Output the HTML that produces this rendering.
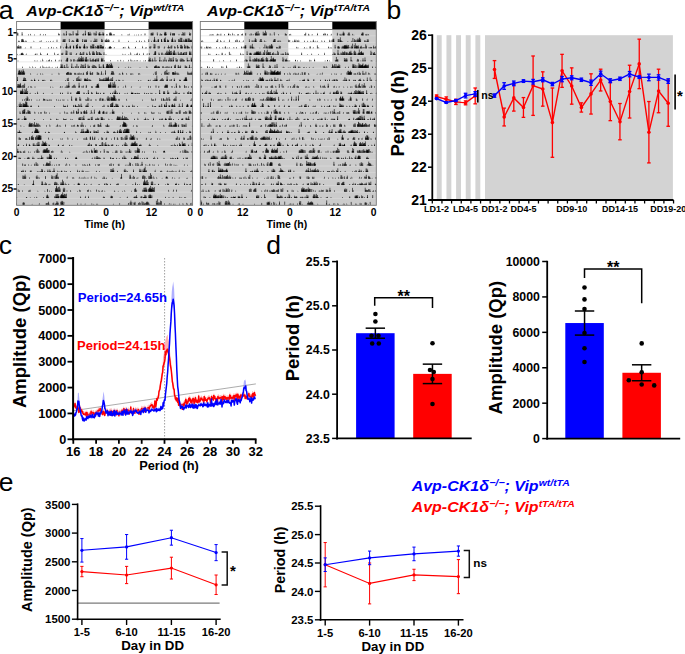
<!DOCTYPE html>
<html><head><meta charset="utf-8"><style>
html,body{margin:0;padding:0;background:#fff;}
svg{display:block;font-family:"Liberation Sans", sans-serif;}
use{fill:#000;stroke:none;}
use.n{fill:none;stroke:#000;stroke-width:0.6;}
</style></head><body>
<svg width="685" height="654" viewBox="0 0 685 654">
<defs><filter id="bl" x="-5%" y="-5%" width="110%" height="110%"><feGaussianBlur stdDeviation="0.3"/></filter><path id="wt1" d="M72.3 0L72.8 -1.2L73.3 0ZM47.9 0L48.4 -0.8L48.9 0ZM65.8 0L66.3 -1.3L66.8 0ZM28.5 0L29.0 -1.6L29.5 0ZM26.2 0L26.7 -1.3L27.2 0ZM11.3 0L11.8 -1.2L12.3 0ZM17.4 0L17.9 -1.1L18.4 0ZM65.5 0L66.0 -1.1L66.5 0ZM42.2 0L42.7 -1.8L43.2 0ZM84.1 0L84.6 -1.5L85.1 0ZM47.1 0L47.6 -1.1L48.1 0ZM13.6 0L14.1 -1.8L14.6 0ZM44.9 0L45.4 -0.9L45.9 0ZM54.4 0L54.9 -1.6L55.4 0ZM71.2 0L71.7 -1.1L72.2 -0.3L72.8 -0.8L73.2 -0.3L73.2 0ZM78.2 0L78.5 -1.0L79.1 -0.4L79.1 0ZM81.9 0L82.4 -1.1L83.2 -0.5L83.2 0ZM55.9 0L56.5 -1.2L56.9 -0.3L56.9 0ZM82.7 0L83.2 -1.6L84.0 -0.6L84.0 0ZM82.1 0L82.6 -0.7L83.0 -0.0L83.5 -0.4L83.8 -0.1L83.8 0ZM74.0 0L74.3 -0.7L74.9 -0.0L74.9 0ZM71.3 0L71.9 -1.5L72.5 -0.5L72.5 0ZM79.1 0L79.6 -1.2L80.2 -0.2L80.2 0ZM46.7 0L47.3 -0.8L47.7 -0.2L47.7 0ZM72.6 0L73.4 -1.2L73.9 -0.3L73.9 0ZM59.8 0L60.1 -0.6L60.6 -0.2L60.6 0ZM85.8 0L86.4 -1.5L86.8 -0.5L87.2 -0.7L87.7 -0.1L87.7 0ZM49.1 0L49.8 -1.6L50.5 -0.1L50.5 0ZM85.8 0L86.6 -0.7L87.1 -0.1L87.1 0ZM60.8 0L61.2 -2.0L61.8 -0.7L61.8 0ZM66.4 0L67.1 -0.9L67.5 -0.4L67.5 0ZM59.0 0L59.4 -0.5L59.8 -0.1L60.4 -0.7L60.6 -0.2L60.6 0ZM52.2 0L52.6 -0.6L53.2 -0.3L53.8 -0.7L54.2 -0.1L54.2 0ZM77.2 0L77.4 -0.8L77.8 -0.1L77.8 0ZM68.1 0L68.8 -2.0L69.3 -0.6L69.3 0ZM0.0 0L0.6 -1.1L0.9 -0.0L1.3 -0.9L1.9 -0.1L1.9 0ZM4.9 0L5.5 -1.0L6.3 -0.1L6.3 0ZM23.1 0L23.6 -1.9L24.1 0ZM41.6 0L42.1 -2.9L42.6 0Z"/>
<path id="wtn1" d="M71.7 0V-3.0M72.8 0V-1.7M78.5 0V-2.2M82.4 0V-2.5M56.5 0V-4.1M83.2 0V-3.3M82.6 0V-1.5M83.5 0V-1.3M74.3 0V-1.9M71.9 0V-3.2M79.6 0V-4.0M47.3 0V-2.4M73.4 0V-3.5M60.1 0V-1.8M86.4 0V-3.2M87.2 0V-1.9M49.8 0V-4.2M86.6 0V-1.6M61.2 0V-5.0M67.1 0V-1.9M59.4 0V-2.1M60.4 0V-1.6M52.6 0V-2.0M53.8 0V-1.8M77.4 0V-2.7M68.8 0V-4.6M0.6 0V-2.9M1.3 0V-2.4M5.5 0V-3.1"/>
<path id="wt2" d="M73.9 0L74.4 -1.7L74.9 0ZM1.5 0L2.0 -0.9L2.5 0ZM31.2 0L31.7 -0.9L32.2 0ZM52.3 0L52.8 -1.1L53.3 0ZM22.8 0L23.3 -1.1L23.8 0ZM8.1 0L8.6 -1.5L9.1 0ZM56.8 0L57.3 -1.4L57.8 0ZM2.5 0L3.0 -1.2L3.5 0ZM59.8 0L60.3 -1.0L60.8 0ZM33.4 0L33.9 -0.8L34.4 0ZM6.7 0L7.2 -1.0L7.7 0ZM36.0 0L36.5 -1.3L37.0 0ZM77.3 0L77.8 -1.1L78.3 0ZM1.4 0L1.9 -1.6L2.4 0ZM4.9 0L5.4 -0.9L5.9 0ZM84.3 0L84.8 -1.6L85.3 0ZM29.2 0L29.7 -0.9L30.2 0ZM33.5 0L34.0 -1.1L34.5 0ZM76.5 0L77.0 -1.2L77.5 0ZM6.7 0L7.2 -1.7L7.7 0ZM54.3 0L54.8 -0.9L55.3 0ZM47.2 0L47.5 -1.3L48.1 -0.6L48.5 -0.8L48.9 -0.0L48.9 0ZM45.8 0L46.5 -1.1L46.9 -0.0L47.3 -0.9L48.0 -0.2L48.0 0ZM65.3 0L66.1 -1.3L66.6 -0.0L66.6 0ZM60.2 0L60.9 -1.4L61.7 -0.5L61.7 0ZM69.4 0L69.7 -0.6L70.1 -0.0L70.1 0ZM59.8 0L60.0 -0.5L60.4 -0.1L60.4 0ZM68.4 0L68.8 -1.0L69.4 -0.1L69.9 -0.7L70.3 -0.2L70.3 0ZM52.2 0L52.7 -1.1L53.1 -0.1L53.1 0ZM77.7 0L78.3 -1.0L78.8 -0.2L78.8 0ZM59.8 0L60.4 -0.9L61.4 -0.4L61.4 0ZM78.7 0L79.1 -0.8L79.8 -0.3L80.2 -0.9L80.8 -0.2L80.8 0ZM67.3 0L68.0 -1.0L68.5 -0.2L68.5 0ZM84.6 0L85.0 -1.0L85.6 -0.3L86.0 -0.8L86.5 -0.3L86.5 0ZM59.8 0L60.3 -1.0L60.9 -0.1L61.4 -1.5L62.0 -0.5L62.0 0ZM55.4 0L55.8 -0.6L56.3 -0.1L56.8 -0.5L57.1 -0.0L57.1 0ZM4.6 0L4.9 -0.9L5.4 -0.2L5.9 -1.1L6.2 -0.1L6.6 -0.7L7.0 -0.1L7.0 0ZM16.8 0L17.3 -1.3L17.8 0ZM24.0 0L24.5 -2.1L25.0 0ZM5.3 0L5.8 -2.4L6.3 0ZM24.0 0L24.5 -1.8L25.0 0ZM39.9 0L40.4 -2.7L40.9 0ZM9.2 0L9.7 -1.3L10.2 0ZM39.8 0L40.3 -1.3L40.8 0Z"/>
<path id="wtn2" d="M47.5 0V-2.8M48.5 0V-2.8M46.5 0V-2.4M47.3 0V-2.2M66.1 0V-2.8M60.9 0V-2.9M69.7 0V-1.3M60.0 0V-1.8M68.8 0V-2.3M69.9 0V-2.3M52.7 0V-2.9M78.3 0V-3.3M60.4 0V-3.5M79.1 0V-2.3M80.2 0V-3.0M68.0 0V-2.2M85.0 0V-2.9M86.0 0V-2.2M60.3 0V-2.6M61.4 0V-3.0M55.8 0V-1.8M56.8 0V-1.2M4.9 0V-2.6M5.9 0V-2.9M6.6 0V-2.6"/>
<path id="wt3" d="M31.3 0L31.8 -1.4L32.3 0ZM81.0 0L81.5 -0.8L82.0 0ZM13.8 0L14.3 -1.5L14.8 0ZM34.2 0L34.7 -1.1L35.2 0ZM84.2 0L84.7 -1.1L85.2 0ZM62.3 0L62.8 -1.8L63.3 0ZM66.6 0L67.1 -1.5L67.6 0ZM63.1 0L63.6 -1.6L64.1 0ZM23.4 0L23.9 -1.4L24.4 0ZM70.2 0L70.7 -1.7L71.2 0ZM79.2 0L79.7 -1.7L80.2 0ZM8.1 0L8.6 -1.2L9.1 0ZM39.7 0L40.2 -1.7L40.7 0ZM36.4 0L36.9 -1.1L37.4 0ZM1.2 0L1.7 -1.1L2.2 0ZM68.2 0L68.7 -0.8L69.2 0ZM14.0 0L14.5 -1.1L15.0 0ZM46.3 0L46.8 -1.2L47.3 0ZM77.2 0L77.7 -1.0L78.2 0ZM48.9 0L49.4 -1.6L49.9 0ZM49.0 0L49.5 -0.5L50.0 -0.2L50.3 -0.8L50.9 -0.3L50.9 0ZM59.4 0L59.7 -1.0L60.2 -0.3L60.2 0ZM66.7 0L67.2 -1.0L67.7 -0.4L68.1 -1.0L68.7 -0.2L68.7 0ZM69.6 0L70.4 -0.9L71.0 -0.3L71.0 0ZM49.2 0L49.9 -1.3L50.3 -0.5L50.3 0ZM84.1 0L84.7 -1.3L85.2 -0.5L85.7 -0.6L86.2 -0.3L86.2 0ZM76.8 0L77.2 -1.3L77.7 -0.1L77.7 0ZM51.4 0L51.6 -0.5L52.1 -0.1L52.1 0ZM48.9 0L49.7 -0.8L50.4 -0.4L50.4 0ZM60.2 0L60.8 -1.6L61.6 -0.6L61.6 0ZM59.1 0L59.9 -1.4L60.6 -0.7L60.6 0ZM75.2 0L75.7 -1.4L76.2 -0.3L76.6 -1.3L77.2 -0.5L77.2 0ZM53.0 0L53.5 -0.7L54.2 -0.3L54.2 0ZM53.5 0L53.8 -0.9L54.4 -0.2L54.4 0ZM82.9 0L83.5 -1.3L83.9 -0.0L84.2 -1.5L84.8 -0.3L84.8 0ZM43.7 0L44.1 -0.8L44.6 -0.2L44.6 0ZM80.3 0L80.8 -1.2L81.3 -0.5L81.3 0ZM52.9 0L53.6 -1.3L54.3 -0.3L54.3 0ZM56.3 0L56.9 -1.2L57.8 -0.5L57.8 0ZM86.4 0L86.9 -1.0L87.6 -0.1L87.6 0ZM80.5 0L81.0 -1.1L81.4 -0.1L81.9 -0.6L82.2 -0.1L82.2 0ZM85.5 0L86.2 -0.6L86.7 -0.1L86.7 0ZM67.2 0L67.9 -2.0L68.7 -0.9L68.7 0ZM62.7 0L63.1 -1.2L63.6 -0.5L64.0 -0.8L64.5 -0.3L64.5 0ZM81.6 0L82.0 -1.0L82.4 -0.5L82.4 0ZM85.7 0L86.1 -0.4L86.4 -0.0L86.4 0ZM81.6 0L82.3 -0.9L82.8 -0.2L82.8 0ZM56.5 0L57.0 -1.2L57.7 -0.3L57.7 0ZM73.3 0L73.9 -0.7L74.3 -0.0L74.9 -0.7L75.3 -0.3L75.3 0ZM78.7 0L79.1 -0.6L79.8 -0.2L79.8 0ZM2.4 0L2.8 -0.6L3.2 -0.3L3.8 -1.1L4.1 -0.2L4.5 -0.5L4.9 -0.2L4.9 0ZM0.1 0L0.6 -0.8L1.0 -0.3L1.3 -1.1L1.8 -0.5L2.1 -1.0L2.7 -0.4L2.7 0ZM13.9 0L14.4 -2.9L14.9 0ZM34.3 0L34.8 -1.8L35.3 0Z"/>
<path id="wtn3" d="M49.5 0V-1.6M50.3 0V-2.4M59.7 0V-3.0M67.2 0V-2.7M68.1 0V-2.7M70.4 0V-2.3M49.9 0V-4.9M84.7 0V-3.3M85.7 0V-2.1M77.2 0V-3.9M51.6 0V-1.1M49.7 0V-2.4M60.8 0V-4.4M59.9 0V-3.4M75.7 0V-4.0M76.6 0V-4.0M53.5 0V-1.6M53.8 0V-2.6M83.5 0V-3.5M84.2 0V-3.3M44.1 0V-2.5M80.8 0V-3.1M53.6 0V-2.6M56.9 0V-2.6M86.9 0V-2.1M81.0 0V-2.3M81.9 0V-2.1M86.2 0V-1.7M67.9 0V-4.3M63.1 0V-2.4M64.0 0V-1.8M82.0 0V-3.1M86.1 0V-1.5M82.3 0V-2.1M57.0 0V-2.6M73.9 0V-2.7M74.9 0V-2.4M79.1 0V-2.3M2.8 0V-1.9M3.8 0V-2.4M4.5 0V-2.0M0.6 0V-2.1M1.3 0V-2.1M2.1 0V-3.1"/>
<path id="wt4" d="M30.1 0L30.6 -1.0L31.1 0ZM83.9 0L84.4 -1.6L84.9 0ZM40.2 0L40.7 -1.1L41.2 0ZM84.5 0L85.0 -1.2L85.5 0ZM18.0 0L18.5 -1.2L19.0 0ZM62.8 0L63.3 -1.6L63.8 0ZM9.1 0L9.6 -1.7L10.1 0ZM58.9 0L59.4 -0.9L59.9 0ZM73.2 0L73.7 -1.8L74.2 0ZM73.2 0L73.7 -0.8L74.2 0ZM41.1 0L41.6 -1.4L42.1 0ZM77.6 0L78.1 -1.3L78.6 0ZM6.3 0L6.8 -1.7L7.3 0ZM83.3 0L83.8 -1.3L84.3 0ZM4.2 0L4.7 -1.6L5.2 0ZM64.8 0L65.3 -1.8L65.8 0ZM0.1 0L0.6 -1.2L1.1 0ZM24.5 0L25.0 -0.9L25.5 0ZM64.2 0L64.7 -1.1L65.2 0ZM2.9 0L3.4 -0.9L3.9 0ZM70.4 0L70.9 -1.4L71.4 0ZM18.4 0L18.9 -1.5L19.4 0ZM72.5 0L72.9 -1.4L73.1 -0.6L73.1 0ZM76.2 0L76.6 -0.5L77.3 -0.0L77.7 -0.7L78.3 -0.1L78.3 0ZM75.6 0L76.1 -1.6L76.6 -0.1L77.0 -1.1L77.6 -0.1L77.6 0ZM59.9 0L60.0 -0.6L60.5 -0.1L60.5 0ZM48.8 0L49.5 -2.1L50.2 -0.3L50.2 0ZM44.8 0L45.2 -1.0L45.7 -0.1L46.2 -0.9L46.6 -0.1L46.6 0ZM69.5 0L70.1 -1.1L70.9 -0.4L70.9 0ZM79.4 0L79.9 -1.5L80.4 -0.4L81.0 -1.2L81.5 -0.2L81.5 0ZM50.2 0L50.4 -1.2L50.8 -0.2L50.8 0ZM86.6 0L87.4 -0.8L88.0 -0.2L88.0 0ZM82.2 0L82.8 -1.1L83.3 -0.0L83.3 0ZM53.0 0L53.5 -0.6L53.9 -0.1L54.6 -1.0L54.9 -0.5L54.9 0ZM81.9 0L82.5 -1.1L83.0 -0.2L83.6 -0.8L84.1 -0.3L84.1 0ZM63.2 0L63.9 -1.1L64.8 -0.2L64.8 0ZM65.8 0L66.4 -0.8L66.7 -0.2L67.2 -0.9L67.7 -0.1L67.7 0ZM4.8 0L5.7 -0.6L6.3 -0.3L6.3 0ZM4.3 0L4.8 -0.4L5.3 -0.2L5.9 -0.4L6.3 -0.1L6.3 0ZM4.2 0L4.7 -0.6L5.1 -0.2L5.4 -0.8L5.9 -0.1L5.9 0ZM37.6 0L38.1 -2.9L38.6 0ZM23.4 0L23.9 -2.9L24.4 0ZM30.5 0L31.0 -2.1L31.5 0ZM19.9 0L20.4 -1.9L20.9 0Z"/>
<path id="wtn4" d="M72.9 0V-3.3M76.6 0V-1.5M77.7 0V-2.4M76.1 0V-3.4M77.0 0V-3.5M60.0 0V-1.8M49.5 0V-4.4M45.2 0V-1.9M46.2 0V-2.1M70.1 0V-2.2M79.9 0V-3.7M81.0 0V-2.6M50.4 0V-4.0M87.4 0V-2.6M82.8 0V-2.5M53.5 0V-2.3M54.6 0V-2.5M82.5 0V-2.7M83.6 0V-2.1M63.9 0V-2.8M66.4 0V-2.5M67.2 0V-3.0M5.7 0V-2.1M4.8 0V-1.3M5.9 0V-1.4M4.7 0V-1.6M5.4 0V-2.0"/>
<path id="wt5" d="M62.5 0L63.0 -1.3L63.5 0ZM58.9 0L59.4 -1.7L59.9 0ZM20.0 0L20.5 -1.2L21.0 0ZM23.7 0L24.2 -0.9L24.7 0ZM54.2 0L54.7 -1.4L55.2 0ZM87.4 0L87.9 -1.4L88.4 0ZM34.4 0L34.9 -1.7L35.4 0ZM0.9 0L1.4 -1.1L1.9 0ZM65.7 0L66.2 -1.0L66.7 0ZM31.3 0L31.8 -1.6L32.3 0ZM29.8 0L30.3 -1.0L30.8 0ZM77.9 0L78.4 -0.9L78.9 0ZM74.9 0L75.4 -1.1L75.9 0ZM17.8 0L18.3 -1.3L18.8 0ZM42.0 0L42.5 -1.8L43.0 0ZM65.7 0L66.2 -1.3L66.7 0ZM48.7 0L49.2 -1.1L49.7 0ZM86.0 0L86.5 -1.2L87.0 0ZM77.4 0L77.9 -1.5L78.4 0ZM61.7 0L62.5 -1.5L62.9 -0.6L62.9 0ZM75.4 0L76.0 -0.8L76.8 -0.2L76.8 0ZM78.6 0L78.9 -0.4L79.4 -0.0L79.7 -1.0L80.2 -0.1L80.2 0ZM56.7 0L57.4 -0.8L58.0 -0.1L58.0 0ZM80.6 0L81.2 -1.3L81.6 -0.2L82.0 -1.5L82.6 -0.2L82.6 0ZM68.2 0L69.1 -0.6L69.7 -0.1L69.7 0ZM85.1 0L85.7 -0.9L85.9 -0.1L86.3 -1.5L86.8 -0.5L86.8 0ZM68.6 0L69.2 -1.5L69.5 -0.6L69.9 -1.4L70.4 -0.7L70.4 0ZM56.8 0L57.3 -0.6L57.8 -0.3L57.8 0ZM84.6 0L85.0 -1.5L85.4 -0.3L85.4 0ZM77.9 0L78.8 -1.0L79.5 -0.3L79.5 0ZM49.7 0L50.2 -1.0L50.7 -0.0L51.1 -1.0L51.6 -0.1L51.6 0ZM61.4 0L62.1 -1.4L62.8 -0.0L62.8 0ZM60.0 0L60.9 -0.7L61.6 -0.2L61.6 0ZM50.1 0L50.6 -0.9L50.8 -0.0L50.8 0ZM65.8 0L66.7 -2.0L67.3 -0.3L67.3 0ZM63.5 0L63.9 -1.3L64.6 -0.1L65.1 -1.2L65.7 -0.2L65.7 0ZM76.0 0L76.9 -0.8L77.5 -0.3L77.5 0ZM69.7 0L70.1 -0.6L70.7 -0.0L71.3 -1.0L71.8 -0.5L71.8 0ZM53.7 0L54.3 -0.6L55.1 -0.3L55.1 0ZM78.3 0L78.8 -0.5L79.2 -0.0L79.2 0ZM64.2 0L64.8 -2.5L65.3 -1.1L65.3 0ZM65.2 0L65.8 -1.1L66.7 -0.3L66.7 0ZM73.1 0L73.6 -1.3L74.0 -0.4L74.6 -0.6L75.0 -0.0L75.0 0ZM50.3 0L50.6 -1.6L51.0 -0.6L51.0 0ZM84.1 0L84.9 -0.8L85.4 -0.0L85.4 0ZM68.0 0L68.5 -1.3L69.1 -0.3L69.1 0ZM44.4 0L44.7 -0.6L45.4 -0.1L45.4 0ZM62.7 0L63.2 -1.0L63.8 -0.4L63.8 0ZM32.5 0L33.0 -2.5L33.5 0ZM38.3 0L38.8 -2.4L39.3 0ZM25.7 0L26.2 -3.0L26.7 0Z"/>
<path id="wtn5" d="M62.5 0V-4.2M76.0 0V-2.5M78.9 0V-1.7M79.7 0V-2.8M57.4 0V-2.3M81.2 0V-2.9M82.0 0V-3.0M69.1 0V-1.8M85.7 0V-2.3M86.3 0V-3.3M69.2 0V-4.2M69.9 0V-4.3M57.3 0V-2.0M85.0 0V-3.5M78.8 0V-2.2M50.2 0V-2.3M51.1 0V-3.3M62.1 0V-3.1M60.9 0V-2.0M50.6 0V-3.5M66.7 0V-4.0M63.9 0V-3.3M65.1 0V-2.9M76.9 0V-2.7M70.1 0V-1.3M71.3 0V-2.3M54.3 0V-2.3M78.8 0V-1.6M64.8 0V-5.2M65.8 0V-3.8M73.6 0V-3.1M74.6 0V-1.5M50.6 0V-3.6M84.9 0V-2.2M68.5 0V-2.7M44.7 0V-1.7M63.2 0V-2.3"/>
<path id="wt6" d="M26.3 0L26.8 -0.8L27.3 0ZM82.6 0L83.1 -1.6L83.6 0ZM32.7 0L33.2 -1.7L33.7 0ZM66.6 0L67.1 -1.3L67.6 0ZM83.6 0L84.1 -1.7L84.6 0ZM38.8 0L39.3 -1.2L39.8 0ZM12.8 0L13.3 -0.9L13.8 0ZM30.9 0L31.4 -1.0L31.9 0ZM5.5 0L6.0 -1.5L6.5 0ZM84.1 0L84.6 -1.5L85.1 0ZM79.4 0L79.9 -1.7L80.4 0ZM56.4 0L56.9 -1.3L57.4 0ZM31.0 0L31.5 -1.3L32.0 0ZM27.8 0L28.3 -1.0L28.8 0ZM43.1 0L43.6 -1.5L44.1 0ZM51.0 0L51.5 -1.5L52.0 0ZM29.1 0L29.6 -0.8L30.1 0ZM18.2 0L18.7 -1.1L19.2 0ZM48.2 0L48.7 -1.2L49.2 0ZM64.3 0L64.7 -1.7L64.9 -0.2L64.9 0ZM86.4 0L87.1 -0.6L87.9 -0.2L87.9 0ZM77.8 0L78.1 -0.7L78.6 -0.2L78.9 -0.9L79.4 -0.4L79.4 0ZM75.2 0L75.6 -0.6L76.2 -0.0L76.2 0ZM86.3 0L86.7 -1.1L87.3 -0.4L87.3 0ZM44.0 0L44.5 -1.1L45.0 -0.2L45.0 0ZM61.1 0L61.8 -0.5L62.5 -0.1L62.5 0ZM47.3 0L47.8 -1.1L48.5 -0.3L48.5 0ZM44.4 0L44.8 -1.1L45.3 -0.5L45.7 -1.2L46.2 -0.6L46.2 0ZM82.1 0L82.6 -1.0L83.2 -0.3L83.2 0ZM71.6 0L72.1 -0.5L72.5 -0.2L72.8 -0.6L73.4 -0.3L73.4 0ZM65.4 0L66.0 -0.8L66.7 -0.3L66.7 0ZM50.0 0L50.3 -1.0L50.9 -0.3L50.9 0ZM71.0 0L71.4 -1.0L71.8 -0.4L71.8 0ZM54.5 0L55.2 -0.4L55.6 -0.1L55.6 0ZM57.8 0L58.7 -0.5L59.4 -0.0L59.4 0ZM66.3 0L67.2 -1.4L67.8 -0.3L67.8 0ZM59.9 0L60.3 -1.5L60.7 -0.8L60.7 0ZM54.5 0L55.2 -1.7L56.0 -0.1L56.0 0ZM86.0 0L86.7 -1.2L87.2 -0.1L87.2 0ZM75.9 0L76.4 -1.4L76.8 -0.4L77.3 -1.2L77.6 -0.1L77.6 0ZM67.9 0L68.7 -1.8L69.5 -0.1L69.5 0ZM46.2 0L46.4 -0.5L46.8 -0.1L46.8 0ZM63.7 0L63.9 -0.7L64.3 -0.3L64.3 0ZM40.5 0L41.0 -1.6L41.5 0ZM23.2 0L23.7 -1.9L24.2 0ZM35.0 0L35.5 -1.2L36.0 0ZM15.7 0L16.2 -1.9L16.7 0ZM25.8 0L26.3 -2.8L26.8 0ZM12.8 0L13.3 -1.7L13.8 0ZM29.1 0L29.6 -1.4L30.1 0Z"/>
<path id="wtn6" d="M64.7 0V-3.7M87.1 0V-1.4M78.1 0V-2.6M78.9 0V-1.8M75.6 0V-1.9M86.7 0V-2.9M44.5 0V-4.0M61.8 0V-1.7M47.8 0V-2.8M44.8 0V-2.5M45.7 0V-3.5M82.6 0V-3.7M72.1 0V-1.5M72.8 0V-2.0M66.0 0V-3.1M50.3 0V-4.0M71.4 0V-3.3M55.2 0V-1.1M58.7 0V-1.8M67.2 0V-3.2M60.3 0V-4.0M55.2 0V-4.3M86.7 0V-3.8M76.4 0V-3.1M77.3 0V-2.7M68.7 0V-4.2M46.4 0V-1.2M63.9 0V-1.5"/>
<path id="wt7" d="M54.4 0L54.9 -1.4L55.4 0ZM59.9 0L60.4 -1.2L60.9 0ZM20.1 0L20.6 -0.8L21.1 0ZM52.4 0L52.9 -1.0L53.4 0ZM-0.1 0L0.4 -1.2L0.9 0ZM23.6 0L24.1 -1.5L24.6 0ZM25.7 0L26.2 -1.2L26.7 0ZM63.2 0L63.7 -1.5L64.2 0ZM13.6 0L14.1 -1.4L14.6 0ZM81.6 0L82.1 -1.7L82.6 0ZM74.2 0L74.7 -1.1L75.2 0ZM83.9 0L84.4 -1.0L84.9 0ZM34.9 0L35.4 -0.9L35.9 0ZM49.3 0L49.8 -1.5L50.3 0ZM60.0 0L60.5 -0.8L61.0 0ZM86.0 0L86.5 -1.1L87.0 0ZM64.7 0L65.2 -1.7L65.7 0ZM5.1 0L5.8 -0.7L6.1 -0.2L6.5 -2.0L7.1 -0.1L7.5 -0.8L8.1 -0.0L8.1 0ZM2.8 0L3.1 -1.3L3.6 -0.6L3.9 -1.0L4.5 -0.1L4.9 -1.8L5.3 -0.1L5.3 0ZM1.4 0L1.9 -0.5L2.4 -0.0L3.0 -1.1L3.5 -0.5L3.5 0ZM1.5 0L2.0 -1.5L2.5 -0.7L3.1 -1.3L3.6 -0.1L4.1 -0.8L4.6 -0.3L4.6 0ZM5.7 0L6.1 -1.2L6.5 -0.4L6.9 -1.4L7.4 -0.2L8.0 -0.9L8.3 -0.4L8.3 0ZM80.0 0L80.6 -1.2L81.3 -0.0L81.3 0ZM50.6 0L51.0 -1.0L51.5 -0.3L52.0 -1.2L52.4 -0.1L52.4 0ZM73.3 0L73.7 -1.1L74.2 -0.2L74.2 0ZM69.3 0L69.9 -0.9L70.7 -0.0L70.7 0ZM49.0 0L49.9 -0.4L50.6 -0.1L50.6 0ZM53.7 0L54.3 -0.9L55.0 -0.1L55.0 0ZM52.8 0L53.4 -0.8L53.8 -0.3L54.2 -0.4L54.9 -0.1L54.9 0ZM57.5 0L57.9 -0.4L58.4 -0.2L58.9 -0.4L59.4 -0.1L59.4 0ZM66.0 0L66.8 -0.8L67.6 -0.2L67.6 0ZM75.2 0L76.0 -1.2L76.5 -0.4L76.5 0ZM84.0 0L84.9 -1.0L85.5 -0.5L85.5 0ZM61.1 0L61.5 -0.5L62.0 -0.1L62.6 -0.6L62.9 -0.2L62.9 0ZM81.2 0L81.5 -0.7L82.0 -0.2L82.3 -0.3L82.9 -0.1L82.9 0ZM70.3 0L70.9 -1.6L71.5 -0.0L71.5 0ZM73.0 0L73.6 -0.5L73.9 -0.1L74.4 -0.6L74.8 -0.2L74.8 0ZM49.9 0L50.5 -0.6L50.8 -0.3L51.3 -0.8L51.8 -0.4L51.8 0ZM41.8 0L42.3 -2.0L42.8 0ZM42.0 0L42.5 -1.2L43.0 0Z"/>
<path id="wtn7" d="M5.8 0V-2.5M6.5 0V-5.1M7.5 0V-3.1M3.1 0V-3.8M3.9 0V-2.7M4.9 0V-3.9M1.9 0V-1.8M3.0 0V-3.8M2.0 0V-3.7M3.1 0V-4.1M4.1 0V-2.4M6.1 0V-2.9M6.9 0V-3.7M8.0 0V-1.9M80.6 0V-2.5M51.0 0V-2.3M52.0 0V-2.5M73.7 0V-2.9M69.9 0V-2.5M49.9 0V-1.3M54.3 0V-1.8M53.4 0V-1.8M54.2 0V-1.0M57.9 0V-1.5M58.9 0V-1.5M66.8 0V-1.7M76.0 0V-2.3M84.9 0V-3.0M61.5 0V-1.4M62.6 0V-1.7M81.5 0V-1.9M82.3 0V-1.1M70.9 0V-3.2M73.6 0V-1.2M74.4 0V-1.5M50.5 0V-1.8M51.3 0V-2.2"/>
<path id="wt8" d="M87.2 0L87.7 -1.3L88.2 0ZM6.0 0L6.5 -1.5L7.0 0ZM56.5 0L57.0 -0.9L57.5 0ZM17.9 0L18.4 -1.3L18.9 0ZM14.1 0L14.6 -1.7L15.1 0ZM86.7 0L87.2 -1.6L87.7 0ZM73.8 0L74.3 -1.1L74.8 0ZM8.9 0L9.4 -1.5L9.9 0ZM69.4 0L69.9 -1.5L70.4 0ZM15.1 0L15.6 -0.8L16.1 0ZM48.3 0L48.8 -0.9L49.3 0ZM25.4 0L25.9 -1.3L26.4 0ZM21.6 0L22.1 -1.7L22.6 0ZM27.8 0L28.3 -1.4L28.8 0ZM85.1 0L85.6 -1.5L86.1 0ZM33.4 0L33.9 -1.6L34.4 0ZM6.5 0L7.1 -1.6L7.5 -0.4L7.9 -1.2L8.5 -0.4L8.9 -0.9L9.5 -0.3L9.5 0ZM0.4 0L0.9 -1.6L1.5 -0.1L1.5 0ZM67.6 0L68.2 -0.9L69.0 -0.1L69.0 0ZM70.3 0L70.7 -1.3L71.3 -0.6L71.3 0ZM61.6 0L62.2 -2.0L63.0 -1.0L63.0 0ZM67.8 0L68.4 -0.7L69.1 -0.1L69.1 0ZM68.2 0L68.5 -1.1L69.1 -0.1L69.5 -0.7L69.9 -0.0L69.9 0ZM83.9 0L84.5 -0.4L84.9 -0.2L85.5 -0.6L85.9 -0.3L85.9 0ZM62.1 0L62.8 -0.5L63.5 -0.2L63.5 0ZM59.5 0L60.0 -0.9L60.3 -0.0L60.8 -1.1L61.1 -0.4L61.1 0ZM71.9 0L72.2 -0.6L72.8 -0.1L73.3 -0.7L73.8 -0.3L73.8 0ZM50.3 0L50.7 -0.7L51.3 -0.2L51.7 -0.8L52.3 -0.0L52.3 0ZM85.9 0L86.5 -0.6L86.9 -0.1L87.4 -1.2L87.8 -0.3L87.8 0ZM68.3 0L68.7 -1.0L69.2 -0.5L69.5 -0.5L70.1 -0.1L70.1 0ZM83.4 0L84.2 -0.7L84.8 -0.3L84.8 0ZM82.7 0L83.1 -1.2L83.5 -0.3L83.5 0ZM63.6 0L64.3 -0.8L64.7 -0.0L64.7 0ZM26.4 0L26.9 -1.3L27.4 0ZM17.3 0L17.8 -2.9L18.3 0ZM34.7 0L35.2 -1.6L35.7 0Z"/>
<path id="wtn8" d="M7.1 0V-3.2M7.9 0V-3.3M8.9 0V-2.9M0.9 0V-4.0M68.2 0V-2.3M70.7 0V-3.0M62.2 0V-4.6M68.4 0V-1.8M68.5 0V-2.3M69.5 0V-1.8M84.5 0V-1.4M85.5 0V-1.6M62.8 0V-1.6M60.0 0V-2.7M60.8 0V-3.5M72.2 0V-1.7M73.3 0V-1.7M50.7 0V-2.6M51.7 0V-3.1M86.5 0V-2.0M87.4 0V-2.9M68.7 0V-2.2M69.5 0V-1.8M84.2 0V-1.8M83.1 0V-2.8M64.3 0V-2.4"/>
<path id="wt9" d="M33.5 0L34.0 -1.2L34.5 0ZM75.5 0L76.0 -1.5L76.5 0ZM79.7 0L80.2 -0.8L80.7 0ZM11.1 0L11.6 -1.3L12.1 0ZM51.2 0L51.7 -1.2L52.2 0ZM45.0 0L45.5 -1.7L46.0 0ZM49.0 0L49.5 -1.1L50.0 0ZM43.5 0L44.0 -1.1L44.5 0ZM55.0 0L55.5 -1.4L56.0 0ZM61.8 0L62.3 -1.8L62.8 0ZM43.4 0L43.9 -0.8L44.4 0ZM43.1 0L43.6 -1.3L44.1 0ZM69.1 0L69.6 -1.7L70.1 0ZM13.7 0L14.2 -1.7L14.7 0ZM14.7 0L15.2 -1.4L15.7 0ZM-0.1 0L0.4 -1.6L0.9 0ZM35.8 0L36.3 -1.0L36.8 0ZM1.8 0L2.2 -0.8L2.6 -0.1L3.0 -1.0L3.5 -0.4L3.8 -1.8L4.3 -0.1L4.7 -0.5L5.1 -0.1L5.1 0ZM5.6 0L6.0 -1.0L6.6 -0.2L7.0 -0.7L7.5 -0.3L8.0 -1.2L8.5 -0.3L8.5 0ZM0.7 0L1.1 -1.4L1.6 -0.4L1.9 -0.8L2.4 -0.1L2.8 -0.7L3.3 -0.1L3.8 -0.8L4.1 -0.2L4.1 0ZM56.0 0L56.2 -0.5L56.5 -0.2L56.5 0ZM58.2 0L58.6 -0.6L59.1 -0.3L59.1 0ZM80.4 0L80.9 -1.4L81.3 -0.3L81.7 -1.5L82.2 -0.3L82.2 0ZM74.4 0L75.1 -0.6L75.8 -0.2L75.8 0ZM66.5 0L66.8 -0.5L67.2 -0.1L67.2 0ZM56.7 0L57.0 -0.6L57.4 -0.0L57.4 0ZM80.5 0L80.9 -0.5L81.6 -0.0L82.1 -0.8L82.7 -0.2L82.7 0ZM57.2 0L57.7 -0.9L58.0 -0.4L58.0 0ZM68.9 0L69.7 -1.1L70.4 -0.2L70.4 0ZM79.3 0L80.0 -0.8L80.8 -0.0L80.8 0ZM51.5 0L52.2 -2.3L52.9 -0.9L52.9 0ZM80.1 0L80.6 -1.3L81.2 -0.6L81.7 -0.7L82.2 -0.3L82.2 0ZM49.9 0L50.4 -0.9L50.7 -0.2L51.1 -0.6L51.5 -0.2L51.5 0ZM78.9 0L79.3 -0.4L79.8 -0.0L79.8 0ZM64.8 0L65.4 -0.5L66.0 -0.2L66.0 0ZM61.7 0L62.5 -2.1L63.2 -0.6L63.2 0ZM48.0 0L48.5 -1.1L49.0 0ZM17.9 0L18.4 -1.4L18.9 0Z"/>
<path id="wtn9" d="M2.2 0V-1.9M3.0 0V-3.2M3.8 0V-4.2M4.7 0V-1.6M6.0 0V-2.3M7.0 0V-2.6M8.0 0V-3.8M1.1 0V-3.3M1.9 0V-3.3M2.8 0V-2.1M3.8 0V-3.1M56.2 0V-1.5M58.6 0V-1.7M80.9 0V-3.4M81.7 0V-3.9M75.1 0V-1.3M66.8 0V-1.8M57.0 0V-2.1M80.9 0V-1.7M82.1 0V-1.7M57.7 0V-2.8M69.7 0V-2.5M80.0 0V-1.7M52.2 0V-5.3M80.6 0V-3.4M81.7 0V-2.7M50.4 0V-2.5M51.1 0V-1.3M79.3 0V-1.2M65.4 0V-1.5M62.5 0V-4.7"/>
<path id="wt10" d="M8.4 0L8.9 -1.1L9.4 0ZM75.1 0L75.6 -1.5L76.1 0ZM81.6 0L82.1 -1.6L82.6 0ZM18.1 0L18.6 -1.2L19.1 0ZM86.5 0L87.0 -1.5L87.5 0ZM69.4 0L69.9 -0.9L70.4 0ZM83.4 0L83.9 -1.4L84.4 0ZM13.0 0L13.5 -1.4L14.0 0ZM80.1 0L80.6 -1.3L81.1 0ZM86.9 0L87.4 -1.7L87.9 0ZM43.3 0L43.8 -1.8L44.3 0ZM67.0 0L67.5 -1.1L68.0 0ZM8.2 0L8.7 -0.8L9.2 0ZM45.4 0L45.9 -1.6L46.4 0ZM3.5 0L4.0 -1.4L4.5 -0.4L5.1 -0.9L5.6 -0.0L5.6 0ZM7.4 0L8.3 -2.1L8.9 -1.0L8.9 0ZM3.7 0L4.0 -0.9L4.5 -0.2L4.8 -0.8L5.3 -0.2L5.7 -0.8L6.2 -0.0L6.2 0ZM8.6 0L9.1 -1.2L9.5 -0.5L10.0 -2.1L10.5 -0.8L11.0 -0.8L11.4 -0.1L11.4 0ZM4.3 0L4.6 -0.8L5.1 -0.0L5.5 -1.9L5.9 -0.5L6.5 -1.3L6.8 -0.1L6.8 0ZM5.4 0L6.1 -1.5L7.0 -0.1L7.0 0ZM67.1 0L67.3 -0.7L67.7 -0.2L67.7 0ZM79.3 0L79.9 -0.8L80.5 -0.0L80.5 0ZM71.1 0L71.7 -1.4L72.5 -0.3L72.5 0ZM61.1 0L61.6 -0.8L62.1 -0.0L62.5 -0.7L63.1 -0.1L63.1 0ZM61.3 0L61.9 -1.3L62.3 -0.5L62.8 -1.0L63.4 -0.1L63.4 0ZM60.1 0L60.9 -1.1L61.5 -0.0L61.5 0ZM53.5 0L54.2 -0.7L54.6 -0.2L54.6 0ZM59.4 0L60.1 -0.7L60.5 -0.3L61.1 -0.5L61.5 -0.2L61.5 0ZM74.6 0L75.0 -0.8L75.2 -0.4L75.2 0ZM20.6 0L21.1 -2.8L21.6 0ZM35.0 0L35.5 -1.2L36.0 0ZM26.2 0L26.7 -1.5L27.2 0ZM50.9 0L51.4 -2.8L51.9 0Z"/>
<path id="wtn10" d="M4.0 0V-3.4M5.1 0V-2.9M8.3 0V-5.1M4.0 0V-2.3M4.8 0V-2.6M5.7 0V-2.4M9.1 0V-3.6M10.0 0V-5.7M11.0 0V-2.9M4.6 0V-2.1M5.5 0V-4.1M6.5 0V-2.8M6.1 0V-5.3M67.3 0V-1.4M79.9 0V-2.3M71.7 0V-3.9M61.6 0V-2.2M62.5 0V-2.3M61.9 0V-2.8M62.8 0V-2.8M60.9 0V-2.8M54.2 0V-1.5M60.1 0V-1.7M61.1 0V-1.6M75.0 0V-2.0"/>
<path id="wt11" d="M33.1 0L33.6 -1.2L34.1 0ZM27.9 0L28.4 -1.7L28.9 0ZM39.6 0L40.1 -1.6L40.6 0ZM50.8 0L51.3 -1.2L51.8 0ZM7.3 0L7.8 -1.7L8.3 0ZM41.8 0L42.3 -0.9L42.8 0ZM41.5 0L42.0 -0.8L42.5 0ZM27.5 0L28.0 -1.7L28.5 0ZM29.8 0L30.3 -1.1L30.8 0ZM26.2 0L26.7 -1.4L27.2 0ZM43.4 0L43.9 -1.2L44.4 0ZM74.5 0L75.0 -1.3L75.5 0ZM73.2 0L73.7 -1.2L74.2 0ZM30.4 0L30.9 -1.0L31.4 0ZM5.4 0L5.9 -1.4L6.4 0ZM30.9 0L31.4 -0.9L31.9 0ZM45.8 0L46.3 -1.5L46.8 0ZM54.9 0L55.4 -0.8L55.9 0ZM32.1 0L32.6 -1.5L33.1 0ZM34.3 0L34.8 -1.2L35.3 0ZM68.9 0L69.4 -1.0L69.9 0ZM14.5 0L15.0 -1.6L15.5 0ZM9.1 0L9.5 -0.7L10.1 -0.3L10.6 -2.1L11.0 -0.3L11.3 -0.9L11.9 -0.3L11.9 0ZM85.4 0L85.9 -0.5L86.2 -0.2L86.2 0ZM68.8 0L69.2 -0.4L69.8 -0.2L70.4 -0.3L70.7 -0.0L70.7 0ZM82.5 0L83.1 -0.7L83.6 -0.2L83.6 0ZM83.8 0L84.1 -1.0L84.7 -0.4L84.7 0ZM58.6 0L59.1 -0.5L59.6 -0.2L60.0 -1.2L60.6 -0.4L60.6 0ZM78.8 0L79.3 -0.4L79.9 -0.2L79.9 0ZM58.6 0L59.1 -0.8L59.3 -0.4L59.3 0ZM54.3 0L55.0 -1.5L55.5 -0.5L55.5 0ZM62.6 0L63.2 -1.5L63.6 -0.1L64.1 -0.8L64.6 -0.3L64.6 0ZM70.7 0L71.2 -0.9L71.7 -0.0L72.2 -0.7L72.6 -0.2L72.6 0ZM85.1 0L85.7 -0.5L86.1 -0.1L86.5 -1.0L87.0 -0.3L87.0 0ZM22.1 0L22.6 -1.4L23.1 0ZM26.8 0L27.3 -2.6L27.8 0ZM46.9 0L47.4 -1.5L47.9 0ZM19.9 0L20.4 -1.1L20.9 0ZM12.3 0L12.8 -1.7L13.3 0Z"/>
<path id="wtn11" d="M9.5 0V-2.5M10.6 0V-4.2M11.3 0V-3.0M85.9 0V-1.4M69.2 0V-1.2M70.4 0V-1.1M83.1 0V-1.9M84.1 0V-2.6M59.1 0V-1.4M60.0 0V-2.6M79.3 0V-1.3M59.1 0V-2.7M55.0 0V-4.0M63.2 0V-3.5M64.1 0V-1.8M71.2 0V-3.2M72.2 0V-2.1M85.7 0V-1.9M86.5 0V-1.9"/>
<path id="wt12" d="M11.1 0L11.6 -1.4L12.1 0ZM48.5 0L49.0 -1.7L49.5 0ZM70.8 0L71.3 -0.9L71.8 0ZM47.6 0L48.1 -1.2L48.6 0ZM3.1 0L3.6 -1.4L4.1 0ZM85.4 0L85.9 -0.9L86.4 0ZM-0.1 0L0.4 -1.0L0.9 0ZM37.3 0L37.8 -1.1L38.3 0ZM60.5 0L61.0 -1.1L61.5 0ZM75.4 0L75.9 -0.9L76.4 0ZM13.2 0L13.7 -1.8L14.2 0ZM5.9 0L6.4 -1.6L6.9 0ZM6.9 0L7.4 -1.0L7.9 0ZM8.1 0L8.6 -0.9L8.9 -0.1L9.4 -2.0L9.8 -0.5L10.2 -1.3L10.6 -0.5L11.1 -0.7L11.4 -0.2L11.4 0ZM7.9 0L8.2 -0.9L8.7 -0.3L9.2 -1.9L9.5 -0.0L10.0 -1.9L10.3 -0.6L10.3 0ZM6.0 0L6.5 -1.6L6.8 -0.6L7.1 -1.2L7.7 -0.3L7.7 0ZM6.4 0L6.7 -0.9L7.3 -0.2L7.8 -1.5L8.2 -0.6L8.6 -1.1L9.2 -0.0L9.2 0ZM2.3 0L2.6 -1.4L3.1 -0.4L3.5 -1.7L3.9 -0.7L4.2 -0.8L4.7 -0.2L5.1 -0.9L5.5 -0.2L5.5 0ZM70.5 0L71.4 -1.0L72.1 -0.3L72.1 0ZM64.1 0L64.5 -1.5L65.0 -0.1L65.0 0ZM58.4 0L59.0 -0.7L59.4 -0.0L60.0 -0.4L60.4 -0.1L60.4 0ZM64.8 0L65.2 -0.3L65.7 -0.1L65.7 0ZM86.5 0L87.4 -0.8L87.9 -0.2L87.9 0ZM61.8 0L62.1 -0.8L62.7 -0.0L63.2 -0.8L63.5 -0.0L63.5 0ZM56.4 0L57.0 -0.6L57.5 -0.3L57.5 0ZM58.0 0L58.8 -0.9L59.4 -0.2L59.4 0ZM68.6 0L69.2 -0.5L69.7 -0.2L70.3 -1.0L70.8 -0.1L70.8 0ZM70.0 0L70.4 -0.4L70.7 -0.1L70.7 0ZM14.5 0L15.0 -1.9L15.5 0ZM21.6 0L22.1 -1.9L22.6 0ZM50.2 0L50.7 -2.6L51.2 0ZM46.7 0L47.2 -2.9L47.7 0Z"/>
<path id="wtn12" d="M8.6 0V-2.4M9.4 0V-5.3M10.2 0V-4.9M11.1 0V-2.1M8.2 0V-2.6M9.2 0V-5.4M10.0 0V-3.8M6.5 0V-3.7M7.1 0V-3.4M6.7 0V-2.2M7.8 0V-3.2M8.6 0V-2.8M2.6 0V-2.9M3.5 0V-4.4M4.2 0V-3.0M5.1 0V-2.9M71.4 0V-4.0M64.5 0V-3.3M59.0 0V-1.7M60.0 0V-0.9M65.2 0V-1.1M87.4 0V-2.2M62.1 0V-2.9M63.2 0V-2.0M57.0 0V-2.0M58.8 0V-2.2M69.2 0V-1.4M70.3 0V-2.4M70.4 0V-1.3"/>
<path id="wt13" d="M6.0 0L6.5 -1.5L7.0 0ZM9.3 0L9.8 -1.1L10.3 0ZM24.2 0L24.7 -1.7L25.2 0ZM75.8 0L76.3 -1.1L76.8 0ZM32.5 0L33.0 -1.3L33.5 0ZM3.7 0L4.2 -0.8L4.7 0ZM49.6 0L50.1 -1.3L50.6 0ZM54.9 0L55.4 -1.7L55.9 0ZM11.7 0L12.2 -1.7L12.7 0ZM17.9 0L18.4 -1.7L18.9 0ZM13.5 0L14.0 -1.2L14.5 0ZM64.3 0L64.8 -1.0L65.3 0ZM9.8 0L10.3 -1.1L10.8 0ZM29.1 0L29.6 -1.7L30.1 0ZM21.6 0L22.1 -1.5L22.6 0ZM73.0 0L73.5 -0.8L74.0 0ZM23.6 0L24.1 -1.7L24.6 0ZM50.7 0L51.2 -1.0L51.7 0ZM42.9 0L43.4 -1.2L43.9 0ZM5.4 0L5.9 -0.9L6.3 -0.3L6.7 -1.6L7.2 -0.3L7.6 -1.6L8.1 -0.5L8.1 0ZM12.2 0L12.6 -1.1L13.0 -0.4L13.3 -0.7L13.9 -0.0L13.9 0ZM11.0 0L11.3 -1.4L11.8 -0.4L12.2 -1.4L12.6 -0.3L12.6 0ZM7.1 0L7.6 -1.7L7.9 -0.7L8.2 -1.1L8.8 -0.3L8.8 0ZM2.8 0L3.4 -0.7L3.8 -0.3L3.8 0ZM68.9 0L69.4 -0.9L70.0 -0.1L70.4 -0.3L71.0 -0.0L71.0 0ZM59.5 0L59.9 -0.7L60.1 -0.0L60.1 0ZM69.6 0L70.0 -0.9L70.3 -0.4L70.3 0ZM82.4 0L82.9 -0.9L83.5 -0.4L83.5 0ZM86.6 0L87.2 -1.1L88.0 -0.4L88.0 0ZM56.9 0L57.1 -1.5L57.6 -0.7L57.6 0ZM82.4 0L82.8 -0.4L83.0 -0.0L83.0 0ZM59.4 0L60.0 -0.9L60.4 -0.4L61.0 -0.3L61.4 -0.2L61.4 0ZM82.0 0L82.6 -1.1L82.9 -0.4L83.4 -0.6L83.9 -0.3L83.9 0ZM81.5 0L82.0 -0.6L82.4 -0.0L82.8 -0.8L83.3 -0.4L83.3 0ZM85.8 0L86.2 -0.7L86.7 -0.0L87.1 -0.9L87.6 -0.4L87.6 0ZM61.1 0L61.7 -2.0L62.2 -0.7L62.2 0ZM63.8 0L64.4 -0.7L64.7 -0.0L65.0 -0.7L65.6 -0.1L65.6 0ZM74.1 0L74.7 -1.5L74.9 -0.7L74.9 0ZM77.5 0L77.8 -1.8L78.3 -0.2L78.3 0ZM67.0 0L67.5 -0.8L67.9 -0.2L68.4 -0.9L68.7 -0.2L68.7 0ZM67.5 0L67.9 -0.8L68.5 -0.3L68.5 0ZM86.0 0L86.7 -0.6L87.5 -0.1L87.5 0ZM67.0 0L67.3 -1.0L67.7 -0.2L67.7 0ZM47.7 0L48.2 -2.7L48.7 0ZM27.8 0L28.3 -2.9L28.8 0ZM27.6 0L28.1 -2.3L28.6 0ZM54.0 0L54.5 -2.4L55.0 0ZM17.7 0L18.2 -2.2L18.7 0ZM50.5 0L51.0 -1.1L51.5 0Z"/>
<path id="wtn13" d="M5.9 0V-2.8M6.7 0V-3.6M7.6 0V-3.4M12.6 0V-2.3M13.3 0V-2.4M11.3 0V-3.2M12.2 0V-3.1M7.6 0V-4.0M8.2 0V-4.5M3.4 0V-2.0M69.4 0V-1.9M70.4 0V-1.1M59.9 0V-2.0M70.0 0V-3.3M82.9 0V-3.0M87.2 0V-2.5M57.1 0V-3.1M82.8 0V-1.6M60.0 0V-2.6M61.0 0V-1.2M82.6 0V-2.5M83.4 0V-2.1M82.0 0V-1.4M82.8 0V-1.9M86.2 0V-1.6M87.1 0V-1.9M61.7 0V-4.7M64.4 0V-2.0M65.0 0V-1.4M74.7 0V-3.2M77.8 0V-3.8M67.5 0V-1.8M68.4 0V-2.0M67.9 0V-3.0M86.7 0V-1.9M67.3 0V-2.4"/>
<path id="wt14" d="M33.8 0L34.3 -1.8L34.8 0ZM7.1 0L7.6 -1.0L8.1 0ZM55.2 0L55.7 -0.9L56.2 0ZM53.8 0L54.3 -1.4L54.8 0ZM48.1 0L48.6 -1.2L49.1 0ZM40.8 0L41.3 -1.2L41.8 0ZM33.6 0L34.1 -1.1L34.6 0ZM26.4 0L26.9 -1.0L27.4 0ZM49.0 0L49.5 -1.4L50.0 0ZM47.5 0L48.0 -1.3L48.5 0ZM70.9 0L71.4 -1.7L71.9 0ZM5.0 0L5.5 -1.2L6.0 0ZM40.9 0L41.4 -0.9L41.9 0ZM7.1 0L7.6 -0.7L8.3 -0.0L8.9 -0.8L9.5 -0.3L9.5 0ZM7.7 0L8.1 -1.6L8.8 -0.8L9.4 -0.7L10.0 -0.3L10.0 0ZM0.8 0L1.4 -0.5L1.8 -0.2L2.3 -0.5L2.8 -0.1L2.8 0ZM78.5 0L79.0 -0.6L79.3 -0.0L79.8 -0.4L80.1 -0.1L80.1 0ZM74.2 0L74.7 -1.1L75.1 -0.2L75.6 -0.9L76.0 -0.3L76.0 0ZM65.0 0L65.5 -1.0L66.1 -0.4L66.1 0ZM62.3 0L62.6 -0.9L62.9 -0.0L62.9 0ZM86.8 0L87.3 -0.4L88.0 -0.1L88.0 0ZM61.9 0L62.3 -0.5L62.7 -0.0L63.2 -0.7L63.6 -0.1L63.6 0ZM71.4 0L71.9 -0.3L72.4 -0.1L73.0 -0.5L73.5 -0.1L73.5 0ZM84.1 0L84.6 -1.4L85.2 -0.4L85.6 -1.1L86.3 -0.2L86.3 0ZM63.3 0L64.1 -0.9L64.8 -0.0L64.8 0ZM66.5 0L67.2 -2.1L68.0 -0.4L68.0 0ZM80.4 0L81.0 -0.6L81.5 -0.0L82.1 -0.9L82.6 -0.3L82.6 0ZM84.6 0L85.4 -1.0L86.1 -0.3L86.1 0ZM17.6 0L18.1 -1.1L18.6 0ZM39.5 0L40.0 -1.6L40.5 0ZM46.6 0L47.1 -2.1L47.6 0Z"/>
<path id="wtn14" d="M7.6 0V-1.7M8.9 0V-1.9M8.1 0V-3.9M9.4 0V-2.1M1.4 0V-1.2M2.3 0V-1.8M79.0 0V-1.3M79.8 0V-1.4M74.7 0V-2.9M75.6 0V-3.2M65.5 0V-3.1M62.6 0V-2.7M87.3 0V-1.4M62.3 0V-1.8M63.2 0V-2.4M71.9 0V-1.2M73.0 0V-1.3M84.6 0V-3.0M85.6 0V-2.6M64.1 0V-2.9M67.2 0V-4.3M81.0 0V-2.3M82.1 0V-1.8M85.4 0V-2.7"/>
<path id="wt15" d="M3.8 0L4.3 -1.7L4.8 0ZM6.9 0L7.4 -0.8L7.9 0ZM84.1 0L84.6 -1.0L85.1 0ZM40.2 0L40.7 -1.2L41.2 0ZM23.1 0L23.6 -1.3L24.1 0ZM77.1 0L77.6 -1.2L78.1 0ZM54.9 0L55.4 -1.8L55.9 0ZM39.1 0L39.6 -1.1L40.1 0ZM42.0 0L42.5 -1.6L43.0 0ZM60.1 0L60.6 -1.8L61.1 0ZM29.3 0L29.8 -1.7L30.3 0ZM33.0 0L33.5 -0.8L34.0 0ZM56.2 0L56.7 -1.7L57.2 0ZM20.5 0L21.0 -1.7L21.5 0ZM73.5 0L74.0 -1.1L74.5 0ZM68.5 0L69.0 -1.1L69.5 0ZM54.6 0L55.1 -1.3L55.6 0ZM12.5 0L12.9 -1.1L13.4 -0.5L13.8 -1.0L14.3 -0.2L14.9 -0.9L15.2 -0.0L15.7 -1.6L16.1 -0.1L16.1 0ZM11.9 0L12.4 -1.0L12.7 -0.4L13.3 -1.6L13.6 -0.2L14.1 -1.1L14.4 -0.4L14.8 -0.8L15.2 -0.3L15.2 0ZM18.7 0L19.1 -0.8L19.6 -0.2L20.0 -1.3L20.5 -0.5L20.8 -0.8L21.4 -0.2L21.8 -1.1L22.3 -0.2L22.3 0ZM16.7 0L17.1 -1.1L17.6 -0.2L17.9 -1.7L18.5 -0.5L19.0 -0.4L19.4 -0.2L19.4 0ZM63.8 0L64.3 -0.8L64.9 -0.4L65.4 -1.9L66.0 -0.2L66.0 0ZM66.3 0L66.7 -0.6L67.2 -0.2L67.2 0ZM76.4 0L77.1 -0.4L77.5 -0.2L78.1 -0.8L78.6 -0.3L78.6 0ZM81.0 0L81.6 -0.6L82.2 -0.2L82.2 0ZM81.1 0L81.6 -0.8L82.1 -0.3L82.7 -0.6L83.2 -0.3L83.2 0ZM83.4 0L84.1 -1.7L84.6 -0.1L84.6 0ZM60.7 0L61.2 -2.4L61.7 0ZM57.6 0L58.1 -2.3L58.6 0ZM48.4 0L48.9 -2.8L49.4 0ZM61.3 0L61.8 -1.7L62.3 0ZM32.8 0L33.3 -2.5L33.8 0ZM40.4 0L40.9 -3.0L41.4 0ZM43.6 0L44.1 -1.2L44.6 0ZM22.5 0L23.0 -2.5L23.5 0Z"/>
<path id="wtn15" d="M12.9 0V-3.2M13.8 0V-3.1M14.9 0V-3.3M15.7 0V-3.3M12.4 0V-2.2M13.3 0V-3.9M14.1 0V-2.4M14.8 0V-2.3M19.1 0V-1.8M20.0 0V-3.6M20.8 0V-2.8M21.8 0V-2.9M17.1 0V-2.6M17.9 0V-4.3M19.0 0V-1.5M64.3 0V-1.8M65.4 0V-4.0M66.7 0V-1.7M77.1 0V-1.3M78.1 0V-1.8M81.6 0V-2.2M81.6 0V-2.2M82.7 0V-1.6M84.1 0V-3.6"/>
<path id="wt16" d="M59.0 0L59.5 -1.0L60.0 0ZM32.4 0L32.9 -1.2L33.4 0ZM68.1 0L68.6 -1.5L69.1 0ZM80.5 0L81.0 -1.1L81.5 0ZM87.2 0L87.7 -1.3L88.2 0ZM31.4 0L31.9 -1.7L32.4 0ZM15.1 0L15.6 -1.8L16.1 0ZM1.4 0L1.9 -1.0L2.4 0ZM47.1 0L47.6 -1.1L48.1 0ZM63.7 0L64.2 -1.4L64.7 0ZM21.5 0L22.0 -1.3L22.5 0ZM0.8 0L1.3 -1.7L1.8 0ZM4.0 0L4.5 -1.1L5.0 0ZM79.3 0L79.8 -1.3L80.3 0ZM47.5 0L48.0 -1.4L48.5 0ZM17.6 0L18.0 -1.1L18.5 -0.1L18.9 -1.8L19.4 -0.6L20.0 -1.2L20.3 -0.3L20.8 -0.6L21.2 -0.2L21.2 0ZM18.9 0L19.2 -1.3L19.8 -0.1L20.3 -1.5L20.7 -0.6L21.2 -1.1L21.6 -0.1L22.2 -0.7L22.5 -0.2L22.5 0ZM18.7 0L19.2 -0.8L19.6 -0.0L20.1 -1.0L20.5 -0.4L21.0 -1.7L21.5 -0.0L21.5 0ZM2.3 0L2.8 -0.8L3.6 -0.3L3.6 0ZM2.1 0L2.6 -0.4L3.2 -0.1L3.8 -0.5L4.2 -0.2L4.2 0ZM1.9 0L2.7 -0.5L3.2 -0.2L3.2 0ZM68.2 0L68.8 -0.8L69.7 -0.3L69.7 0ZM64.6 0L65.2 -1.9L65.7 -0.3L65.7 0ZM65.7 0L66.5 -1.8L67.3 -0.1L67.3 0ZM79.4 0L79.7 -0.5L80.1 -0.1L80.1 0ZM71.6 0L72.2 -0.7L72.4 -0.1L72.4 0ZM70.0 0L70.6 -1.2L70.9 -0.0L71.4 -1.0L71.8 -0.3L71.8 0ZM79.0 0L79.6 -0.4L80.2 -0.1L80.2 0ZM69.5 0L70.0 -0.8L70.4 -0.1L70.9 -1.4L71.2 -0.5L71.2 0ZM77.0 0L77.4 -0.9L78.0 -0.4L78.4 -0.6L78.9 -0.1L78.9 0ZM80.8 0L81.4 -0.9L82.0 -0.1L82.0 0ZM68.9 0L69.7 -0.8L70.4 -0.4L70.4 0ZM71.1 0L71.5 -1.5L72.0 -0.7L72.0 0ZM73.1 0L74.0 -0.9L74.6 -0.1L74.6 0ZM66.0 0L66.6 -0.6L67.1 -0.2L67.5 -0.4L68.1 -0.1L68.1 0ZM58.7 0L59.2 -2.2L59.7 0ZM28.2 0L28.7 -1.5L29.2 0Z"/>
<path id="wtn16" d="M18.0 0V-2.3M18.9 0V-4.8M20.0 0V-4.5M20.8 0V-1.9M19.2 0V-3.0M20.3 0V-3.5M21.2 0V-3.1M22.2 0V-2.1M19.2 0V-2.9M20.1 0V-3.6M21.0 0V-3.7M2.8 0V-2.6M2.6 0V-1.1M3.8 0V-1.1M2.7 0V-1.2M68.8 0V-1.8M65.2 0V-3.8M66.5 0V-4.2M79.7 0V-1.8M72.2 0V-1.7M70.6 0V-4.3M71.4 0V-3.4M79.6 0V-1.6M70.0 0V-2.1M70.9 0V-3.1M77.4 0V-2.5M78.4 0V-2.1M81.4 0V-3.0M69.7 0V-1.7M71.5 0V-3.1M74.0 0V-1.9M66.6 0V-1.8M67.5 0V-1.6"/>
<path id="wt17" d="M10.8 0L11.3 -0.9L11.8 0ZM43.8 0L44.3 -1.6L44.8 0ZM45.2 0L45.7 -1.5L46.2 0ZM77.3 0L77.8 -1.6L78.3 0ZM8.3 0L8.8 -0.8L9.3 0ZM81.3 0L81.8 -1.1L82.3 0ZM75.5 0L76.0 -1.0L76.5 0ZM76.9 0L77.4 -1.2L77.9 0ZM2.0 0L2.5 -1.8L3.0 0ZM9.8 0L10.3 -0.8L10.8 0ZM70.0 0L70.5 -1.1L71.0 0ZM2.3 0L2.8 -0.8L3.3 0ZM35.3 0L35.8 -0.9L36.3 0ZM21.1 0L21.7 -0.8L22.1 -0.2L22.4 -1.0L23.0 -0.5L23.5 -1.1L24.0 -0.4L24.0 0ZM19.6 0L19.9 -1.3L20.5 -0.2L21.0 -1.2L21.4 -0.3L22.0 -0.6L22.3 -0.1L22.3 0ZM20.6 0L21.2 -1.0L21.7 -0.1L22.2 -1.5L22.7 -0.5L23.3 -1.3L23.8 -0.1L23.8 0ZM21.6 0L22.3 -1.8L22.8 -0.2L23.4 -1.4L24.0 -0.1L24.0 0ZM22.0 0L22.4 -0.9L22.9 -0.1L23.3 -1.5L23.8 -0.7L24.4 -1.5L24.8 -0.3L24.8 0ZM18.2 0L18.9 -1.2L19.7 -0.1L19.7 0ZM14.3 0L14.9 -0.9L15.4 -0.2L16.0 -1.3L16.4 -0.4L17.0 -1.1L17.4 -0.5L17.4 0ZM14.3 0L14.6 -1.0L15.2 -0.5L15.7 -1.0L16.0 -0.3L16.0 0ZM2.1 0L2.6 -0.8L3.3 -0.2L3.9 -0.4L4.5 -0.2L4.5 0ZM12.2 0L12.9 -1.0L13.7 -0.0L13.7 0ZM8.3 0L9.0 -0.3L9.3 -0.1L9.9 -0.6L10.4 -0.3L10.4 0ZM84.5 0L85.1 -0.8L85.3 -0.4L85.3 0ZM73.1 0L73.7 -1.2L74.4 -0.5L74.4 0ZM67.8 0L68.4 -0.7L69.3 -0.1L69.3 0ZM75.3 0L75.9 -1.3L76.5 -0.4L76.5 0ZM69.2 0L69.9 -1.1L70.7 -0.2L70.7 0ZM77.9 0L78.2 -0.9L78.7 -0.2L78.7 0ZM73.1 0L73.8 -1.2L74.5 -0.4L74.5 0ZM85.3 0L86.0 -0.7L86.6 -0.3L86.6 0ZM66.7 0L67.2 -1.5L67.7 0ZM31.6 0L32.1 -2.5L32.6 0ZM60.4 0L60.9 -1.1L61.4 0ZM50.8 0L51.3 -2.7L51.8 0ZM55.2 0L55.7 -1.3L56.2 0Z"/>
<path id="wtn17" d="M21.7 0V-2.5M22.4 0V-4.1M23.5 0V-3.7M19.9 0V-4.0M21.0 0V-4.1M22.0 0V-1.8M21.2 0V-2.2M22.2 0V-4.0M23.3 0V-3.2M22.3 0V-4.4M23.4 0V-3.7M22.4 0V-2.7M23.3 0V-4.4M24.4 0V-3.8M18.9 0V-2.6M14.9 0V-3.4M16.0 0V-4.0M17.0 0V-2.5M14.6 0V-2.1M15.7 0V-2.1M2.6 0V-2.3M3.9 0V-1.4M12.9 0V-2.6M9.0 0V-1.2M9.9 0V-1.5M85.1 0V-2.2M73.7 0V-2.4M68.4 0V-1.7M75.9 0V-2.9M69.9 0V-2.3M78.2 0V-2.8M73.8 0V-3.0M86.0 0V-1.6"/>
<path id="wt18" d="M32.4 0L32.9 -1.0L33.4 0ZM45.2 0L45.7 -1.0L46.2 0ZM6.3 0L6.8 -1.3L7.3 0ZM82.2 0L82.7 -1.0L83.2 0ZM17.0 0L17.5 -1.3L18.0 0ZM82.9 0L83.4 -1.3L83.9 0ZM18.1 0L18.6 -1.4L19.1 0ZM27.9 0L28.4 -0.9L28.9 0ZM54.8 0L55.3 -1.2L55.8 0ZM83.6 0L84.1 -1.2L84.6 0ZM12.9 0L13.4 -1.1L13.9 0ZM41.6 0L42.1 -1.1L42.6 0ZM19.8 0L20.4 -1.0L20.8 -0.2L21.4 -1.4L21.9 -0.4L22.4 -2.0L22.9 -0.8L22.9 0ZM27.8 0L28.3 -1.6L28.7 -0.5L29.0 -2.1L29.6 -0.5L30.1 -0.9L30.5 -0.4L30.5 0ZM24.8 0L25.3 -0.9L25.7 -0.2L26.2 -2.0L26.6 -0.0L27.0 -1.7L27.5 -0.5L27.9 -1.5L28.4 -0.4L28.4 0ZM26.3 0L26.9 -0.5L27.2 -0.2L27.7 -1.2L28.1 -0.4L28.4 -1.2L29.0 -0.3L29.0 0ZM26.9 0L27.4 -0.6L27.8 -0.2L28.4 -0.9L28.8 -0.5L28.8 0ZM12.1 0L12.8 -1.0L13.6 -0.5L13.6 0ZM16.1 0L16.6 -0.8L17.0 -0.2L17.4 -0.7L17.9 -0.2L17.9 0ZM0.8 0L1.4 -0.4L1.7 -0.0L2.0 -0.5L2.5 -0.2L2.5 0ZM9.5 0L9.9 -0.9L10.3 -0.2L10.3 0ZM73.8 0L74.6 -0.9L75.4 -0.4L75.4 0ZM71.0 0L71.4 -0.5L71.9 -0.2L72.1 -0.8L72.7 -0.4L72.7 0ZM78.8 0L79.1 -0.5L79.6 -0.2L79.9 -0.5L80.4 -0.0L80.4 0ZM84.9 0L85.3 -1.0L85.7 -0.0L86.0 -1.0L86.5 -0.1L86.5 0ZM72.3 0L72.7 -0.9L73.0 -0.0L73.0 0ZM87.0 0L87.5 -1.3L87.8 -0.2L87.8 0ZM41.1 0L41.6 -2.2L42.1 0ZM52.5 0L53.0 -1.5L53.5 0ZM46.1 0L46.6 -1.7L47.1 0ZM31.9 0L32.4 -2.3L32.9 0Z"/>
<path id="wtn18" d="M20.4 0V-2.8M21.4 0V-4.2M22.4 0V-4.1M28.3 0V-3.6M29.0 0V-4.4M30.1 0V-2.8M25.3 0V-2.3M26.2 0V-5.1M27.0 0V-3.9M27.9 0V-3.1M26.9 0V-1.6M27.7 0V-2.6M28.4 0V-2.4M27.4 0V-2.2M28.4 0V-2.9M12.8 0V-2.1M16.6 0V-2.5M17.4 0V-2.6M1.4 0V-1.2M2.0 0V-1.9M9.9 0V-2.3M74.6 0V-2.0M71.4 0V-1.2M72.1 0V-1.7M79.1 0V-2.0M79.9 0V-1.7M85.3 0V-3.5M86.0 0V-4.0M72.7 0V-3.1M87.5 0V-2.7"/>
<path id="wt19" d="M70.4 0L70.9 -1.2L71.4 0ZM67.0 0L67.5 -1.4L68.0 0ZM80.1 0L80.6 -1.0L81.1 0ZM26.0 0L26.5 -1.3L27.0 0ZM11.5 0L12.0 -1.4L12.5 0ZM34.2 0L34.7 -1.5L35.2 0ZM70.3 0L70.8 -0.9L71.3 0ZM87.1 0L87.6 -1.6L88.1 0ZM66.0 0L66.5 -1.0L67.0 0ZM22.0 0L22.5 -1.7L23.0 0ZM3.7 0L4.2 -0.9L4.7 0ZM52.7 0L53.2 -1.0L53.7 0ZM45.2 0L45.7 -1.3L46.2 0ZM34.8 0L35.3 -1.6L35.8 0ZM17.3 0L17.8 -1.6L18.3 0ZM36.0 0L36.5 -1.7L37.0 0ZM13.1 0L13.6 -1.0L14.1 0ZM26.6 0L27.3 -1.0L27.7 -0.2L28.2 -0.7L28.7 -0.1L28.7 0ZM26.3 0L26.6 -0.7L27.1 -0.3L27.5 -0.9L27.9 -0.2L28.2 -1.6L28.7 -0.2L29.0 -0.6L29.5 -0.2L29.5 0ZM27.9 0L28.2 -0.7L28.8 -0.0L29.3 -1.1L29.7 -0.2L30.1 -1.1L30.6 -0.5L30.9 -0.6L31.4 -0.2L31.4 0ZM31.2 0L31.7 -1.0L32.1 -0.2L32.5 -1.1L33.0 -0.0L33.0 0ZM28.8 0L29.0 -1.0L29.6 -0.0L29.9 -0.9L30.4 -0.4L30.8 -1.8L31.2 -0.3L31.6 -0.9L32.0 -0.1L32.0 0ZM0.3 0L1.1 -1.2L1.8 -0.5L1.8 0ZM5.9 0L6.8 -0.6L7.5 -0.2L7.5 0ZM3.2 0L3.7 -0.5L4.2 -0.2L4.7 -0.3L5.3 -0.1L5.3 0ZM0.6 0L1.2 -0.3L1.7 -0.0L1.7 0ZM0.8 0L1.4 -0.5L1.7 -0.2L2.3 -0.5L2.7 -0.1L2.7 0ZM19.4 0L19.7 -0.6L20.2 -0.1L20.7 -1.3L21.1 -0.2L21.5 -1.3L21.9 -0.4L21.9 0ZM7.4 0L8.1 -0.7L8.7 -0.3L8.7 0ZM78.4 0L78.8 -1.2L79.5 -0.5L79.5 0ZM77.1 0L77.7 -1.7L78.0 -0.1L78.5 -0.8L78.9 -0.0L78.9 0ZM83.5 0L84.0 -0.4L84.2 -0.1L84.2 0ZM77.9 0L78.4 -0.8L78.9 -0.4L79.2 -0.8L79.8 -0.3L79.8 0ZM87.2 0L87.6 -1.2L88.0 -0.4L88.0 0ZM79.2 0L79.7 -1.0L80.0 -0.2L80.5 -1.1L80.9 -0.0L80.9 0ZM74.6 0L74.9 -1.4L75.5 -0.7L75.9 -0.8L76.4 -0.2L76.4 0ZM69.1 0L69.6 -2.8L70.1 0ZM35.7 0L36.2 -2.4L36.7 0ZM44.1 0L44.6 -2.7L45.1 0ZM72.2 0L72.7 -1.9L73.2 0Z"/>
<path id="wtn19" d="M27.3 0V-3.3M28.2 0V-2.6M26.6 0V-2.2M27.5 0V-2.5M28.2 0V-3.5M29.0 0V-1.8M28.2 0V-1.8M29.3 0V-2.9M30.1 0V-4.4M30.9 0V-1.9M31.7 0V-2.4M32.5 0V-2.6M29.0 0V-2.9M29.9 0V-3.2M30.8 0V-4.5M31.6 0V-2.7M1.1 0V-3.8M6.8 0V-1.4M3.7 0V-1.6M4.7 0V-0.8M1.2 0V-1.2M1.4 0V-1.5M2.3 0V-1.2M19.7 0V-2.2M20.7 0V-3.8M21.5 0V-2.8M8.1 0V-1.9M78.8 0V-2.5M77.7 0V-4.4M78.5 0V-2.1M84.0 0V-1.4M78.4 0V-1.7M79.2 0V-2.1M87.6 0V-3.3M79.7 0V-2.8M80.5 0V-2.6M74.9 0V-2.9M75.9 0V-1.9"/>
<path id="wt20" d="M24.2 0L24.7 -1.7L25.2 0ZM83.6 0L84.1 -1.0L84.6 0ZM34.4 0L34.9 -1.6L35.4 0ZM20.9 0L21.4 -1.5L21.9 0ZM37.2 0L37.7 -1.8L38.2 0ZM75.1 0L75.6 -1.7L76.1 0ZM50.7 0L51.2 -1.6L51.7 0ZM22.0 0L22.5 -1.5L23.0 0ZM10.1 0L10.6 -1.1L11.1 0ZM58.8 0L59.3 -1.7L59.8 0ZM15.5 0L16.0 -1.1L16.5 0ZM7.8 0L8.3 -0.8L8.8 0ZM23.7 0L24.2 -1.3L24.7 0ZM3.5 0L4.0 -0.9L4.5 0ZM59.7 0L60.2 -1.7L60.7 0ZM32.9 0L33.4 -1.1L33.9 -0.3L34.2 -1.4L34.8 -0.2L34.8 0ZM32.2 0L33.0 -2.2L33.7 -1.0L33.7 0ZM33.1 0L33.6 -1.7L34.1 -0.3L34.7 -1.0L35.2 -0.4L35.2 0ZM30.3 0L30.6 -0.6L31.2 -0.3L31.7 -0.9L32.0 -0.1L32.0 0ZM24.4 0L25.0 -1.2L25.5 -0.5L26.2 -0.6L26.7 -0.2L26.7 0ZM10.9 0L11.4 -0.9L11.9 -0.1L12.3 -0.9L12.9 -0.4L12.9 0ZM2.0 0L2.4 -0.8L3.0 -0.1L3.4 -0.5L4.1 -0.2L4.1 0ZM15.8 0L16.3 -0.6L16.8 -0.3L17.4 -0.5L17.9 -0.1L17.9 0ZM77.9 0L78.3 -0.7L78.9 -0.3L78.9 0ZM81.5 0L82.1 -0.8L82.5 -0.2L83.1 -0.6L83.5 -0.3L83.5 0ZM87.1 0L87.4 -0.7L88.0 -0.2L88.0 0ZM79.6 0L80.1 -1.2L80.6 -0.4L81.0 -0.9L81.5 -0.3L81.5 0ZM59.3 0L59.8 -2.4L60.3 0ZM58.5 0L59.0 -1.9L59.5 0ZM48.4 0L48.9 -2.1L49.4 0ZM39.4 0L39.9 -1.5L40.4 0Z"/>
<path id="wtn20" d="M33.4 0V-2.4M34.2 0V-4.1M33.0 0V-5.0M33.6 0V-3.8M34.7 0V-3.4M30.6 0V-2.2M31.7 0V-2.2M25.0 0V-3.5M26.2 0V-2.0M11.4 0V-2.1M12.3 0V-2.0M2.4 0V-1.6M3.4 0V-1.5M16.3 0V-2.3M17.4 0V-1.2M78.3 0V-2.2M82.1 0V-1.9M83.1 0V-1.6M87.4 0V-1.5M80.1 0V-2.9M81.0 0V-2.7"/>
<path id="wt21" d="M42.3 0L42.8 -1.7L43.3 0ZM70.4 0L70.9 -1.1L71.4 0ZM37.4 0L37.9 -1.1L38.4 0ZM20.6 0L21.1 -1.1L21.6 0ZM78.3 0L78.8 -1.6L79.3 0ZM48.4 0L48.9 -1.4L49.4 0ZM39.6 0L40.1 -1.5L40.6 0ZM70.1 0L70.6 -1.2L71.1 0ZM67.6 0L68.1 -1.8L68.6 0ZM58.9 0L59.4 -1.6L59.9 0ZM7.3 0L7.8 -1.1L8.3 0ZM28.0 0L28.5 -1.2L29.0 0ZM66.1 0L66.6 -1.0L67.1 0ZM21.0 0L21.5 -1.3L22.0 0ZM72.8 0L73.3 -1.3L73.8 0ZM68.4 0L68.9 -1.1L69.4 0ZM35.0 0L35.5 -1.3L36.0 0ZM14.1 0L14.6 -1.1L15.1 0ZM29.0 0L29.5 -1.4L30.0 0ZM11.6 0L12.1 -1.6L12.6 0ZM65.7 0L66.2 -1.5L66.7 0ZM26.4 0L26.9 -1.7L27.4 0ZM29.5 0L30.0 -1.1L30.5 0ZM29.9 0L30.3 -0.5L30.7 -0.0L31.1 -1.0L31.6 -0.5L32.0 -1.1L32.4 -0.3L32.4 0ZM32.0 0L32.7 -0.8L33.0 -0.4L33.4 -1.9L34.1 -0.6L34.1 0ZM29.3 0L29.9 -1.1L30.3 -0.0L30.6 -0.8L31.3 -0.2L31.8 -0.7L32.2 -0.3L32.2 0ZM5.5 0L6.0 -0.9L6.3 -0.4L6.3 0ZM17.5 0L18.0 -0.7L18.7 -0.0L18.7 0ZM19.0 0L19.5 -1.5L20.0 -0.4L20.5 -0.6L20.9 -0.2L20.9 0ZM7.2 0L7.6 -0.3L8.3 -0.1L8.9 -0.5L9.4 -0.2L9.4 0ZM81.2 0L81.5 -0.7L82.2 -0.3L82.8 -0.4L83.2 -0.1L83.2 0ZM41.8 0L42.3 -1.8L42.8 0ZM72.2 0L72.7 -2.2L73.2 0ZM49.7 0L50.2 -2.8L50.7 0ZM52.6 0L53.1 -1.9L53.6 0Z"/>
<path id="wtn21" d="M30.3 0V-1.7M31.1 0V-2.7M32.0 0V-2.4M32.7 0V-2.5M33.4 0V-4.3M29.9 0V-2.8M30.6 0V-3.0M31.8 0V-1.7M6.0 0V-2.0M18.0 0V-1.8M19.5 0V-3.4M20.5 0V-2.3M7.6 0V-0.9M8.9 0V-1.1M81.5 0V-1.5M82.8 0V-1.5"/>
<path id="wt22" d="M21.9 0L22.4 -1.2L22.9 0ZM47.8 0L48.3 -1.7L48.8 0ZM66.1 0L66.6 -1.7L67.1 0ZM44.4 0L44.9 -1.3L45.4 0ZM35.4 0L35.9 -1.0L36.4 0ZM71.8 0L72.3 -0.9L72.8 0ZM25.0 0L25.5 -1.0L26.0 0ZM49.2 0L49.7 -1.4L50.2 0ZM23.2 0L23.7 -1.0L24.2 0ZM20.2 0L20.7 -1.1L21.2 0ZM33.7 0L34.2 -1.6L34.7 0ZM79.2 0L79.7 -1.5L80.2 0ZM4.4 0L4.9 -1.3L5.4 0ZM40.8 0L41.3 -1.7L41.8 0ZM27.7 0L28.2 -1.5L28.7 0ZM68.9 0L69.4 -1.3L69.9 0ZM42.8 0L43.3 -0.9L43.8 0ZM4.9 0L5.4 -1.8L5.9 0ZM49.1 0L49.6 -1.1L50.1 0ZM70.2 0L70.7 -0.9L71.2 0ZM82.5 0L83.0 -1.0L83.5 0ZM32.3 0L33.2 -0.7L33.9 -0.3L33.9 0ZM36.6 0L37.4 -1.8L38.1 -0.7L38.1 0ZM13.2 0L13.7 -0.6L14.1 -0.1L14.4 -0.8L15.0 -0.4L15.0 0ZM24.8 0L25.1 -1.4L25.6 -0.3L25.9 -0.9L26.5 -0.3L26.5 0ZM30.6 0L31.3 -1.1L31.9 -0.3L31.9 0ZM8.2 0L8.8 -0.6L9.1 -0.2L9.1 0ZM6.0 0L6.5 -1.0L7.2 -0.2L7.2 0ZM44.8 0L45.3 -2.0L45.8 0ZM53.3 0L53.8 -1.3L54.3 0ZM62.2 0L62.7 -1.7L63.2 0ZM65.0 0L65.5 -2.5L66.0 0ZM60.6 0L61.1 -2.7L61.6 0Z"/>
<path id="wtn22" d="M33.2 0V-2.6M37.4 0V-3.7M13.7 0V-1.3M14.4 0V-1.8M25.1 0V-3.1M25.9 0V-2.6M31.3 0V-2.5M8.8 0V-1.6M6.5 0V-2.2"/>
<path id="wt23" d="M55.6 0L56.1 -1.6L56.6 0ZM22.2 0L22.7 -1.3L23.2 0ZM67.0 0L67.5 -1.0L68.0 0ZM35.8 0L36.3 -1.4L36.8 0ZM68.8 0L69.3 -1.4L69.8 0ZM12.4 0L12.9 -1.6L13.4 0ZM70.9 0L71.4 -1.5L71.9 0ZM64.0 0L64.5 -1.3L65.0 0ZM56.7 0L57.2 -1.8L57.7 0ZM85.3 0L85.8 -1.0L86.3 0ZM34.6 0L35.2 -1.6L35.7 -0.4L36.3 -1.2L36.8 -0.4L36.8 0ZM39.1 0L39.8 -1.0L40.2 -0.2L40.6 -1.9L41.2 -0.2L41.8 -0.5L42.3 -0.2L42.3 0ZM38.0 0L38.4 -1.0L39.0 -0.5L39.6 -1.5L40.1 -0.3L40.1 0ZM5.7 0L6.3 -1.0L6.7 -0.4L7.4 -0.7L7.8 -0.2L7.8 0ZM7.2 0L7.5 -1.2L8.0 -0.3L8.5 -1.5L8.8 -0.3L9.1 -0.6L9.6 -0.3L9.6 0ZM19.2 0L19.7 -0.6L20.0 -0.1L20.4 -1.5L20.8 -0.1L21.4 -0.5L21.6 -0.2L21.6 0ZM28.3 0L28.9 -1.1L29.5 -0.4L29.5 0ZM86.5 0L87.4 -1.0L88.0 -0.5L88.0 0ZM74.1 0L74.6 -2.7L75.1 0ZM65.8 0L66.3 -1.2L66.8 0ZM79.6 0L80.1 -1.1L80.6 0ZM50.0 0L50.5 -2.9L51.0 0ZM67.0 0L67.5 -2.3L68.0 0ZM77.8 0L78.3 -2.3L78.8 0ZM62.1 0L62.6 -2.1L63.1 0Z"/>
<path id="wtn23" d="M35.2 0V-3.2M36.3 0V-2.6M39.8 0V-3.8M40.6 0V-5.4M41.8 0V-1.8M38.4 0V-2.6M39.6 0V-3.4M6.3 0V-3.1M7.4 0V-2.8M7.5 0V-2.4M8.5 0V-4.0M9.1 0V-2.2M19.7 0V-2.2M20.4 0V-3.2M21.4 0V-1.7M28.9 0V-2.5M87.4 0V-2.1"/>
<path id="wt24" d="M-0.3 0L0.2 -1.3L0.7 0ZM1.6 0L2.1 -0.9L2.6 0ZM74.0 0L74.5 -1.5L75.0 0ZM15.5 0L16.0 -1.5L16.5 0ZM41.4 0L41.9 -0.9L42.4 0ZM81.3 0L81.8 -0.9L82.3 0ZM1.2 0L1.7 -1.1L2.2 0ZM7.1 0L7.6 -0.8L8.1 0ZM57.0 0L57.5 -0.9L58.0 0ZM49.1 0L49.6 -1.0L50.1 0ZM82.3 0L82.8 -1.0L83.3 0ZM45.3 0L45.8 -1.5L46.3 0ZM26.9 0L27.4 -1.6L27.9 0ZM27.1 0L27.6 -1.2L28.1 0ZM37.4 0L37.9 -1.2L38.4 0ZM44.6 0L45.2 -0.8L45.5 -0.4L45.9 -1.6L46.5 -0.1L46.9 -1.7L47.4 -0.2L47.4 0ZM37.6 0L38.0 -1.2L38.4 -0.6L38.8 -0.9L39.2 -0.0L39.7 -0.9L40.0 -0.2L40.4 -1.2L40.8 -0.2L40.8 0ZM43.6 0L44.3 -1.0L45.1 -0.3L45.1 0ZM24.9 0L25.6 -1.5L26.0 -0.6L26.0 0ZM28.5 0L28.8 -0.7L29.3 -0.3L29.9 -0.8L30.1 -0.2L30.1 0ZM31.8 0L32.2 -0.3L32.7 -0.1L33.3 -0.4L33.7 -0.1L33.7 0ZM16.3 0L16.9 -1.8L17.6 -0.8L17.6 0ZM24.6 0L25.5 -1.4L26.2 -0.4L26.2 0ZM62.6 0L63.1 -2.2L63.6 0ZM87.3 0L87.8 -2.0L88.3 0ZM48.0 0L48.5 -2.9L49.0 0ZM69.7 0L70.2 -1.1L70.7 0ZM61.6 0L62.1 -2.9L62.6 0ZM61.0 0L61.5 -2.1L62.0 0ZM60.9 0L61.4 -2.2L61.9 0ZM67.2 0L67.7 -1.7L68.2 0ZM51.7 0L52.2 -1.6L52.7 0Z"/>
<path id="wtn24" d="M45.2 0V-2.6M45.9 0V-5.4M46.9 0V-3.7M38.0 0V-2.8M38.8 0V-3.2M39.7 0V-2.8M40.4 0V-2.4M44.3 0V-2.7M25.6 0V-3.1M28.8 0V-2.7M29.9 0V-1.7M32.2 0V-0.8M33.3 0V-1.2M16.9 0V-4.6M25.5 0V-3.9"/>
<path id="wt25" d="M38.6 0L39.1 -1.4L39.6 0ZM32.5 0L33.0 -1.3L33.5 0ZM49.9 0L50.4 -1.5L50.9 0ZM84.3 0L84.8 -1.0L85.3 0ZM85.4 0L85.9 -1.8L86.4 0ZM70.5 0L71.0 -1.5L71.5 0ZM5.5 0L6.0 -1.6L6.5 0ZM53.3 0L53.8 -1.0L54.3 0ZM20.8 0L21.3 -1.1L21.8 0ZM27.8 0L28.3 -1.2L28.8 0ZM46.2 0L46.7 -1.6L47.2 0ZM34.5 0L35.0 -0.8L35.5 0ZM60.3 0L60.8 -0.8L61.3 0ZM41.0 0L41.5 -1.5L42.0 0ZM53.6 0L54.1 -1.6L54.6 0ZM82.6 0L83.1 -1.1L83.6 0ZM63.3 0L63.8 -1.7L64.3 0ZM73.7 0L74.2 -1.6L74.7 0ZM46.2 0L46.7 -1.0L47.0 -0.3L47.4 -1.0L47.9 -0.0L48.1 -1.2L48.7 -0.2L48.7 0ZM40.7 0L41.0 -1.2L41.5 -0.2L42.0 -1.4L42.4 -0.5L42.7 -1.8L43.2 -0.9L43.5 -1.1L44.1 -0.2L44.1 0ZM39.0 0L39.3 -0.8L39.9 -0.1L40.2 -1.8L40.7 -0.1L40.7 0ZM38.5 0L39.0 -1.6L39.4 -0.1L39.9 -2.4L40.4 -0.9L40.7 -1.0L41.3 -0.4L41.3 0ZM11.5 0L12.0 -0.4L12.4 -0.2L12.7 -0.6L13.3 -0.0L13.6 -0.7L14.1 -0.2L14.1 0ZM1.1 0L1.6 -0.8L2.2 -0.3L2.2 0ZM2.4 0L2.9 -0.6L3.4 -0.0L3.4 0ZM30.6 0L30.9 -1.3L31.4 -0.4L31.4 0ZM81.7 0L82.2 -1.5L82.7 0ZM62.6 0L63.1 -2.3L63.6 0ZM71.5 0L72.0 -2.5L72.5 0ZM79.5 0L80.0 -2.9L80.5 0ZM70.3 0L70.8 -1.8L71.3 0Z"/>
<path id="wtn25" d="M46.7 0V-3.0M47.4 0V-3.9M48.1 0V-3.2M41.0 0V-2.4M42.0 0V-4.5M42.7 0V-5.0M43.5 0V-3.1M39.3 0V-2.0M40.2 0V-4.4M39.0 0V-3.5M39.9 0V-5.7M40.7 0V-3.5M12.0 0V-0.9M12.7 0V-1.4M13.6 0V-1.8M1.6 0V-2.1M2.9 0V-1.2M30.9 0V-2.6"/>
<path id="wt26" d="M17.5 0L18.0 -0.9L18.5 0ZM-0.3 0L0.2 -1.2L0.7 0ZM9.7 0L10.2 -1.1L10.7 0ZM26.5 0L27.0 -1.2L27.5 0ZM46.9 0L47.4 -1.1L47.9 0ZM19.7 0L20.2 -1.5L20.7 0ZM9.2 0L9.7 -1.1L10.2 0ZM13.1 0L13.6 -0.8L14.1 0ZM47.0 0L47.5 -2.1L47.8 -0.4L48.1 -1.8L48.6 -0.9L49.0 -1.8L49.5 -0.7L49.8 -1.1L50.3 -0.0L50.3 0ZM40.9 0L41.4 -1.4L41.8 -0.1L42.3 -1.0L42.8 -0.2L42.8 0ZM44.1 0L44.5 -1.4L44.9 -0.1L45.4 -0.9L45.8 -0.4L46.4 -0.9L46.7 -0.4L47.2 -0.7L47.5 -0.3L47.5 0ZM45.0 0L45.7 -0.9L46.1 -0.3L46.8 -0.8L47.3 -0.1L47.3 0ZM43.5 0L43.9 -0.7L44.4 -0.0L44.7 -0.9L45.2 -0.1L45.6 -0.8L46.1 -0.2L46.1 0ZM38.9 0L39.3 -1.8L39.8 -0.8L40.1 -1.9L40.6 -0.5L41.2 -1.9L41.5 -0.5L42.0 -0.8L42.3 -0.0L42.3 0ZM44.7 0L45.0 -1.9L45.6 -0.5L46.0 -2.2L46.6 -0.3L47.1 -0.8L47.5 -0.2L47.5 0ZM37.6 0L38.1 -0.6L38.6 -0.1L39.3 -0.4L39.7 -0.1L39.7 0ZM30.7 0L31.2 -1.1L31.5 -0.1L32.0 -0.6L32.4 -0.2L32.4 0ZM29.5 0L30.1 -1.2L30.4 -0.2L30.8 -1.5L31.4 -0.1L31.4 0ZM68.2 0L68.7 -2.6L69.2 0ZM86.2 0L86.7 -2.2L87.2 0ZM71.3 0L71.8 -2.6L72.3 0ZM63.6 0L64.1 -2.0L64.6 0Z"/>
<path id="wtn26" d="M47.5 0V-4.3M48.1 0V-4.1M49.0 0V-3.6M49.8 0V-4.4M41.4 0V-4.0M42.3 0V-2.1M44.5 0V-2.9M45.4 0V-3.1M46.4 0V-2.4M47.2 0V-2.4M45.7 0V-3.4M46.8 0V-2.7M43.9 0V-2.4M44.7 0V-3.4M45.6 0V-2.3M39.3 0V-3.8M40.1 0V-3.9M41.2 0V-4.0M42.0 0V-2.0M45.0 0V-4.1M46.0 0V-5.7M47.1 0V-3.1M38.1 0V-1.9M39.3 0V-1.3M31.2 0V-2.7M32.0 0V-1.4M30.1 0V-2.6M30.8 0V-3.5"/>
<path id="wt27" d="M80.6 0L81.1 -1.0L81.6 0ZM74.7 0L75.2 -1.1L75.7 0ZM38.0 0L38.5 -0.9L39.0 0ZM63.9 0L64.4 -1.4L64.9 0ZM30.8 0L31.3 -1.2L31.8 0ZM79.5 0L80.0 -1.0L80.5 0ZM39.1 0L39.6 -1.3L40.1 0ZM74.8 0L75.3 -1.7L75.8 0ZM22.3 0L22.8 -0.9L23.3 0ZM15.0 0L15.5 -0.9L16.0 0ZM32.0 0L32.5 -1.0L33.0 0ZM-0.5 0L0.0 -1.7L0.5 0ZM76.7 0L77.2 -0.9L77.7 0ZM22.1 0L22.6 -1.8L23.1 0ZM68.0 0L68.5 -1.3L69.0 0ZM28.9 0L29.4 -1.4L29.9 0ZM44.1 0L44.5 -1.0L45.0 -0.5L45.4 -1.1L45.8 -0.4L46.2 -1.2L46.7 -0.3L47.3 -0.7L47.6 -0.3L47.6 0ZM43.9 0L44.4 -1.0L45.1 -0.5L45.6 -1.6L46.2 -0.8L46.2 0ZM35.9 0L36.4 -0.8L36.9 -0.2L37.2 -0.5L37.8 -0.0L37.8 0ZM6.1 0L6.7 -0.9L7.0 -0.0L7.6 -0.6L8.0 -0.1L8.0 0ZM40.1 0L40.6 -0.4L41.1 -0.1L41.6 -0.7L42.2 -0.1L42.2 0ZM6.0 0L6.4 -0.8L7.0 -0.2L7.4 -1.0L7.9 -0.0L7.9 0ZM38.1 0L38.9 -0.4L39.6 -0.1L39.6 0ZM39.6 0L40.2 -1.6L40.6 -0.2L41.2 -1.4L41.6 -0.5L41.6 0ZM30.6 0L31.0 -0.5L31.4 -0.1L31.9 -1.3L32.3 -0.5L32.3 0ZM29.0 0L29.8 -0.8L30.4 -0.3L30.4 0ZM60.4 0L60.9 -1.7L61.4 0Z"/>
<path id="wtn27" d="M44.5 0V-2.8M45.4 0V-3.8M46.2 0V-3.0M47.3 0V-2.7M44.4 0V-2.9M45.6 0V-3.3M36.4 0V-1.7M37.2 0V-2.0M6.7 0V-2.4M7.6 0V-1.8M40.6 0V-1.3M41.6 0V-1.6M6.4 0V-1.7M7.4 0V-2.1M38.9 0V-1.1M40.2 0V-3.3M41.2 0V-2.9M31.0 0V-1.7M31.9 0V-2.9M29.8 0V-1.6"/>
<path id="wt28" d="M87.2 0L87.7 -0.8L88.2 0ZM37.6 0L38.1 -1.2L38.6 0ZM65.9 0L66.4 -1.3L66.9 0ZM8.2 0L8.7 -1.1L9.2 0ZM59.4 0L59.9 -1.7L60.4 0ZM78.1 0L78.6 -1.1L79.1 0ZM77.8 0L78.3 -1.7L78.8 0ZM40.0 0L40.5 -1.2L41.0 0ZM33.2 0L33.7 -1.5L34.2 0ZM85.7 0L86.2 -1.5L86.7 0ZM44.6 0L45.1 -1.1L45.6 0ZM82.3 0L82.8 -1.4L83.3 0ZM74.6 0L75.1 -1.4L75.6 0ZM23.2 0L23.7 -1.6L24.2 0ZM85.2 0L85.7 -1.2L86.2 0ZM68.4 0L68.9 -1.2L69.4 0ZM69.9 0L70.4 -1.0L70.9 0ZM54.6 0L54.9 -0.8L55.5 -0.2L55.9 -1.7L56.4 -0.4L56.9 -0.9L57.3 -0.1L57.3 0ZM51.3 0L51.8 -1.9L52.3 -0.1L53.0 -1.8L53.4 -0.6L53.9 -0.7L54.4 -0.1L54.4 0ZM39.4 0L39.8 -0.4L40.3 -0.1L40.8 -0.8L41.2 -0.3L41.2 0ZM41.8 0L42.1 -0.8L42.7 -0.1L43.1 -1.2L43.5 -0.6L44.0 -0.5L44.3 -0.2L44.3 0ZM25.2 0L25.6 -1.0L26.0 -0.3L26.3 -1.3L26.8 -0.1L27.2 -0.9L27.7 -0.0L27.7 0ZM29.0 0L29.4 -0.6L30.1 -0.1L30.5 -1.1L31.1 -0.1L31.1 0ZM36.9 0L37.4 -1.1L37.8 -0.0L37.8 0ZM37.9 0L38.5 -0.7L39.0 -0.3L39.5 -0.7L40.2 -0.3L40.2 0ZM41.2 0L41.8 -0.7L42.1 -0.3L42.4 -0.8L42.9 -0.3L43.3 -0.9L43.7 -0.2L43.7 0ZM14.4 0L15.0 -0.4L15.8 -0.1L15.8 0ZM33.8 0L34.2 -0.5L34.6 -0.1L35.1 -0.8L35.4 -0.2L35.8 -0.6L36.2 -0.1L36.2 0ZM29.0 0L29.7 -0.8L30.4 -0.2L30.4 0ZM23.6 0L24.1 -0.6L24.4 -0.2L24.4 0ZM81.6 0L82.1 -2.0L82.6 0ZM64.1 0L64.6 -1.8L65.1 0ZM86.8 0L87.3 -2.1L87.8 0Z"/>
<path id="wtn28" d="M54.9 0V-2.1M55.9 0V-3.9M56.9 0V-3.4M51.8 0V-3.9M53.0 0V-5.6M53.9 0V-2.2M39.8 0V-0.9M40.8 0V-1.6M42.1 0V-1.7M43.1 0V-2.9M44.0 0V-2.0M25.6 0V-2.5M26.3 0V-4.0M27.2 0V-2.5M29.4 0V-2.1M30.5 0V-2.8M37.4 0V-3.3M38.5 0V-2.7M39.5 0V-1.9M41.8 0V-2.7M42.4 0V-2.9M43.3 0V-2.2M15.0 0V-1.4M34.2 0V-1.7M35.1 0V-2.4M35.8 0V-1.4M29.7 0V-1.8M24.1 0V-1.5"/>
<path id="tta1" d="M71.2 0L71.7 -0.9L72.2 0ZM52.3 0L52.8 -1.5L53.3 0ZM16.0 0L16.5 -0.9L17.0 0ZM23.7 0L24.2 -1.5L24.7 0ZM49.0 0L49.5 -1.0L50.0 0ZM37.6 0L38.1 -1.5L38.6 0ZM36.7 0L37.2 -1.4L37.7 0ZM84.6 0L85.1 -1.5L85.6 0ZM34.0 0L34.5 -1.0L35.0 0ZM29.9 0L30.4 -1.3L30.9 0ZM77.9 0L78.4 -1.6L78.9 0ZM27.5 0L28.0 -1.7L28.5 0ZM40.9 0L41.4 -1.5L41.9 0ZM8.9 0L9.4 -0.9L9.9 0ZM63.9 0L64.3 -1.0L64.8 -0.4L65.2 -1.9L65.6 -0.8L66.1 -1.0L66.5 -0.3L66.5 0ZM50.2 0L50.8 -1.0L51.3 -0.4L51.3 0ZM54.6 0L55.1 -0.7L55.5 -0.1L55.9 -1.0L56.5 -0.0L57.1 -0.6L57.4 -0.1L57.4 0ZM62.4 0L62.9 -1.5L63.3 -0.4L63.9 -1.0L64.3 -0.3L64.3 0ZM44.6 0L45.4 -0.8L46.1 -0.0L46.1 0ZM69.2 0L69.9 -0.6L70.3 -0.0L70.3 0ZM55.3 0L55.6 -0.5L56.1 -0.1L56.5 -0.9L57.0 -0.4L57.0 0ZM73.5 0L74.0 -0.8L74.5 -0.1L74.5 0ZM57.1 0L57.8 -1.1L58.2 -0.5L58.8 -0.7L59.4 -0.2L59.4 0ZM84.4 0L85.0 -1.0L85.5 -0.3L86.2 -0.6L86.6 -0.2L86.6 0ZM12.5 0L12.9 -0.3L13.0 -0.0L13.0 0ZM20.0 0L20.6 -0.5L21.0 -0.2L21.0 0ZM10.1 0L10.6 -1.3L11.1 0ZM16.7 0L17.2 -2.1L17.7 0ZM41.8 0L42.3 -2.4L42.8 0ZM32.0 0L32.5 -2.9L33.0 0ZM11.3 0L11.8 -1.5L12.3 0ZM18.1 0L18.6 -1.6L19.1 0ZM28.1 0L28.6 -2.9L29.1 0Z"/>
<path id="ttan1" d="M64.3 0V-2.5M65.2 0V-4.6M66.1 0V-2.9M50.8 0V-2.0M55.1 0V-2.3M55.9 0V-3.6M57.1 0V-1.6M62.9 0V-3.6M63.9 0V-2.3M45.4 0V-2.4M69.9 0V-1.9M55.6 0V-1.6M56.5 0V-2.9M74.0 0V-3.1M57.8 0V-4.2M58.8 0V-2.1M85.0 0V-2.0M86.2 0V-1.2M12.9 0V-1.0M20.6 0V-1.6"/>
<path id="tta2" d="M59.1 0L59.6 -1.3L60.1 0ZM79.9 0L80.4 -1.5L80.9 0ZM77.1 0L77.6 -0.9L78.1 0ZM16.7 0L17.2 -0.9L17.7 0ZM72.5 0L73.0 -1.8L73.5 0ZM0.7 0L1.2 -1.6L1.7 0ZM63.5 0L64.0 -1.7L64.5 0ZM23.3 0L23.8 -1.5L24.3 0ZM20.4 0L20.9 -0.9L21.4 0ZM65.1 0L65.6 -0.8L66.1 0ZM61.1 0L61.6 -1.1L62.1 0ZM42.4 0L42.9 -1.7L43.4 0ZM54.4 0L55.0 -1.5L55.7 -0.2L55.7 0ZM73.5 0L74.4 -0.7L75.1 -0.3L75.1 0ZM73.2 0L73.8 -1.3L74.4 -0.6L74.4 0ZM74.1 0L74.8 -0.7L75.5 -0.1L75.5 0ZM54.6 0L55.0 -0.9L55.7 -0.1L55.7 0ZM59.5 0L60.1 -1.1L60.4 -0.1L61.0 -0.8L61.3 -0.1L61.3 0ZM48.3 0L49.1 -0.8L49.6 -0.2L49.6 0ZM51.1 0L51.7 -0.4L52.3 -0.2L52.8 -0.4L53.5 -0.2L53.5 0ZM54.2 0L54.6 -0.7L55.3 -0.3L55.9 -0.7L56.5 -0.2L56.5 0ZM76.8 0L77.6 -0.4L78.0 -0.1L78.7 -0.5L79.2 -0.0L79.2 0ZM20.1 0L20.2 -0.6L20.6 -0.1L20.6 0ZM16.8 0L17.4 -1.0L17.7 -0.3L17.7 0ZM35.3 0L35.8 -2.8L36.3 0ZM35.4 0L35.9 -1.7L36.4 0ZM15.7 0L16.2 -1.5L16.7 0ZM2.0 0L2.5 -1.9L3.0 0ZM36.9 0L37.4 -2.5L37.9 0ZM28.6 0L29.1 -2.7L29.6 0ZM28.5 0L29.0 -1.4L29.5 0ZM34.8 0L35.3 -1.7L35.8 0ZM38.7 0L39.2 -1.7L39.7 0Z"/>
<path id="ttan2" d="M55.0 0V-3.7M74.4 0V-2.8M73.8 0V-2.6M74.8 0V-2.7M55.0 0V-2.4M60.1 0V-2.7M61.0 0V-2.8M49.1 0V-2.5M51.7 0V-1.4M52.8 0V-1.5M54.6 0V-1.6M55.9 0V-2.6M77.6 0V-1.2M78.7 0V-1.4M20.2 0V-1.5M17.4 0V-2.6"/>
<path id="tta3" d="M9.0 0L9.5 -1.7L10.0 0ZM35.7 0L36.2 -1.6L36.7 0ZM4.1 0L4.6 -1.3L5.1 0ZM59.1 0L59.6 -0.9L60.1 0ZM53.0 0L53.5 -0.9L54.0 0ZM26.3 0L26.8 -1.2L27.3 0ZM54.0 0L54.5 -0.9L55.0 0ZM15.8 0L16.3 -1.6L16.8 0ZM62.5 0L63.0 -1.3L63.5 0ZM24.3 0L24.8 -1.5L25.3 0ZM70.6 0L71.3 -1.8L71.9 -0.7L71.9 0ZM70.1 0L70.4 -0.7L71.0 -0.1L71.5 -1.6L71.9 -0.4L72.3 -1.1L72.8 -0.4L72.8 0ZM43.7 0L44.5 -0.4L45.0 -0.1L45.0 0ZM49.3 0L49.9 -1.3L50.3 -0.3L50.8 -1.4L51.3 -0.2L51.3 0ZM65.9 0L66.3 -1.4L67.0 -0.4L67.4 -0.6L68.1 -0.2L68.1 0ZM44.3 0L44.9 -1.2L45.3 -0.2L45.3 0ZM51.6 0L52.0 -0.7L52.5 -0.2L52.8 -0.7L53.4 -0.1L53.4 0ZM51.6 0L52.1 -1.3L52.6 -0.5L52.6 0ZM68.5 0L68.9 -0.7L69.3 -0.0L69.7 -0.9L70.2 -0.2L70.7 -0.8L71.1 -0.4L71.1 0ZM44.3 0L44.8 -1.1L45.2 -0.2L45.5 -1.2L46.0 -0.5L46.0 0ZM64.2 0L64.6 -1.0L65.2 -0.3L65.2 0ZM68.2 0L68.8 -0.7L69.2 -0.3L69.2 0ZM78.3 0L79.0 -1.3L79.5 -0.3L80.0 -0.6L80.6 -0.2L80.6 0ZM75.7 0L76.2 -0.5L76.5 -0.0L77.1 -0.4L77.4 -0.1L77.9 -0.3L78.2 -0.1L78.2 0ZM6.6 0L6.9 -0.3L7.0 -0.0L7.0 0ZM24.9 0L25.1 -0.8L25.6 -0.3L25.6 0ZM1.0 0L1.4 -0.7L1.7 -0.1L1.7 0ZM10.1 0L10.6 -2.2L11.1 0ZM28.4 0L28.9 -1.4L29.4 0ZM40.7 0L41.2 -2.6L41.7 0ZM5.9 0L6.4 -1.4L6.9 0ZM-0.4 0L0.1 -2.9L0.6 0ZM7.2 0L7.7 -2.7L8.2 0ZM22.0 0L22.5 -1.1L23.0 0ZM8.8 0L9.3 -1.5L9.8 0ZM33.1 0L33.6 -1.7L34.1 0ZM5.7 0L6.2 -2.9L6.7 0ZM22.1 0L22.6 -1.1L23.1 0ZM42.3 0L42.8 -2.4L43.3 0ZM18.9 0L19.4 -1.3L19.9 0Z"/>
<path id="ttan3" d="M71.3 0V-4.3M70.4 0V-2.4M71.5 0V-3.6M72.3 0V-2.6M44.5 0V-1.5M49.9 0V-2.8M50.8 0V-2.8M66.3 0V-2.7M67.4 0V-1.9M44.9 0V-3.0M52.0 0V-1.4M52.8 0V-1.6M52.1 0V-4.5M68.9 0V-1.7M69.7 0V-3.4M70.7 0V-1.9M44.8 0V-2.5M45.5 0V-3.1M64.6 0V-3.8M68.8 0V-2.5M79.0 0V-2.6M80.0 0V-2.4M76.2 0V-1.4M77.1 0V-1.3M77.9 0V-0.7M6.9 0V-1.0M25.1 0V-2.1M1.4 0V-1.8"/>
<path id="tta4" d="M82.2 0L82.7 -1.6L83.2 0ZM62.3 0L62.8 -1.6L63.3 0ZM75.5 0L76.0 -1.3L76.5 0ZM70.9 0L71.4 -0.9L71.9 0ZM61.1 0L61.6 -1.6L62.1 0ZM18.1 0L18.6 -0.9L19.1 0ZM80.2 0L80.7 -1.7L81.2 0ZM9.2 0L9.7 -1.4L10.2 0ZM15.4 0L15.9 -1.0L16.4 0ZM81.3 0L81.8 -1.5L82.3 0ZM66.2 0L66.7 -1.1L67.2 0ZM67.8 0L68.3 -1.5L68.8 0ZM30.0 0L30.5 -1.3L31.0 0ZM21.4 0L21.9 -1.4L22.4 0ZM16.0 0L16.5 -1.2L17.0 0ZM74.8 0L75.3 -1.5L75.8 0ZM52.5 0L53.0 -0.9L53.5 0ZM71.8 0L72.3 -1.4L72.8 0ZM83.0 0L83.5 -1.7L84.0 0ZM67.4 0L68.1 -1.1L68.5 -0.2L68.5 0ZM58.2 0L58.7 -1.1L59.0 -0.5L59.5 -1.5L59.8 -0.2L60.3 -1.4L60.7 -0.4L60.7 0ZM54.3 0L54.8 -0.9L55.3 -0.1L55.9 -0.7L56.2 -0.1L56.2 0ZM63.6 0L64.3 -1.9L64.9 -0.2L64.9 0ZM71.7 0L72.2 -0.6L72.6 -0.1L73.0 -0.9L73.5 -0.0L73.8 -0.5L74.4 -0.1L74.4 0ZM55.2 0L55.6 -0.8L56.2 -0.1L56.7 -1.6L57.2 -0.1L57.2 0ZM55.2 0L55.6 -0.8L56.1 -0.0L56.5 -0.9L57.0 -0.3L57.6 -0.6L57.9 -0.1L57.9 0ZM55.9 0L56.5 -1.1L57.0 -0.1L57.0 0ZM62.5 0L63.1 -0.7L64.0 -0.2L64.0 0ZM55.8 0L56.1 -0.5L56.6 -0.1L57.0 -1.1L57.5 -0.3L57.7 -1.1L58.3 -0.5L58.3 0ZM53.4 0L53.9 -1.0L54.6 -0.4L54.6 0ZM57.1 0L57.7 -1.5L58.1 -0.4L58.5 -1.5L59.1 -0.1L59.1 0ZM49.0 0L49.6 -0.8L50.1 -0.3L50.5 -0.7L51.2 -0.1L51.2 0ZM46.2 0L46.8 -1.2L47.5 -0.3L47.5 0ZM49.2 0L49.8 -0.9L50.0 -0.2L50.4 -1.0L50.9 -0.3L51.3 -0.3L51.7 -0.1L51.7 0ZM56.8 0L57.2 -0.4L57.7 -0.1L58.2 -0.5L58.5 -0.2L58.9 -0.5L59.4 -0.2L59.4 0ZM65.5 0L66.0 -1.3L66.5 -0.1L67.0 -2.1L67.5 -0.4L68.0 -0.9L68.5 -0.2L68.5 0ZM68.6 0L69.0 -1.1L69.7 -0.2L69.7 0ZM68.4 0L68.9 -1.2L69.6 -0.4L70.1 -1.1L70.8 -0.3L70.8 0ZM86.2 0L86.5 -0.4L87.1 -0.1L87.5 -1.1L88.0 -0.2L88.0 0ZM76.9 0L77.4 -1.1L77.7 -0.4L78.1 -1.0L78.6 -0.2L78.6 0ZM84.7 0L85.3 -1.1L86.0 -0.0L86.0 0ZM21.3 0L21.8 -1.0L22.3 -0.4L22.3 0ZM28.9 0L29.1 -1.4L29.5 -0.4L29.5 0ZM21.3 0L21.8 -1.9L22.3 0ZM42.9 0L43.4 -1.2L43.9 0ZM24.4 0L24.9 -1.4L25.4 0ZM41.3 0L41.8 -1.3L42.3 0ZM39.8 0L40.3 -2.3L40.8 0ZM7.9 0L8.4 -1.8L8.9 0Z"/>
<path id="ttan4" d="M68.1 0V-2.3M58.7 0V-2.3M59.5 0V-3.0M60.3 0V-3.3M54.8 0V-2.6M55.9 0V-2.5M64.3 0V-4.7M72.2 0V-1.8M73.0 0V-2.6M73.8 0V-1.3M55.6 0V-1.7M56.7 0V-3.3M55.6 0V-1.7M56.5 0V-2.4M57.6 0V-2.1M56.5 0V-3.3M63.1 0V-2.6M56.1 0V-1.7M57.0 0V-2.7M57.7 0V-2.3M53.9 0V-2.0M57.7 0V-3.4M58.5 0V-3.5M49.6 0V-2.0M50.5 0V-2.0M46.8 0V-3.5M49.8 0V-1.8M50.4 0V-2.0M51.3 0V-1.2M57.2 0V-1.2M58.2 0V-1.6M58.9 0V-1.1M66.0 0V-3.2M67.0 0V-5.1M68.0 0V-2.9M69.0 0V-2.5M68.9 0V-2.5M70.1 0V-2.9M86.5 0V-1.3M87.5 0V-2.2M77.4 0V-4.0M78.1 0V-2.6M85.3 0V-2.7M21.8 0V-2.1M29.1 0V-3.0"/>
<path id="tta5" d="M72.1 0L72.6 -1.3L73.1 0ZM86.2 0L86.7 -1.7L87.2 0ZM18.5 0L19.0 -0.9L19.5 0ZM59.7 0L60.2 -1.2L60.7 0ZM22.9 0L23.4 -1.7L23.9 0ZM50.4 0L50.9 -1.1L51.4 0ZM49.1 0L49.6 -1.4L50.1 0ZM69.8 0L70.3 -1.2L70.8 0ZM43.9 0L44.4 -1.0L44.9 0ZM74.2 0L74.7 -1.7L75.2 0ZM-0.3 0L0.2 -1.6L0.7 0ZM85.1 0L85.6 -1.7L86.1 0ZM69.9 0L70.4 -1.0L70.9 0ZM86.7 0L87.2 -1.2L87.7 0ZM57.4 0L57.9 -0.6L58.3 -0.1L58.7 -0.9L59.2 -0.1L59.6 -0.6L60.1 -0.1L60.1 0ZM72.5 0L73.1 -0.9L73.4 -0.2L73.9 -0.9L74.2 -0.2L74.2 0ZM59.4 0L59.8 -0.5L60.5 -0.2L61.1 -1.1L61.6 -0.3L61.6 0ZM61.2 0L61.8 -1.0L62.4 -0.1L62.4 0ZM45.3 0L45.7 -1.2L46.4 -0.2L46.9 -0.8L47.5 -0.1L47.5 0ZM68.8 0L69.1 -0.3L69.6 -0.2L70.2 -0.7L70.4 -0.1L70.7 -0.5L71.2 -0.1L71.2 0ZM65.1 0L65.7 -1.2L66.0 -0.2L66.3 -1.6L66.9 -0.7L67.3 -1.4L67.8 -0.4L67.8 0ZM65.8 0L66.5 -0.5L67.0 -0.1L67.7 -0.5L68.2 -0.2L68.2 0ZM53.7 0L54.3 -1.2L54.7 -0.0L55.4 -0.7L55.8 -0.3L55.8 0ZM57.5 0L58.1 -0.7L58.7 -0.0L58.7 0ZM54.8 0L55.4 -1.1L56.0 -0.6L56.7 -1.1L57.2 -0.4L57.2 0ZM74.7 0L75.2 -0.6L75.6 -0.2L75.6 0ZM45.4 0L46.1 -0.6L46.6 -0.2L46.6 0ZM55.9 0L56.4 -1.4L57.1 -0.0L57.1 0ZM71.7 0L72.2 -1.3L72.7 -0.1L73.2 -1.7L73.7 -0.0L74.3 -0.8L74.6 -0.2L74.6 0ZM49.0 0L49.7 -2.4L50.5 -0.4L50.5 0ZM61.2 0L61.6 -1.2L62.2 -0.1L62.6 -1.7L63.2 -0.5L63.2 0ZM70.4 0L71.0 -2.3L71.8 -0.8L71.8 0ZM61.8 0L62.2 -0.6L62.6 -0.3L63.1 -1.0L63.4 -0.3L63.8 -0.7L64.2 -0.1L64.2 0ZM72.4 0L72.9 -1.0L73.2 -0.1L73.7 -0.7L74.1 -0.0L74.6 -0.3L74.9 -0.1L74.9 0ZM52.1 0L52.6 -0.9L53.1 -0.4L53.5 -0.6L54.1 -0.1L54.1 0ZM84.5 0L85.2 -1.0L85.6 -0.5L86.1 -1.2L86.6 -0.3L86.6 0ZM81.9 0L82.6 -1.4L83.0 -0.0L83.5 -0.7L84.1 -0.2L84.1 0ZM12.9 0L13.3 -1.1L13.9 -0.4L13.9 0ZM35.6 0L36.1 -2.6L36.6 0ZM29.6 0L30.1 -1.2L30.6 0Z"/>
<path id="ttan5" d="M57.9 0V-1.8M58.7 0V-2.9M59.6 0V-1.6M73.1 0V-2.8M73.9 0V-2.1M59.8 0V-1.8M61.1 0V-3.2M61.8 0V-3.1M45.7 0V-2.5M46.9 0V-1.5M69.1 0V-1.3M70.2 0V-2.2M70.7 0V-1.7M65.7 0V-3.3M66.3 0V-4.2M67.3 0V-3.2M66.5 0V-1.2M67.7 0V-1.3M54.3 0V-3.2M55.4 0V-2.3M58.1 0V-2.4M55.4 0V-2.7M56.7 0V-2.9M75.2 0V-2.3M46.1 0V-1.3M56.4 0V-3.6M72.2 0V-2.9M73.2 0V-3.7M74.3 0V-1.8M49.7 0V-5.0M61.6 0V-2.8M62.6 0V-4.1M71.0 0V-5.4M62.2 0V-1.4M63.1 0V-2.1M63.8 0V-1.8M72.9 0V-1.9M73.7 0V-2.4M74.6 0V-1.0M52.6 0V-2.2M53.5 0V-2.0M85.2 0V-2.0M86.1 0V-2.8M82.6 0V-4.1M83.5 0V-2.7M13.3 0V-2.2"/>
<path id="tta6" d="M68.1 0L68.6 -0.9L69.1 0ZM38.5 0L39.0 -1.5L39.5 0ZM72.1 0L72.6 -1.2L73.1 0ZM6.9 0L7.4 -1.7L7.9 0ZM25.6 0L26.1 -1.3L26.6 0ZM-0.3 0L0.2 -1.1L0.7 0ZM82.3 0L82.8 -1.5L83.3 0ZM62.6 0L63.1 -1.4L63.6 0ZM11.6 0L12.1 -1.0L12.6 0ZM83.3 0L83.8 -0.9L84.3 0ZM58.0 0L58.5 -1.2L59.0 0ZM63.9 0L64.4 -0.9L64.9 0ZM8.8 0L9.3 -1.3L9.8 0ZM22.2 0L22.7 -1.6L23.2 0ZM87.4 0L87.9 -0.9L88.4 0ZM55.5 0L56.1 -1.6L56.8 -0.7L56.8 0ZM48.8 0L49.5 -0.9L50.2 -0.4L50.2 0ZM56.9 0L57.4 -0.8L58.1 -0.2L58.1 0ZM74.0 0L74.7 -1.3L75.4 -0.0L75.4 0ZM46.6 0L47.1 -0.5L47.5 -0.0L48.1 -1.7L48.5 -0.7L48.9 -0.8L49.4 -0.3L49.4 0ZM62.3 0L62.7 -2.1L63.3 -0.1L63.3 0ZM57.2 0L57.8 -1.4L58.3 -0.4L58.7 -1.1L59.4 -0.4L59.4 0ZM57.0 0L57.7 -0.7L58.4 -0.3L58.4 0ZM68.6 0L69.2 -0.8L69.6 -0.3L70.2 -0.9L70.7 -0.1L70.7 0ZM76.1 0L76.7 -1.6L77.3 -0.7L77.3 0ZM21.2 0L21.4 -0.7L21.9 -0.1L21.9 0ZM1.0 0L1.4 -0.4L1.5 -0.2L1.5 0ZM40.9 0L41.4 -1.2L41.9 0ZM6.6 0L7.1 -2.2L7.6 0ZM38.9 0L39.4 -1.7L39.9 0ZM25.9 0L26.4 -3.0L26.9 0ZM36.3 0L36.8 -1.0L37.3 0Z"/>
<path id="ttan6" d="M56.1 0V-3.4M49.5 0V-2.1M57.4 0V-2.1M74.7 0V-3.1M47.1 0V-1.5M48.1 0V-4.4M48.9 0V-2.0M62.7 0V-4.5M57.8 0V-3.3M58.7 0V-2.8M57.7 0V-1.6M69.2 0V-2.5M70.2 0V-2.1M76.7 0V-3.9M21.4 0V-1.6M1.4 0V-1.0"/>
<path id="tta7" d="M83.6 0L84.1 -1.5L84.6 0ZM79.2 0L79.7 -1.3L80.2 0ZM4.7 0L5.2 -1.0L5.7 0ZM6.9 0L7.4 -1.6L7.9 0ZM76.7 0L77.2 -1.3L77.7 0ZM73.2 0L73.7 -1.0L74.2 0ZM38.0 0L38.5 -1.2L39.0 0ZM42.6 0L43.1 -0.8L43.6 0ZM14.5 0L15.0 -0.9L15.5 0ZM56.5 0L57.0 -1.3L57.5 0ZM87.0 0L87.5 -1.4L88.0 0ZM17.5 0L18.0 -0.9L18.5 0ZM59.7 0L60.2 -1.6L60.7 0ZM11.2 0L11.7 -1.3L12.2 0ZM83.8 0L84.3 -1.7L84.8 0ZM9.5 0L10.0 -1.3L10.5 0ZM76.3 0L76.8 -1.4L77.3 0ZM1.3 0L1.8 -1.1L2.3 0ZM24.3 0L24.8 -1.1L25.3 0ZM69.2 0L69.7 -0.9L70.1 -0.4L70.6 -1.6L71.0 -0.7L71.4 -1.6L71.8 -0.5L71.8 0ZM64.0 0L64.6 -1.7L65.0 -0.6L65.6 -1.2L66.0 -0.5L66.0 0ZM78.9 0L79.3 -1.2L79.7 -0.0L80.0 -1.0L80.6 -0.2L80.6 0ZM64.7 0L65.0 -1.1L65.6 -0.1L65.9 -0.8L66.5 -0.0L66.9 -0.8L67.4 -0.3L67.9 -0.8L68.3 -0.1L68.3 0ZM74.8 0L75.4 -0.8L75.7 -0.1L76.1 -0.9L76.6 -0.1L77.0 -1.0L77.5 -0.4L77.8 -0.5L78.4 -0.2L78.4 0ZM75.8 0L76.1 -0.7L76.6 -0.0L77.0 -1.4L77.5 -0.5L78.0 -1.2L78.4 -0.5L78.8 -0.8L79.2 -0.1L79.2 0ZM75.3 0L75.7 -0.7L76.2 -0.1L76.8 -0.7L77.2 -0.0L77.5 -0.9L78.1 -0.1L78.1 0ZM71.7 0L72.1 -0.5L72.6 -0.2L72.9 -0.8L73.4 -0.1L74.0 -0.8L74.3 -0.2L74.3 0ZM71.7 0L72.0 -0.8L72.6 -0.1L73.1 -0.8L73.5 -0.2L74.0 -1.2L74.4 -0.0L74.6 -0.8L75.2 -0.2L75.2 0ZM70.7 0L71.1 -0.8L71.7 -0.1L72.0 -1.6L72.7 -0.3L73.1 -0.6L73.7 -0.1L73.7 0ZM73.4 0L73.9 -1.0L74.4 -0.2L74.7 -1.5L75.3 -0.6L75.9 -0.9L76.3 -0.2L76.3 0ZM75.3 0L75.9 -0.4L76.2 -0.1L76.6 -0.6L77.1 -0.0L77.6 -0.7L78.0 -0.0L78.4 -0.7L78.9 -0.2L78.9 0ZM48.2 0L48.7 -0.6L49.1 -0.2L49.5 -0.7L50.0 -0.0L50.5 -0.7L51.0 -0.1L51.0 0ZM44.9 0L45.2 -0.6L45.8 -0.2L46.3 -1.8L46.7 -0.3L47.2 -0.5L47.6 -0.1L47.6 0ZM47.2 0L47.7 -1.4L48.2 -0.2L48.8 -0.6L49.2 -0.1L49.2 0ZM50.0 0L50.6 -1.1L51.0 -0.5L51.5 -1.3L52.1 -0.2L52.1 0ZM48.7 0L49.2 -0.3L49.6 -0.1L50.0 -0.8L50.6 -0.1L50.6 0ZM10.3 0L10.6 -0.7L11.2 -0.1L11.2 0ZM73.3 0L73.6 -1.1L73.9 -0.3L73.9 0ZM6.5 0L6.9 -1.2L7.2 -0.5L7.2 0ZM71.3 0L71.6 -0.4L72.1 -0.1L72.5 -0.5L72.9 -0.0L72.9 0ZM73.3 0L74.1 -1.1L74.9 -0.1L74.9 0ZM43.7 0L44.2 -1.5L45.0 -0.5L45.0 0ZM5.2 0L5.7 -1.8L6.2 0ZM38.0 0L38.5 -2.2L39.0 0ZM36.1 0L36.6 -1.8L37.1 0ZM5.2 0L5.7 -2.7L6.2 0ZM43.7 0L44.2 -2.9L44.7 0ZM79.3 0L79.8 -2.9L80.3 0ZM56.5 0L57.0 -1.1L57.5 0ZM35.1 0L35.6 -2.0L36.1 0ZM20.5 0L21.0 -1.1L21.5 0ZM64.2 0L64.7 -2.6L65.2 0ZM15.4 0L15.9 -1.0L16.4 0Z"/>
<path id="ttan7" d="M69.7 0V-2.4M70.6 0V-4.7M71.4 0V-3.5M64.6 0V-4.0M65.6 0V-3.8M79.3 0V-2.6M80.0 0V-3.3M65.0 0V-2.7M65.9 0V-1.8M66.9 0V-3.1M67.9 0V-2.4M75.4 0V-1.8M76.1 0V-1.9M77.0 0V-2.8M77.8 0V-1.6M76.1 0V-2.2M77.0 0V-3.4M78.0 0V-3.1M78.8 0V-2.4M75.7 0V-1.6M76.8 0V-2.4M77.5 0V-3.5M72.1 0V-1.8M72.9 0V-2.6M74.0 0V-1.9M72.0 0V-2.4M73.1 0V-2.3M74.0 0V-3.5M74.6 0V-1.6M71.1 0V-2.6M72.0 0V-3.5M73.1 0V-2.1M73.9 0V-2.6M74.7 0V-4.4M75.9 0V-2.2M75.9 0V-1.2M76.6 0V-2.0M77.6 0V-1.5M78.4 0V-2.1M48.7 0V-1.3M49.5 0V-2.0M50.5 0V-1.9M45.2 0V-2.2M46.3 0V-3.7M47.2 0V-1.4M47.7 0V-3.8M48.8 0V-2.3M50.6 0V-3.7M51.5 0V-2.7M49.2 0V-1.1M50.0 0V-2.1M10.6 0V-1.5M73.6 0V-2.8M6.9 0V-2.5M71.6 0V-1.4M72.5 0V-1.6M74.1 0V-3.0M44.2 0V-3.6"/>
<path id="tta8" d="M11.5 0L12.0 -1.0L12.5 0ZM19.7 0L20.2 -1.4L20.7 0ZM75.2 0L75.7 -1.6L76.2 0ZM15.4 0L15.9 -1.1L16.4 0ZM46.1 0L46.6 -1.4L47.1 0ZM20.1 0L20.6 -1.1L21.1 0ZM52.3 0L52.8 -1.4L53.3 0ZM65.2 0L65.7 -1.3L66.2 0ZM1.7 0L2.2 -1.0L2.7 0ZM47.7 0L48.2 -1.1L48.7 0ZM86.0 0L86.5 -1.1L87.0 0ZM75.7 0L76.2 -1.0L76.7 0ZM67.1 0L67.6 -1.5L68.1 0ZM87.0 0L87.5 -1.5L88.0 0ZM81.0 0L81.5 -1.7L82.0 0ZM31.3 0L31.8 -1.3L32.3 0ZM8.4 0L8.9 -1.0L9.4 0ZM77.1 0L77.6 -1.0L78.1 0ZM28.3 0L28.8 -1.0L29.3 0ZM71.1 0L71.6 -1.0L72.1 0ZM70.3 0L70.9 -0.8L71.4 -0.2L72.1 -0.5L72.6 -0.1L72.6 0ZM60.2 0L60.6 -1.4L61.0 -0.4L61.6 -0.6L61.9 -0.1L62.3 -1.7L62.7 -0.9L63.3 -0.8L63.6 -0.2L63.6 0ZM58.3 0L58.6 -0.6L59.1 -0.0L59.5 -1.0L59.9 -0.3L60.4 -1.5L60.8 -0.0L60.8 0ZM59.9 0L60.2 -0.7L60.8 -0.2L61.1 -1.0L61.6 -0.1L62.1 -0.5L62.5 -0.1L62.9 -0.7L63.4 -0.3L63.4 0ZM60.6 0L61.3 -0.8L61.7 -0.0L62.1 -1.2L62.8 -0.3L62.8 0ZM73.8 0L74.6 -1.2L75.4 -0.1L75.4 0ZM15.5 0L16.1 -0.5L16.4 -0.1L16.8 -0.9L17.3 -0.4L17.3 0ZM61.7 0L61.7 -0.5L62.1 -0.1L62.1 0ZM77.2 0L77.6 -0.9L77.9 -0.0L77.9 0ZM6.4 0L6.7 -0.6L7.3 -0.1L7.8 -0.4L8.2 -0.1L8.2 0ZM13.2 0L13.9 -1.0L14.6 -0.4L14.6 0ZM60.4 0L60.9 -0.4L61.3 -0.2L61.3 0ZM68.9 0L69.4 -2.3L69.9 0ZM33.4 0L33.9 -2.5L34.4 0ZM66.2 0L66.7 -1.7L67.2 0ZM79.5 0L80.0 -2.3L80.5 0ZM4.5 0L5.0 -1.4L5.5 0ZM1.1 0L1.6 -2.3L2.1 0ZM9.6 0L10.1 -1.9L10.6 0ZM42.9 0L43.4 -1.1L43.9 0Z"/>
<path id="ttan8" d="M70.9 0V-2.6M72.1 0V-1.5M60.6 0V-2.9M61.6 0V-2.0M62.3 0V-3.8M63.3 0V-2.2M58.6 0V-2.0M59.5 0V-3.5M60.4 0V-3.6M60.2 0V-1.6M61.1 0V-2.0M62.1 0V-1.9M62.9 0V-2.2M61.3 0V-2.4M62.1 0V-2.8M74.6 0V-3.5M16.1 0V-1.9M16.8 0V-2.3M61.7 0V-1.2M77.6 0V-2.7M6.7 0V-1.6M7.8 0V-1.1M13.9 0V-2.4M60.9 0V-1.2"/>
<path id="tta9" d="M87.3 0L87.8 -1.6L88.3 0ZM11.2 0L11.7 -0.8L12.2 0ZM72.1 0L72.6 -1.1L73.1 0ZM31.8 0L32.3 -1.6L32.8 0ZM70.0 0L70.5 -1.3L71.0 0ZM75.2 0L75.7 -1.3L76.2 0ZM36.9 0L37.4 -1.4L37.9 0ZM45.7 0L46.2 -1.1L46.7 0ZM64.9 0L65.4 -1.5L65.9 0ZM13.5 0L14.0 -1.4L14.5 0ZM45.1 0L45.6 -1.4L46.1 0ZM48.6 0L49.1 -1.5L49.6 0ZM38.8 0L39.3 -1.3L39.8 0ZM78.3 0L78.8 -0.9L79.3 0ZM70.7 0L71.2 -0.6L71.6 -0.2L72.0 -0.8L72.4 -0.3L72.4 0ZM45.4 0L45.8 -0.6L46.2 -0.2L46.7 -0.5L47.1 -0.1L47.1 0ZM48.0 0L48.4 -0.8L48.7 -0.3L48.7 0ZM57.4 0L58.0 -1.0L58.9 -0.4L58.9 0ZM19.1 0L19.7 -0.5L20.2 -0.2L20.2 0ZM25.0 0L25.5 -0.9L25.9 -0.4L25.9 0ZM60.2 0L60.9 -0.6L61.6 -0.1L61.6 0ZM15.0 0L15.6 -0.4L16.4 -0.1L16.4 0ZM81.6 0L81.8 -1.2L82.2 -0.4L82.2 0ZM55.9 0L56.6 -1.2L57.4 -0.2L57.4 0ZM78.7 0L79.0 -1.2L79.5 -0.1L79.5 0ZM36.5 0L37.0 -0.4L37.7 -0.2L37.7 0ZM15.6 0L16.1 -2.5L16.6 0ZM66.1 0L66.6 -1.4L67.1 0ZM82.9 0L83.4 -1.8L83.9 0ZM75.0 0L75.5 -2.0L76.0 0ZM40.7 0L41.2 -2.3L41.7 0ZM66.7 0L67.2 -1.5L67.7 0ZM60.6 0L61.1 -1.2L61.6 0ZM19.2 0L19.7 -1.7L20.2 0ZM0.3 0L0.8 -2.7L1.3 0ZM43.4 0L43.9 -1.4L44.4 0ZM54.4 0L54.9 -1.6L55.4 0ZM14.5 0L15.0 -1.7L15.5 0ZM20.0 0L20.5 -1.5L21.0 0Z"/>
<path id="ttan9" d="M71.2 0V-1.7M72.0 0V-2.2M45.8 0V-1.7M46.7 0V-1.6M48.4 0V-1.9M58.0 0V-2.3M19.7 0V-2.1M25.5 0V-1.9M60.9 0V-1.8M15.6 0V-1.2M81.8 0V-3.5M56.6 0V-3.5M79.0 0V-3.4M37.0 0V-1.4"/>
<path id="tta10" d="M45.0 0L45.5 -1.3L46.0 0ZM45.5 0L46.0 -1.8L46.5 0ZM1.7 0L2.2 -1.6L2.7 0ZM5.1 0L5.6 -0.9L6.1 0ZM35.8 0L36.3 -1.3L36.8 0ZM47.5 0L48.0 -1.1L48.5 0ZM85.8 0L86.3 -1.7L86.8 0ZM50.3 0L50.8 -1.7L51.3 0ZM25.0 0L25.5 -1.7L26.0 0ZM36.7 0L37.2 -0.8L37.7 0ZM80.9 0L81.4 -1.0L81.9 0ZM9.7 0L10.2 -1.0L10.7 0ZM63.2 0L63.7 -1.5L64.2 0ZM75.5 0L76.0 -1.0L76.5 0ZM18.0 0L18.5 -1.7L19.0 0ZM20.3 0L20.8 -0.9L21.3 0ZM69.2 0L69.7 -1.0L70.2 0ZM55.0 0L55.5 -1.1L56.0 0ZM58.9 0L59.4 -1.2L59.9 0ZM71.9 0L72.4 -1.0L72.9 0ZM1.9 0L2.4 -1.2L2.9 0ZM3.8 0L4.3 -1.0L4.8 0ZM20.0 0L20.5 -1.0L21.0 0ZM16.8 0L17.3 -1.1L17.8 0ZM70.1 0L70.4 -1.2L70.9 -0.1L71.2 -1.7L71.8 -0.7L72.3 -0.6L72.6 -0.2L72.6 0ZM66.5 0L67.0 -0.5L67.3 -0.0L67.8 -1.0L68.2 -0.5L68.6 -0.5L69.1 -0.1L69.1 0ZM74.8 0L75.3 -1.1L75.7 -0.1L76.0 -2.1L76.6 -0.5L76.6 0ZM34.8 0L35.3 -0.5L36.1 -0.2L36.1 0ZM9.1 0L9.5 -0.4L9.9 -0.1L10.2 -0.5L10.8 -0.2L10.8 0ZM82.4 0L83.0 -0.8L83.6 -0.3L83.6 0ZM39.0 0L39.9 -1.8L40.5 -0.6L40.5 0ZM5.0 0L5.3 -1.0L5.9 -0.2L6.4 -1.5L6.8 -0.3L6.8 0ZM73.3 0L73.8 -1.0L74.5 -0.5L74.5 0ZM61.8 0L62.4 -0.5L62.7 -0.1L62.7 0ZM83.2 0L83.5 -0.3L83.7 -0.1L83.7 0ZM8.1 0L8.6 -1.6L9.1 0ZM31.9 0L32.4 -2.8L32.9 0ZM33.4 0L33.9 -1.8L34.4 0ZM39.7 0L40.2 -1.7L40.7 0ZM35.8 0L36.3 -2.8L36.8 0ZM76.8 0L77.3 -2.1L77.8 0ZM8.3 0L8.8 -2.5L9.3 0Z"/>
<path id="ttan10" d="M70.4 0V-2.8M71.2 0V-4.1M72.3 0V-1.3M67.0 0V-2.0M67.8 0V-3.0M68.6 0V-1.5M75.3 0V-2.2M76.0 0V-4.3M35.3 0V-1.6M9.5 0V-1.3M10.2 0V-1.0M83.0 0V-2.1M39.9 0V-3.7M5.3 0V-2.0M6.4 0V-3.2M73.8 0V-3.1M62.4 0V-1.0M83.5 0V-1.0"/>
<path id="tta11" d="M60.9 0L61.4 -1.4L61.9 0ZM24.8 0L25.3 -1.4L25.8 0ZM83.1 0L83.6 -1.5L84.1 0ZM32.2 0L32.7 -1.5L33.2 0ZM25.0 0L25.5 -1.1L26.0 0ZM59.4 0L59.9 -1.7L60.4 0ZM62.5 0L63.0 -1.1L63.5 0ZM18.4 0L18.9 -1.6L19.4 0ZM21.2 0L21.7 -1.5L22.2 0ZM66.5 0L67.0 -0.8L67.5 0ZM87.4 0L87.9 -1.8L88.4 0ZM17.2 0L17.7 -1.2L18.2 0ZM81.7 0L82.2 -1.1L82.7 0ZM35.5 0L36.0 -0.9L36.5 0ZM74.7 0L75.2 -1.2L75.7 0ZM73.7 0L74.1 -0.8L74.7 -0.4L75.0 -1.2L75.6 -0.6L75.6 0ZM69.8 0L70.1 -0.6L70.6 -0.2L71.1 -1.1L71.4 -0.1L71.7 -1.0L72.2 -0.2L72.2 0ZM72.0 0L72.5 -0.8L72.9 -0.2L73.3 -1.2L73.7 -0.3L73.7 0ZM65.8 0L66.3 -0.7L66.9 -0.1L67.6 -1.9L68.0 -0.2L68.0 0ZM69.5 0L70.0 -1.2L70.4 -0.2L70.8 -1.2L71.3 -0.5L71.8 -1.4L72.2 -0.6L72.2 0ZM67.4 0L67.8 -1.5L68.4 -0.2L69.0 -1.3L69.5 -0.0L69.5 0ZM44.9 0L45.6 -0.7L46.1 -0.3L46.6 -0.6L47.2 -0.1L47.2 0ZM47.2 0L47.7 -0.5L48.0 -0.1L48.5 -1.5L48.8 -0.4L49.4 -1.2L49.6 -0.3L50.1 -0.8L50.4 -0.1L50.4 0ZM47.8 0L48.2 -0.7L48.6 -0.0L48.6 0ZM70.9 0L71.4 -0.5L71.9 -0.2L71.9 0ZM70.5 0L71.2 -0.7L71.6 -0.1L71.6 0ZM52.1 0L52.6 -1.0L53.0 -0.2L53.3 -0.7L53.9 -0.1L53.9 0ZM77.7 0L78.3 -1.1L79.2 -0.4L79.2 0ZM10.6 0L11.0 -0.8L11.3 -0.1L11.3 0ZM27.3 0L27.7 -1.3L28.1 -0.3L28.1 0ZM35.4 0L35.9 -2.9L36.4 0ZM34.5 0L35.0 -1.9L35.5 0ZM64.5 0L65.0 -1.5L65.5 0ZM74.7 0L75.2 -1.5L75.7 0ZM63.0 0L63.5 -2.7L64.0 0ZM1.6 0L2.1 -1.9L2.6 0ZM44.5 0L45.0 -2.7L45.5 0ZM41.3 0L41.8 -2.5L42.3 0ZM19.4 0L19.9 -1.9L20.4 0ZM61.7 0L62.2 -1.3L62.7 0ZM12.6 0L13.1 -1.2L13.6 0ZM17.7 0L18.2 -1.5L18.7 0ZM29.2 0L29.7 -2.1L30.2 0Z"/>
<path id="ttan11" d="M74.1 0V-2.5M75.0 0V-2.9M70.1 0V-2.2M71.1 0V-2.5M71.7 0V-2.3M72.5 0V-1.9M73.3 0V-2.4M66.3 0V-2.9M67.6 0V-3.9M70.0 0V-3.7M70.8 0V-2.8M71.8 0V-3.5M67.8 0V-3.3M69.0 0V-2.8M45.6 0V-1.9M46.6 0V-2.1M47.7 0V-1.9M48.5 0V-3.3M49.4 0V-3.5M50.1 0V-2.3M48.2 0V-2.6M71.4 0V-1.5M71.2 0V-2.5M52.6 0V-2.5M53.3 0V-2.0M78.3 0V-3.6M11.0 0V-1.8M27.7 0V-3.4"/>
<path id="tta12" d="M21.1 0L21.6 -1.4L22.1 0ZM52.5 0L53.0 -1.6L53.5 0ZM67.5 0L68.0 -1.1L68.5 0ZM60.0 0L60.5 -1.2L61.0 0ZM39.2 0L39.7 -1.5L40.2 0ZM36.0 0L36.5 -1.7L37.0 0ZM5.1 0L5.6 -1.7L6.1 0ZM42.4 0L42.9 -1.4L43.4 0ZM7.0 0L7.5 -1.2L8.0 0ZM5.1 0L5.6 -1.7L6.1 0ZM28.8 0L29.3 -1.8L29.8 0ZM61.8 0L62.1 -1.1L62.6 -0.3L62.9 -0.9L63.4 -0.2L63.4 0ZM51.8 0L52.3 -1.0L52.8 -0.5L53.4 -0.9L53.8 -0.1L53.8 0ZM50.9 0L51.5 -0.7L52.0 -0.0L52.4 -1.8L53.1 -0.8L53.6 -0.9L54.1 -0.4L54.1 0ZM53.5 0L54.2 -1.1L55.0 -0.5L55.0 0ZM53.5 0L54.4 -2.0L55.1 -0.1L55.1 0ZM54.0 0L54.4 -0.7L55.0 -0.2L55.5 -0.9L56.0 -0.2L56.0 0ZM47.2 0L47.8 -0.9L48.5 -0.0L48.5 0ZM7.2 0L7.9 -1.3L8.4 -0.6L8.4 0ZM2.6 0L3.3 -1.6L3.8 -0.5L3.8 0ZM67.5 0L68.0 -0.7L68.3 -0.3L68.9 -0.5L69.2 -0.1L69.2 0ZM9.7 0L10.2 -1.9L10.7 -0.3L10.7 0ZM74.0 0L74.3 -0.8L74.9 -0.1L74.9 0ZM31.4 0L31.9 -1.8L32.4 0ZM78.3 0L78.8 -2.3L79.3 0ZM51.2 0L51.7 -2.6L52.2 0ZM30.4 0L30.9 -2.7L31.4 0ZM61.5 0L62.0 -2.6L62.5 0ZM83.5 0L84.0 -2.4L84.5 0ZM61.2 0L61.7 -2.6L62.2 0ZM54.8 0L55.3 -2.8L55.8 0Z"/>
<path id="ttan12" d="M62.1 0V-3.9M62.9 0V-2.9M52.3 0V-3.7M53.4 0V-2.1M51.5 0V-2.5M52.4 0V-3.9M53.6 0V-2.4M54.2 0V-3.5M54.4 0V-4.2M54.4 0V-1.8M55.5 0V-2.0M47.8 0V-1.9M7.9 0V-4.0M3.3 0V-3.8M68.0 0V-1.9M68.9 0V-0.9M10.2 0V-4.9M74.3 0V-2.0"/>
<path id="tta13" d="M24.3 0L24.8 -1.7L25.3 0ZM26.0 0L26.5 -0.9L27.0 0ZM35.6 0L36.1 -1.4L36.6 0ZM65.7 0L66.2 -0.9L66.7 0ZM40.4 0L40.9 -1.6L41.4 0ZM40.0 0L40.5 -1.1L41.0 0ZM79.9 0L80.4 -1.2L80.9 0ZM11.3 0L11.8 -1.3L12.3 0ZM54.4 0L54.9 -1.5L55.4 0ZM58.1 0L58.6 -1.5L59.1 0ZM38.3 0L38.8 -1.5L39.3 0ZM67.1 0L67.6 -1.6L68.1 0ZM64.0 0L64.5 -1.1L65.0 0ZM61.0 0L61.5 -1.6L62.0 0ZM83.9 0L84.4 -1.7L84.9 0ZM0.7 0L1.2 -1.8L1.7 0ZM66.4 0L66.9 -1.0L67.4 -0.1L67.8 -0.9L68.4 -0.4L68.4 0ZM73.6 0L73.8 -1.6L74.4 -0.1L74.9 -1.3L75.2 -0.6L75.5 -1.5L76.1 -0.4L76.6 -1.2L76.9 -0.1L76.9 0ZM75.6 0L76.1 -0.6L76.8 -0.3L77.4 -0.7L78.0 -0.0L78.0 0ZM50.9 0L51.5 -1.2L52.1 -0.5L52.8 -0.7L53.3 -0.1L53.3 0ZM51.9 0L52.4 -1.2L52.9 -0.1L53.4 -0.8L54.0 -0.1L54.5 -1.0L55.1 -0.4L55.1 0ZM79.3 0L79.8 -0.8L80.5 -0.2L80.5 0ZM40.4 0L41.3 -0.7L42.0 -0.1L42.0 0ZM16.3 0L16.9 -0.9L17.5 -0.1L17.5 0ZM46.9 0L47.5 -0.3L48.1 -0.0L48.1 0ZM17.1 0L17.8 -1.2L18.4 -0.4L18.4 0ZM13.1 0L13.4 -0.8L14.0 -0.2L14.0 0ZM78.6 0L79.1 -2.5L79.6 0ZM33.0 0L33.5 -1.6L34.0 0ZM19.5 0L20.0 -1.9L20.5 0ZM26.3 0L26.8 -2.0L27.3 0ZM45.1 0L45.6 -2.1L46.1 0ZM70.8 0L71.3 -2.5L71.8 0ZM10.3 0L10.8 -1.2L11.3 0ZM54.4 0L54.9 -2.0L55.4 0ZM-0.4 0L0.1 -1.6L0.6 0ZM15.6 0L16.1 -2.1L16.6 0Z"/>
<path id="ttan13" d="M66.9 0V-2.6M67.8 0V-1.9M73.8 0V-3.3M74.9 0V-4.2M75.5 0V-4.1M76.6 0V-2.6M76.1 0V-2.4M77.4 0V-1.6M51.5 0V-3.6M52.8 0V-1.7M52.4 0V-2.8M53.4 0V-2.2M54.5 0V-2.2M79.8 0V-2.0M41.3 0V-1.9M16.9 0V-2.7M47.5 0V-1.2M17.8 0V-2.8M13.4 0V-2.0"/>
<path id="tta14" d="M58.6 0L59.1 -1.7L59.6 0ZM27.5 0L28.0 -1.8L28.5 0ZM14.4 0L14.9 -1.0L15.4 0ZM12.4 0L12.9 -1.1L13.4 0ZM54.5 0L55.0 -1.6L55.5 0ZM7.5 0L8.0 -0.9L8.5 0ZM13.5 0L14.0 -1.7L14.5 0ZM87.0 0L87.5 -1.6L88.0 0ZM7.8 0L8.3 -0.9L8.8 0ZM35.3 0L35.8 -1.4L36.3 0ZM60.1 0L60.6 -1.5L61.1 0ZM16.7 0L17.2 -1.6L17.7 0ZM69.5 0L70.0 -1.2L70.5 0ZM29.8 0L30.3 -0.9L30.8 0ZM23.4 0L23.9 -1.0L24.4 0ZM39.4 0L39.9 -1.4L40.4 0ZM81.2 0L81.7 -1.2L82.2 0ZM24.6 0L25.1 -1.7L25.6 0ZM10.8 0L11.3 -1.0L11.8 0ZM59.4 0L59.9 -1.5L60.4 0ZM46.3 0L46.8 -1.1L47.3 0ZM13.1 0L13.6 -0.9L14.1 0ZM57.9 0L58.4 -1.4L58.9 0ZM78.9 0L79.2 -0.7L79.7 -0.3L80.3 -1.1L80.6 -0.1L80.9 -1.2L81.4 -0.4L81.4 0ZM78.1 0L78.4 -0.9L78.9 -0.3L79.3 -0.8L79.8 -0.0L80.0 -0.4L80.6 -0.2L80.6 0ZM64.6 0L65.0 -1.5L65.6 -0.3L66.2 -1.0L66.6 -0.5L66.6 0ZM74.5 0L75.0 -1.8L75.4 -0.7L75.7 -1.2L76.3 -0.3L76.3 0ZM69.0 0L69.6 -1.1L70.0 -0.4L70.3 -2.0L70.9 -0.5L71.3 -1.1L71.8 -0.0L71.8 0ZM65.4 0L65.9 -0.8L66.2 -0.0L66.5 -0.6L67.1 -0.1L67.4 -1.1L68.0 -0.3L68.4 -0.7L68.8 -0.0L68.8 0ZM45.3 0L46.0 -1.4L46.7 -0.6L46.7 0ZM43.8 0L44.5 -0.7L45.1 -0.0L45.1 0ZM49.9 0L50.3 -0.3L50.9 -0.1L51.4 -0.8L52.0 -0.3L52.0 0ZM42.1 0L42.4 -1.0L42.8 -0.1L42.8 0ZM83.1 0L83.6 -0.5L84.3 -0.1L84.3 0ZM27.9 0L28.2 -1.1L28.5 -0.4L28.5 0ZM12.1 0L12.6 -2.8L13.1 0ZM82.5 0L83.0 -2.8L83.5 0ZM47.3 0L47.8 -1.0L48.3 0ZM77.9 0L78.4 -1.4L78.9 0ZM0.0 0L0.5 -1.9L1.0 0ZM80.3 0L80.8 -2.2L81.3 0ZM21.5 0L22.0 -1.2L22.5 0ZM48.6 0L49.1 -1.7L49.6 0ZM14.0 0L14.5 -1.6L15.0 0ZM74.2 0L74.7 -2.2L75.2 0ZM37.4 0L37.9 -1.3L38.4 0ZM36.7 0L37.2 -1.1L37.7 0ZM65.1 0L65.6 -2.4L66.1 0ZM26.5 0L27.0 -1.9L27.5 0ZM44.9 0L45.4 -1.7L45.9 0ZM82.9 0L83.4 -1.7L83.9 0Z"/>
<path id="ttan14" d="M79.2 0V-2.0M80.3 0V-2.2M80.9 0V-2.7M78.4 0V-2.2M79.3 0V-2.3M80.0 0V-1.7M65.0 0V-3.3M66.2 0V-3.5M75.0 0V-4.4M75.7 0V-4.4M69.6 0V-2.6M70.3 0V-5.3M71.3 0V-3.2M65.9 0V-1.9M66.5 0V-1.6M67.4 0V-3.2M68.4 0V-1.9M46.0 0V-4.4M44.5 0V-2.6M50.3 0V-1.1M51.4 0V-2.3M42.4 0V-2.1M83.6 0V-1.9M28.2 0V-2.3"/>
<path id="tta15" d="M60.9 0L61.4 -1.3L61.9 0ZM46.0 0L46.5 -1.8L47.0 0ZM7.8 0L8.3 -1.7L8.8 0ZM38.4 0L38.9 -1.0L39.4 0ZM19.6 0L20.1 -1.1L20.6 0ZM44.0 0L44.5 -1.7L45.0 0ZM59.6 0L60.1 -1.3L60.6 0ZM76.0 0L76.5 -1.3L77.0 0ZM15.2 0L15.7 -1.1L16.2 0ZM83.9 0L84.4 -1.6L84.9 0ZM45.1 0L45.6 -1.7L46.1 0ZM16.2 0L16.7 -1.7L17.2 0ZM79.9 0L80.4 -1.1L80.9 0ZM36.4 0L36.9 -1.0L37.4 0ZM3.2 0L3.7 -1.0L4.2 0ZM78.8 0L79.3 -0.9L79.8 0ZM68.0 0L68.4 -0.6L68.8 -0.2L69.4 -0.7L69.6 -0.0L69.9 -0.8L70.5 -0.1L71.0 -0.6L71.3 -0.1L71.3 0ZM73.2 0L73.7 -1.0L74.2 -0.4L74.6 -0.7L75.1 -0.3L75.1 0ZM70.1 0L70.5 -1.1L71.0 -0.5L71.5 -1.8L71.8 -0.5L72.1 -1.4L72.6 -0.6L72.6 0ZM48.7 0L49.3 -1.7L49.8 -0.8L49.8 0ZM6.5 0L7.3 -0.3L8.1 -0.1L8.1 0ZM8.6 0L9.0 -1.4L9.1 -0.3L9.1 0ZM70.2 0L70.4 -0.8L70.7 -0.4L70.7 0ZM73.4 0L73.6 -1.2L73.9 -0.5L73.9 0ZM36.3 0L36.9 -0.7L37.7 -0.1L37.7 0ZM68.0 0L68.8 -0.5L69.3 -0.2L69.3 0ZM75.2 0L75.9 -1.9L76.3 -0.9L76.3 0ZM65.0 0L65.4 -0.6L65.7 -0.3L65.7 0ZM18.6 0L19.3 -0.7L20.2 -0.1L20.2 0ZM1.0 0L1.6 -0.9L2.2 -0.3L2.2 0ZM85.1 0L85.6 -2.3L86.1 0ZM31.2 0L31.7 -2.0L32.2 0ZM29.6 0L30.1 -1.2L30.6 0ZM28.6 0L29.1 -1.1L29.6 0ZM66.7 0L67.2 -1.2L67.7 0ZM33.4 0L33.9 -2.0L34.4 0ZM60.5 0L61.0 -1.6L61.5 0ZM71.2 0L71.7 -1.4L72.2 0ZM85.7 0L86.2 -2.9L86.7 0ZM10.1 0L10.6 -2.2L11.1 0ZM24.4 0L24.9 -1.5L25.4 0ZM32.5 0L33.0 -2.4L33.5 0ZM81.9 0L82.4 -2.9L82.9 0ZM42.4 0L42.9 -1.7L43.4 0Z"/>
<path id="ttan15" d="M68.4 0V-1.7M69.4 0V-2.0M69.9 0V-2.7M71.0 0V-1.6M73.7 0V-3.0M74.6 0V-2.5M70.5 0V-2.4M71.5 0V-4.0M72.1 0V-4.1M49.3 0V-3.8M7.3 0V-1.1M9.0 0V-3.0M70.4 0V-2.1M73.6 0V-4.4M36.9 0V-2.4M68.8 0V-1.7M75.9 0V-4.2M65.4 0V-2.2M19.3 0V-1.4M1.6 0V-3.2"/>
<path id="tta16" d="M41.8 0L42.3 -1.3L42.8 0ZM33.5 0L34.0 -1.0L34.5 0ZM45.8 0L46.3 -0.9L46.8 0ZM28.0 0L28.5 -0.8L29.0 0ZM31.0 0L31.5 -1.2L32.0 0ZM86.0 0L86.5 -1.7L87.0 0ZM56.2 0L56.7 -1.4L57.2 0ZM76.1 0L76.6 -1.8L77.1 0ZM74.3 0L74.8 -1.6L75.3 0ZM44.8 0L45.3 -1.5L45.8 0ZM31.3 0L31.8 -1.2L32.3 0ZM50.6 0L51.1 -1.4L51.6 0ZM16.6 0L17.1 -1.1L17.6 0ZM34.2 0L34.7 -1.4L35.2 0ZM64.8 0L65.4 -0.6L65.7 -0.2L66.0 -1.0L66.7 -0.1L67.0 -1.0L67.6 -0.5L67.6 0ZM71.8 0L72.3 -1.2L72.9 -0.1L73.4 -0.5L73.9 -0.2L73.9 0ZM68.9 0L69.2 -0.7L69.7 -0.0L70.2 -1.6L70.5 -0.2L70.9 -0.9L71.3 -0.0L71.3 0ZM72.6 0L72.9 -0.7L73.5 -0.2L74.0 -0.6L74.3 -0.2L74.7 -0.7L75.2 -0.2L75.2 0ZM72.9 0L73.4 -0.6L74.0 -0.3L74.4 -1.1L75.1 -0.2L75.1 0ZM74.7 0L75.3 -0.6L75.9 -0.2L76.3 -0.6L77.0 -0.0L77.0 0ZM75.8 0L76.3 -0.7L76.7 -0.2L77.2 -1.2L77.7 -0.1L78.2 -0.7L78.6 -0.1L78.6 0ZM69.2 0L69.7 -0.7L70.1 -0.0L70.5 -1.4L70.9 -0.2L71.3 -0.8L71.7 -0.2L72.1 -0.7L72.5 -0.3L72.5 0ZM50.7 0L51.3 -0.8L51.8 -0.0L52.3 -1.2L52.8 -0.3L53.2 -0.8L53.8 -0.2L53.8 0ZM52.2 0L52.9 -0.9L53.6 -0.4L53.6 0ZM73.7 0L74.1 -0.9L74.6 -0.3L74.6 0ZM28.3 0L28.4 -0.4L28.9 -0.1L28.9 0ZM21.6 0L22.2 -0.5L23.0 -0.1L23.0 0ZM46.2 0L46.6 -0.8L47.2 -0.1L47.2 0ZM12.4 0L12.9 -2.0L13.4 -0.5L13.4 0ZM79.7 0L80.2 -0.8L80.6 -0.0L81.1 -1.2L81.4 -0.4L81.4 0ZM77.8 0L78.2 -0.4L78.7 -0.1L79.2 -0.8L79.5 -0.2L79.5 0ZM85.6 0L86.2 -1.0L86.6 -0.3L86.9 -0.9L87.5 -0.2L87.5 0ZM26.8 0L27.7 -1.1L28.3 -0.3L28.3 0ZM37.9 0L38.4 -0.7L38.8 -0.0L39.2 -0.7L39.6 -0.2L39.6 0ZM45.2 0L45.5 -0.8L45.9 -0.0L45.9 0ZM87.4 0L87.9 -2.2L88.4 0ZM68.6 0L69.1 -1.5L69.6 0ZM12.4 0L12.9 -2.5L13.4 0ZM26.8 0L27.3 -1.5L27.8 0ZM87.2 0L87.7 -2.1L88.2 0ZM37.5 0L38.0 -1.1L38.5 0ZM55.9 0L56.4 -2.1L56.9 0ZM10.5 0L11.0 -2.3L11.5 0Z"/>
<path id="ttan16" d="M65.4 0V-2.0M66.0 0V-2.9M67.0 0V-3.0M72.3 0V-3.0M73.4 0V-1.8M69.2 0V-2.3M70.2 0V-4.6M70.9 0V-2.1M72.9 0V-1.7M74.0 0V-1.8M74.7 0V-1.7M73.4 0V-1.9M74.4 0V-3.5M75.3 0V-1.8M76.3 0V-2.0M76.3 0V-2.3M77.2 0V-3.4M78.2 0V-2.7M69.7 0V-2.3M70.5 0V-3.9M71.3 0V-3.3M72.1 0V-2.0M51.3 0V-2.4M52.3 0V-2.9M53.2 0V-1.7M52.9 0V-2.3M74.1 0V-3.2M28.4 0V-1.1M22.2 0V-1.3M46.6 0V-2.0M12.9 0V-4.3M80.2 0V-1.7M81.1 0V-2.5M78.2 0V-1.3M79.2 0V-1.7M86.2 0V-2.3M86.9 0V-2.0M27.7 0V-2.7M38.4 0V-2.6M39.2 0V-1.5M45.5 0V-2.2"/>
<path id="tta17" d="M53.3 0L53.8 -1.1L54.3 0ZM69.0 0L69.5 -1.0L70.0 0ZM84.7 0L85.2 -1.6L85.7 0ZM27.5 0L28.0 -1.8L28.5 0ZM78.7 0L79.2 -0.9L79.7 0ZM34.7 0L35.2 -0.9L35.7 0ZM0.9 0L1.4 -1.7L1.9 0ZM84.5 0L85.0 -1.4L85.5 0ZM61.5 0L62.0 -1.4L62.5 0ZM56.3 0L56.8 -1.4L57.3 0ZM35.0 0L35.5 -1.1L36.0 0ZM2.5 0L3.0 -1.0L3.5 0ZM19.7 0L20.2 -1.4L20.7 0ZM70.4 0L70.9 -1.6L71.4 0ZM43.0 0L43.5 -1.4L44.0 0ZM2.4 0L2.9 -0.9L3.4 0ZM75.6 0L76.1 -1.2L76.6 0ZM42.0 0L42.5 -1.2L43.0 0ZM60.2 0L60.5 -0.3L61.0 -0.1L61.4 -0.6L61.8 -0.2L62.2 -0.6L62.7 -0.1L63.1 -0.5L63.5 -0.0L63.5 0ZM62.8 0L63.3 -0.6L63.6 -0.0L64.2 -0.7L64.5 -0.2L65.1 -0.5L65.3 -0.2L65.9 -0.3L66.2 -0.0L66.2 0ZM62.6 0L62.8 -1.2L63.4 -0.2L63.7 -0.9L64.2 -0.0L64.5 -0.8L65.1 -0.0L65.5 -0.7L65.9 -0.1L65.9 0ZM66.2 0L66.7 -1.2L67.0 -0.5L67.5 -0.6L67.8 -0.0L68.2 -0.8L68.6 -0.2L69.0 -1.4L69.4 -0.2L69.4 0ZM60.2 0L60.7 -0.5L61.3 -0.1L61.8 -1.1L62.4 -0.1L62.4 0ZM54.4 0L55.0 -0.6L55.4 -0.2L55.9 -0.8L56.4 -0.4L56.8 -0.8L57.4 -0.4L57.4 0ZM49.5 0L49.9 -0.8L50.3 -0.0L50.7 -0.6L51.1 -0.2L51.6 -1.4L51.9 -0.7L52.4 -0.6L52.7 -0.3L52.7 0ZM50.5 0L50.9 -0.7L51.4 -0.1L51.8 -1.2L52.4 -0.4L52.7 -1.1L53.3 -0.4L53.3 0ZM40.3 0L40.6 -0.5L41.1 -0.2L41.4 -1.4L41.9 -0.3L41.9 0ZM43.1 0L43.8 -1.3L44.4 -0.1L44.4 0ZM20.7 0L21.0 -0.7L21.5 -0.2L21.5 0ZM47.1 0L47.5 -0.6L47.9 -0.0L48.4 -0.5L48.7 -0.1L48.7 0ZM75.9 0L76.2 -0.7L76.8 -0.1L76.8 0ZM10.2 0L10.7 -1.4L11.3 -0.3L11.3 0ZM19.9 0L20.4 -1.2L20.9 0ZM18.5 0L19.0 -1.1L19.5 0ZM66.0 0L66.5 -1.2L67.0 0ZM62.7 0L63.2 -2.7L63.7 0ZM26.7 0L27.2 -2.9L27.7 0ZM10.3 0L10.8 -2.7L11.3 0ZM42.7 0L43.2 -2.3L43.7 0ZM46.6 0L47.1 -1.7L47.6 0Z"/>
<path id="ttan17" d="M60.5 0V-1.4M61.4 0V-1.9M62.2 0V-1.6M63.1 0V-1.8M63.3 0V-2.1M64.2 0V-2.3M65.1 0V-1.2M65.9 0V-1.3M62.8 0V-2.9M63.7 0V-3.2M64.5 0V-2.9M65.5 0V-2.6M66.7 0V-2.9M67.5 0V-2.3M68.2 0V-2.0M69.0 0V-3.0M60.7 0V-1.5M61.8 0V-2.1M55.0 0V-2.1M55.9 0V-2.6M56.8 0V-1.5M49.9 0V-2.3M50.7 0V-2.0M51.6 0V-2.7M52.4 0V-2.4M50.9 0V-2.7M51.8 0V-4.1M52.7 0V-3.8M40.6 0V-1.6M41.4 0V-3.1M43.8 0V-3.9M21.0 0V-1.5M47.5 0V-1.4M48.4 0V-1.1M76.2 0V-1.6M10.7 0V-3.9"/>
<path id="tta18" d="M13.6 0L14.1 -1.4L14.6 0ZM40.7 0L41.2 -1.6L41.7 0ZM64.0 0L64.5 -1.2L65.0 0ZM49.0 0L49.5 -1.0L50.0 0ZM26.6 0L27.1 -1.1L27.6 0ZM76.6 0L77.1 -1.2L77.6 0ZM35.4 0L35.9 -1.2L36.4 0ZM31.5 0L32.0 -0.9L32.5 0ZM32.8 0L33.3 -0.9L33.8 0ZM70.2 0L70.7 -1.7L71.2 0ZM35.4 0L35.9 -1.4L36.4 0ZM24.6 0L25.1 -1.7L25.6 0ZM38.7 0L39.2 -1.6L39.7 0ZM53.4 0L53.9 -1.4L54.4 0ZM73.1 0L73.6 -1.3L74.1 0ZM59.6 0L60.1 -1.6L60.6 0ZM3.0 0L3.5 -1.1L4.0 0ZM7.5 0L8.0 -1.3L8.5 0ZM3.5 0L4.0 -1.7L4.5 0ZM73.0 0L73.5 -1.2L74.0 0ZM65.2 0L65.7 -0.8L66.2 0ZM77.2 0L77.7 -1.3L78.2 0ZM77.1 0L77.4 -1.0L78.0 -0.3L78.4 -1.7L78.8 -0.0L79.3 -1.3L79.7 -0.3L79.7 0ZM76.9 0L77.3 -0.5L77.7 -0.2L78.1 -0.7L78.6 -0.2L78.9 -0.8L79.4 -0.3L79.7 -0.9L80.2 -0.4L80.2 0ZM79.0 0L79.4 -2.0L79.9 -0.2L80.5 -0.7L80.9 -0.2L80.9 0ZM64.9 0L65.4 -0.5L66.0 -0.1L66.4 -0.9L67.1 -0.1L67.1 0ZM53.0 0L53.6 -0.9L53.9 -0.2L54.2 -2.2L54.8 -1.1L55.1 -1.0L55.6 -0.1L55.6 0ZM14.1 0L14.6 -0.6L15.1 -0.0L15.1 0ZM39.9 0L40.7 -0.7L41.4 -0.2L41.4 0ZM14.2 0L14.4 -1.1L14.8 -0.1L14.8 0ZM82.3 0L82.7 -0.6L83.3 -0.3L83.3 0ZM64.5 0L65.0 -2.9L65.5 0ZM73.3 0L73.8 -1.9L74.3 0ZM11.0 0L11.5 -2.9L12.0 0ZM22.9 0L23.4 -2.8L23.9 0ZM5.2 0L5.7 -2.4L6.2 0ZM69.7 0L70.2 -1.4L70.7 0ZM86.7 0L87.2 -2.8L87.7 0ZM15.2 0L15.7 -1.0L16.2 0ZM58.7 0L59.2 -1.2L59.7 0ZM30.0 0L30.5 -1.6L31.0 0ZM23.3 0L23.8 -1.4L24.3 0ZM33.3 0L33.8 -1.2L34.3 0ZM73.4 0L73.9 -1.2L74.4 0Z"/>
<path id="ttan18" d="M77.4 0V-3.1M78.4 0V-4.3M79.3 0V-3.6M77.3 0V-1.9M78.1 0V-1.5M78.9 0V-1.7M79.7 0V-2.1M79.4 0V-4.2M80.5 0V-2.8M65.4 0V-2.0M66.4 0V-2.3M53.6 0V-2.8M54.2 0V-4.6M55.1 0V-2.0M14.6 0V-2.4M40.7 0V-2.4M14.4 0V-2.4M82.7 0V-1.2"/>
<path id="tta19" d="M51.0 0L51.5 -1.2L52.0 0ZM8.5 0L9.0 -1.7L9.5 0ZM70.7 0L71.2 -1.7L71.7 0ZM72.2 0L72.7 -1.1L73.2 0ZM3.7 0L4.2 -1.3L4.7 0ZM83.1 0L83.6 -1.7L84.1 0ZM24.8 0L25.3 -1.2L25.8 0ZM30.5 0L31.0 -0.9L31.5 0ZM79.5 0L80.0 -1.1L80.5 0ZM12.5 0L13.0 -0.9L13.5 0ZM62.2 0L62.7 -1.7L63.2 0ZM72.4 0L72.7 -0.4L73.2 -0.1L73.7 -1.0L74.0 -0.5L74.4 -1.6L74.8 -0.2L75.3 -0.9L75.7 -0.3L75.7 0ZM74.7 0L75.2 -0.8L75.5 -0.4L76.0 -0.9L76.3 -0.2L76.6 -0.8L77.1 -0.2L77.1 0ZM65.4 0L66.0 -1.2L66.5 -0.0L67.0 -1.0L67.5 -0.0L67.9 -1.3L68.5 -0.5L68.5 0ZM75.6 0L76.0 -1.1L76.7 -0.3L77.1 -1.4L77.7 -0.0L77.7 0ZM70.9 0L71.4 -1.3L71.8 -0.3L72.2 -1.1L72.7 -0.3L73.1 -0.8L73.6 -0.3L73.6 0ZM64.8 0L65.4 -1.0L65.7 -0.0L66.1 -1.4L66.5 -0.3L66.9 -1.7L67.4 -0.7L67.7 -0.7L68.2 -0.1L68.2 0ZM51.2 0L52.0 -1.3L52.4 -0.5L52.4 0ZM50.2 0L51.0 -0.9L51.5 -0.2L51.5 0ZM71.9 0L72.5 -1.3L73.0 -0.3L73.0 0ZM24.1 0L24.4 -0.9L24.8 -0.3L24.8 0ZM54.5 0L55.1 -0.5L55.4 -0.2L56.0 -0.4L56.3 -0.0L56.3 0ZM51.6 0L52.5 -0.9L53.2 -0.2L53.2 0ZM51.2 0L51.7 -2.7L52.2 0ZM31.5 0L32.0 -2.9L32.5 0ZM12.4 0L12.9 -1.4L13.4 0ZM85.6 0L86.1 -2.8L86.6 0ZM55.9 0L56.4 -2.4L56.9 0ZM71.2 0L71.7 -2.4L72.2 0ZM6.5 0L7.0 -1.2L7.5 0ZM21.3 0L21.8 -1.4L22.3 0ZM53.9 0L54.4 -2.0L54.9 0ZM62.4 0L62.9 -1.7L63.4 0ZM17.1 0L17.6 -2.8L18.1 0ZM3.5 0L4.0 -2.2L4.5 0ZM8.4 0L8.9 -2.9L9.4 0ZM55.4 0L55.9 -2.6L56.4 0ZM8.7 0L9.2 -2.9L9.7 0ZM45.3 0L45.8 -1.9L46.3 0ZM7.3 0L7.8 -2.2L8.3 0ZM-0.3 0L0.2 -1.3L0.7 0Z"/>
<path id="ttan19" d="M72.7 0V-1.4M73.7 0V-2.6M74.4 0V-3.8M75.3 0V-2.1M75.2 0V-2.5M76.0 0V-2.7M76.6 0V-2.9M66.0 0V-3.6M67.0 0V-2.5M67.9 0V-2.7M76.0 0V-2.8M77.1 0V-4.6M71.4 0V-3.1M72.2 0V-3.9M73.1 0V-2.6M65.4 0V-2.5M66.1 0V-4.6M66.9 0V-3.7M67.7 0V-2.5M52.0 0V-3.2M51.0 0V-2.8M72.5 0V-2.6M24.4 0V-2.1M55.1 0V-1.1M56.0 0V-1.4M52.5 0V-2.2"/>
<path id="tta20" d="M75.7 0L76.2 -1.4L76.7 0ZM63.5 0L64.0 -1.4L64.5 0ZM11.8 0L12.3 -1.6L12.8 0ZM71.7 0L72.2 -1.0L72.7 0ZM10.2 0L10.7 -1.1L11.2 0ZM60.3 0L60.8 -0.8L61.3 0ZM42.1 0L42.6 -1.2L43.1 0ZM83.4 0L83.9 -1.0L84.4 0ZM81.9 0L82.4 -1.8L82.9 0ZM82.1 0L82.6 -1.5L83.1 0ZM74.4 0L74.9 -1.6L75.4 0ZM37.2 0L37.7 -1.8L38.2 0ZM78.1 0L78.6 -1.0L79.2 -0.4L79.7 -0.8L80.2 -0.4L80.8 -1.3L81.3 -0.3L81.3 0ZM68.6 0L69.1 -0.6L69.5 -0.2L69.8 -0.9L70.4 -0.4L70.9 -1.0L71.2 -0.5L71.8 -0.6L72.1 -0.2L72.1 0ZM78.2 0L78.7 -0.6L79.2 -0.2L79.6 -1.2L80.3 -0.3L80.3 0ZM63.2 0L63.8 -0.6L64.1 -0.1L64.4 -2.2L64.9 -0.9L65.3 -1.6L65.8 -0.8L65.8 0ZM73.6 0L74.0 -0.8L74.5 -0.2L75.0 -1.1L75.4 -0.5L75.8 -1.3L76.3 -0.4L76.3 0ZM75.9 0L76.3 -0.4L76.8 -0.1L77.2 -0.5L77.7 -0.1L78.1 -1.2L78.6 -0.6L79.0 -0.5L79.5 -0.0L79.5 0ZM78.3 0L78.9 -0.8L79.2 -0.1L79.7 -1.1L80.1 -0.3L80.6 -1.1L81.0 -0.3L81.0 0ZM47.9 0L48.4 -0.9L48.9 -0.1L49.3 -1.6L49.9 -0.8L50.4 -1.4L51.0 -0.3L51.0 0ZM46.6 0L46.9 -0.4L47.4 -0.1L48.0 -1.0L48.3 -0.3L48.6 -0.7L49.1 -0.2L49.1 0ZM20.6 0L20.9 -0.5L21.4 -0.1L21.7 -1.2L22.2 -0.5L22.5 -0.7L23.0 -0.0L23.4 -0.4L23.8 -0.1L23.8 0ZM23.4 0L23.7 -1.0L24.3 -0.3L24.9 -2.0L25.2 -0.2L25.5 -2.1L26.0 -0.2L26.4 -0.8L26.9 -0.0L26.9 0ZM10.5 0L11.0 -1.0L11.4 -0.1L11.8 -0.8L12.3 -0.2L12.7 -1.1L13.2 -0.2L13.7 -0.8L14.1 -0.4L14.1 0ZM14.1 0L14.5 -1.0L15.2 -0.3L15.6 -0.7L16.2 -0.0L16.7 -0.9L17.3 -0.3L17.3 0ZM12.9 0L13.3 -1.0L14.0 -0.5L14.5 -0.9L15.2 -0.4L15.2 0ZM44.3 0L44.9 -0.6L45.2 -0.3L45.7 -0.8L46.0 -0.1L46.0 0ZM30.0 0L30.8 -0.8L31.4 -0.0L31.4 0ZM78.8 0L79.2 -1.0L79.9 -0.1L79.9 0ZM72.1 0L72.7 -1.0L73.6 -0.4L73.6 0ZM70.6 0L71.4 -1.0L71.9 -0.2L71.9 0ZM13.8 0L14.4 -1.2L15.0 -0.1L15.0 0ZM58.6 0L59.1 -0.6L59.5 -0.0L60.0 -0.8L60.3 -0.3L60.3 0ZM11.0 0L11.4 -0.6L11.9 -0.2L12.4 -0.5L12.7 -0.2L12.7 0ZM29.3 0L29.8 -0.5L30.2 -0.2L30.7 -1.0L31.1 -0.1L31.1 0ZM32.3 0L32.8 -1.0L33.3 0ZM20.4 0L20.9 -1.3L21.4 0ZM39.2 0L39.7 -2.4L40.2 0ZM59.5 0L60.0 -1.0L60.5 0ZM50.5 0L51.0 -2.6L51.5 0Z"/>
<path id="ttan20" d="M78.6 0V-2.1M79.7 0V-2.4M80.8 0V-3.2M69.1 0V-2.0M69.8 0V-1.9M70.9 0V-2.4M71.8 0V-1.1M78.7 0V-2.2M79.6 0V-2.5M63.8 0V-1.7M64.4 0V-4.5M65.3 0V-3.5M74.0 0V-2.3M75.0 0V-3.2M75.8 0V-2.8M76.3 0V-1.4M77.2 0V-1.7M78.1 0V-3.1M79.0 0V-1.1M78.9 0V-2.0M79.7 0V-3.2M80.6 0V-3.2M48.4 0V-2.0M49.3 0V-4.7M50.4 0V-3.5M46.9 0V-1.6M48.0 0V-2.2M48.6 0V-1.9M20.9 0V-1.4M21.7 0V-2.5M22.5 0V-2.4M23.4 0V-1.2M23.7 0V-2.6M24.9 0V-4.1M25.5 0V-4.4M26.4 0V-2.7M11.0 0V-2.2M11.8 0V-2.6M12.7 0V-3.3M13.7 0V-2.8M14.5 0V-2.2M15.6 0V-2.6M16.7 0V-2.4M13.3 0V-3.2M14.5 0V-2.3M44.9 0V-1.6M45.7 0V-1.8M30.8 0V-2.6M79.2 0V-2.2M72.7 0V-2.3M71.4 0V-2.6M14.4 0V-3.2M59.1 0V-2.1M60.0 0V-2.2M11.4 0V-1.2M12.4 0V-1.3M29.8 0V-2.1M30.7 0V-2.2"/>
<path id="tta21" d="M42.1 0L42.6 -1.7L43.1 0ZM37.4 0L37.9 -1.8L38.4 0ZM4.8 0L5.3 -1.6L5.8 0ZM79.9 0L80.4 -1.2L80.9 0ZM24.7 0L25.2 -0.9L25.7 0ZM54.3 0L54.8 -1.6L55.3 0ZM25.8 0L26.3 -1.2L26.8 0ZM63.8 0L64.3 -1.1L64.8 0ZM54.6 0L55.1 -1.2L55.6 0ZM19.5 0L20.0 -0.9L20.5 0ZM19.4 0L19.9 -1.1L20.4 0ZM59.0 0L59.5 -0.9L60.0 0ZM48.6 0L49.1 -1.2L49.6 0ZM70.1 0L70.8 -1.2L71.1 -0.2L71.7 -0.9L72.2 -0.3L72.2 0ZM69.1 0L69.4 -0.6L69.9 -0.2L70.4 -1.5L70.7 -0.6L71.0 -0.9L71.5 -0.4L71.5 0ZM69.2 0L70.0 -1.0L70.7 -0.5L70.7 0ZM66.4 0L66.8 -1.0L67.2 -0.4L67.6 -1.1L68.1 -0.5L68.1 0ZM69.5 0L69.8 -0.8L70.3 -0.2L70.7 -1.2L71.1 -0.6L71.6 -0.7L71.9 -0.1L71.9 0ZM48.2 0L48.7 -0.7L49.2 -0.0L49.7 -0.8L50.2 -0.2L50.2 0ZM26.0 0L26.3 -0.7L26.9 -0.2L27.3 -0.9L27.8 -0.3L27.8 0ZM27.9 0L28.2 -1.0L28.8 -0.1L29.2 -1.3L29.6 -0.1L30.1 -0.7L30.5 -0.0L30.5 0ZM23.4 0L23.8 -0.3L24.4 -0.1L24.8 -1.1L25.4 -0.4L25.8 -0.5L26.4 -0.1L26.4 0ZM26.1 0L26.7 -0.9L27.3 -0.0L27.8 -0.7L28.4 -0.1L28.4 0ZM16.6 0L17.0 -0.9L17.5 -0.3L18.1 -1.1L18.4 -0.1L18.8 -2.2L19.3 -1.0L19.6 -0.6L20.2 -0.2L20.2 0ZM60.9 0L61.2 -1.3L61.5 -0.3L61.5 0ZM9.3 0L9.9 -1.4L10.4 -0.1L10.4 0ZM27.2 0L28.0 -0.8L28.6 -0.2L28.6 0ZM36.4 0L36.6 -0.7L37.0 -0.1L37.0 0ZM12.1 0L12.4 -0.4L13.0 -0.1L13.4 -0.6L13.8 -0.0L13.8 0ZM78.5 0L79.4 -1.0L80.1 -0.0L80.1 0ZM49.8 0L50.5 -0.8L51.3 -0.2L51.3 0ZM7.6 0L8.1 -2.9L8.6 0ZM31.4 0L31.9 -3.0L32.4 0ZM56.9 0L57.4 -2.7L57.9 0ZM77.6 0L78.1 -2.4L78.6 0ZM52.7 0L53.2 -1.7L53.7 0ZM24.2 0L24.7 -2.9L25.2 0ZM4.0 0L4.5 -2.3L5.0 0ZM34.1 0L34.6 -2.6L35.1 0ZM62.4 0L62.9 -2.3L63.4 0ZM25.5 0L26.0 -1.1L26.5 0Z"/>
<path id="ttan21" d="M70.8 0V-3.1M71.7 0V-3.1M69.4 0V-1.4M70.4 0V-3.3M71.0 0V-2.2M70.0 0V-2.6M66.8 0V-2.0M67.6 0V-3.4M69.8 0V-2.5M70.7 0V-3.6M71.6 0V-2.7M48.7 0V-2.1M49.7 0V-2.1M26.3 0V-2.3M27.3 0V-2.3M28.2 0V-2.4M29.2 0V-3.6M30.1 0V-1.7M23.8 0V-1.1M24.8 0V-2.7M25.8 0V-1.2M26.7 0V-2.1M27.8 0V-2.0M17.0 0V-3.4M18.1 0V-2.5M18.8 0V-4.6M19.6 0V-1.8M61.2 0V-2.6M9.9 0V-3.4M28.0 0V-2.6M36.6 0V-1.6M12.4 0V-1.7M13.4 0V-2.1M79.4 0V-2.3M50.5 0V-1.7"/>
<path id="tta22" d="M78.4 0L78.9 -1.8L79.4 0ZM56.9 0L57.4 -1.3L57.9 0ZM61.0 0L61.5 -0.9L62.0 0ZM61.5 0L62.0 -1.4L62.5 0ZM20.4 0L20.9 -1.5L21.4 0ZM84.1 0L84.6 -0.9L85.1 0ZM49.5 0L50.0 -1.4L50.5 0ZM13.6 0L14.1 -1.6L14.6 0ZM53.4 0L53.9 -1.0L54.4 0ZM82.7 0L83.2 -1.0L83.7 0ZM51.1 0L51.6 -1.2L52.1 0ZM13.3 0L13.8 -0.8L14.3 0ZM61.1 0L61.6 -0.8L62.1 0ZM67.1 0L67.6 -1.3L68.1 0ZM55.5 0L56.0 -1.0L56.5 0ZM51.7 0L52.2 -1.7L52.7 0ZM71.4 0L71.7 -0.8L72.3 -0.3L72.9 -1.5L73.3 -0.7L73.6 -0.9L74.3 -0.4L74.3 0ZM80.1 0L80.7 -1.0L81.2 -0.4L81.9 -0.7L82.3 -0.3L82.3 0ZM55.5 0L55.9 -0.7L56.5 -0.1L57.0 -1.0L57.5 -0.3L58.0 -0.7L58.5 -0.2L58.5 0ZM54.0 0L54.6 -1.1L55.1 -0.1L55.7 -0.5L56.1 -0.2L56.1 0ZM25.8 0L26.5 -1.5L27.3 -0.2L27.3 0ZM25.5 0L26.2 -0.9L27.0 -0.0L27.0 0ZM20.0 0L20.5 -0.6L20.9 -0.3L21.4 -0.7L21.7 -0.0L22.1 -0.8L22.5 -0.3L22.5 0ZM22.0 0L22.4 -1.3L22.9 -0.1L23.3 -0.6L23.9 -0.3L23.9 0ZM17.7 0L18.4 -2.1L19.2 -0.7L19.2 0ZM23.6 0L24.1 -0.8L24.5 -0.3L25.1 -0.6L25.4 -0.1L25.9 -0.6L26.3 -0.2L26.7 -0.6L27.2 -0.2L27.2 0ZM19.3 0L19.7 -1.5L20.2 -0.7L20.5 -1.5L21.1 -0.7L21.7 -0.9L22.0 -0.1L22.0 0ZM73.7 0L74.4 -0.7L75.2 -0.1L75.2 0ZM56.3 0L56.7 -1.0L57.0 -0.2L57.0 0ZM11.9 0L12.6 -1.1L13.3 -0.1L13.3 0ZM81.6 0L82.4 -0.7L83.1 -0.3L83.1 0ZM11.4 0L12.0 -0.7L12.4 -0.3L12.4 0ZM80.0 0L80.4 -1.8L80.9 -0.6L81.3 -0.7L81.8 -0.3L81.8 0ZM45.1 0L45.6 -1.5L46.4 -0.5L46.4 0ZM7.8 0L8.6 -1.3L9.3 -0.4L9.3 0ZM26.2 0L26.7 -2.3L27.2 0ZM20.0 0L20.5 -2.2L21.0 0ZM18.7 0L19.2 -2.0L19.7 0ZM26.6 0L27.1 -2.1L27.6 0ZM18.9 0L19.4 -1.7L19.9 0Z"/>
<path id="ttan22" d="M71.7 0V-2.3M72.9 0V-3.3M73.6 0V-2.9M80.7 0V-2.1M81.9 0V-2.1M55.9 0V-1.5M57.0 0V-3.6M58.0 0V-1.5M54.6 0V-2.3M55.7 0V-1.2M26.5 0V-3.4M26.2 0V-2.7M20.5 0V-1.9M21.4 0V-1.7M22.1 0V-2.3M22.4 0V-2.9M23.3 0V-2.0M18.4 0V-4.7M24.1 0V-1.9M25.1 0V-2.1M25.9 0V-2.2M26.7 0V-1.2M19.7 0V-3.5M20.5 0V-3.3M21.7 0V-3.4M74.4 0V-2.2M56.7 0V-2.6M12.6 0V-2.4M82.4 0V-1.8M12.0 0V-2.0M80.4 0V-3.9M81.3 0V-2.6M45.6 0V-3.7M8.6 0V-2.9"/>
<path id="tta23" d="M34.5 0L35.0 -1.6L35.5 0ZM39.1 0L39.6 -0.9L40.1 0ZM42.9 0L43.4 -1.5L43.9 0ZM32.1 0L32.6 -1.3L33.1 0ZM67.4 0L67.9 -1.1L68.4 0ZM74.7 0L75.2 -1.1L75.7 0ZM38.8 0L39.3 -1.2L39.8 0ZM25.0 0L25.5 -1.6L26.0 0ZM56.3 0L56.8 -1.3L57.3 0ZM20.7 0L21.2 -1.2L21.7 0ZM71.1 0L71.6 -1.1L72.1 0ZM45.5 0L46.0 -1.0L46.5 0ZM40.0 0L40.5 -1.2L41.0 0ZM63.7 0L64.2 -0.8L64.7 0ZM69.6 0L70.1 -1.2L70.6 0ZM66.0 0L66.5 -1.1L67.0 0ZM29.3 0L29.8 -1.7L30.3 0ZM51.9 0L52.4 -1.2L52.9 0ZM44.2 0L44.7 -1.2L45.2 0ZM77.3 0L77.8 -1.7L78.2 -0.3L78.6 -1.1L79.0 -0.4L79.0 0ZM72.2 0L72.8 -0.7L73.6 -0.3L73.6 0ZM47.9 0L48.3 -0.6L49.0 -0.1L49.5 -1.3L50.1 -0.1L50.1 0ZM18.6 0L19.1 -0.5L19.6 -0.1L20.0 -2.0L20.7 -0.6L20.7 0ZM25.8 0L26.2 -1.2L26.7 -0.2L27.2 -1.4L27.5 -0.7L27.8 -0.7L28.3 -0.2L28.3 0ZM28.1 0L28.7 -0.5L29.1 -0.1L29.5 -1.0L30.0 -0.3L30.4 -0.8L30.9 -0.0L30.9 0ZM22.9 0L23.4 -0.6L23.8 -0.1L24.1 -0.8L24.6 -0.4L25.0 -0.6L25.5 -0.2L26.0 -0.5L26.3 -0.2L26.3 0ZM17.2 0L17.6 -0.7L18.1 -0.1L18.3 -1.1L18.9 -0.0L18.9 0ZM67.2 0L67.7 -0.8L68.1 -0.1L68.1 0ZM5.4 0L5.6 -0.4L5.9 -0.1L5.9 0ZM21.8 0L22.1 -1.0L22.6 -0.4L22.6 0ZM1.2 0L1.7 -1.1L2.1 -0.4L2.3 -0.8L2.9 -0.3L2.9 0ZM70.6 0L71.0 -1.1L71.4 -0.0L71.4 0ZM78.6 0L79.3 -0.9L80.1 -0.4L80.1 0ZM44.2 0L44.7 -2.7L45.2 0ZM26.7 0L27.2 -1.1L27.7 0ZM40.8 0L41.3 -1.4L41.8 0ZM48.5 0L49.0 -1.1L49.5 0ZM-0.3 0L0.2 -2.9L0.7 0Z"/>
<path id="ttan23" d="M77.8 0V-3.6M78.6 0V-3.4M72.8 0V-2.2M48.3 0V-1.8M49.5 0V-3.7M19.1 0V-1.7M20.0 0V-4.2M26.2 0V-2.7M27.2 0V-3.6M27.8 0V-2.1M28.7 0V-1.8M29.5 0V-3.0M30.4 0V-1.8M23.4 0V-1.9M24.1 0V-2.3M25.0 0V-2.3M26.0 0V-1.8M17.6 0V-1.5M18.3 0V-2.6M67.7 0V-2.0M5.6 0V-1.3M22.1 0V-3.5M1.7 0V-2.4M2.3 0V-2.3M71.0 0V-2.6M79.3 0V-2.4"/>
<path id="tta24" d="M72.4 0L72.9 -1.8L73.4 0ZM87.3 0L87.8 -1.7L88.3 0ZM39.8 0L40.3 -1.3L40.8 0ZM87.1 0L87.6 -1.7L88.1 0ZM57.5 0L58.0 -1.5L58.5 0ZM1.6 0L2.1 -1.0L2.6 0ZM46.5 0L47.0 -1.1L47.5 0ZM0.7 0L1.2 -1.1L1.7 0ZM44.1 0L44.6 -1.2L45.1 0ZM51.9 0L52.4 -1.0L52.9 0ZM83.3 0L83.8 -0.9L84.3 0ZM61.7 0L62.2 -1.0L62.7 0ZM81.8 0L82.3 -1.1L82.8 0ZM49.9 0L50.4 -1.7L50.9 0ZM77.3 0L78.0 -1.7L78.5 -0.3L78.5 0ZM79.9 0L80.3 -0.5L80.8 -0.1L81.4 -0.5L81.8 -0.1L81.8 0ZM79.8 0L80.4 -0.9L80.7 -0.4L81.2 -0.8L81.5 -0.2L81.5 0ZM52.2 0L52.7 -1.6L53.1 -0.2L53.5 -0.9L54.0 -0.0L54.5 -0.6L54.9 -0.1L54.9 0ZM18.3 0L18.7 -0.6L19.3 -0.1L19.9 -0.7L20.3 -0.0L20.9 -0.4L21.3 -0.1L21.3 0ZM23.8 0L24.2 -0.5L24.9 -0.2L25.6 -0.6L26.1 -0.1L26.1 0ZM11.5 0L12.3 -0.8L12.9 -0.0L12.9 0ZM55.4 0L56.1 -0.8L56.9 -0.0L56.9 0ZM5.2 0L5.3 -0.4L5.6 -0.0L5.6 0ZM58.5 0L59.0 -1.4L59.7 -0.6L59.7 0ZM19.6 0L20.4 -0.5L21.0 -0.1L21.0 0ZM25.0 0L25.5 -1.1L26.0 0ZM44.1 0L44.6 -1.6L45.1 0ZM76.7 0L77.2 -2.6L77.7 0ZM11.1 0L11.6 -2.8L12.1 0ZM35.5 0L36.0 -2.3L36.5 0ZM70.5 0L71.0 -2.4L71.5 0ZM63.1 0L63.6 -2.1L64.1 0ZM75.5 0L76.0 -2.8L76.5 0Z"/>
<path id="ttan24" d="M78.0 0V-3.8M80.3 0V-1.8M81.4 0V-1.1M80.4 0V-2.7M81.2 0V-2.0M52.7 0V-3.4M53.5 0V-3.1M54.5 0V-1.6M18.7 0V-2.0M19.9 0V-2.3M20.9 0V-1.4M24.2 0V-1.8M25.6 0V-1.8M12.3 0V-2.1M56.1 0V-2.2M5.3 0V-1.7M59.0 0V-2.9M20.4 0V-0.9"/>
<path id="tta25" d="M87.1 0L87.6 -1.7L88.1 0ZM24.8 0L25.3 -1.1L25.8 0ZM0.7 0L1.2 -1.0L1.7 0ZM75.0 0L75.5 -1.3L76.0 0ZM8.4 0L8.9 -1.1L9.4 0ZM70.3 0L70.8 -1.8L71.3 0ZM63.8 0L64.3 -1.5L64.8 0ZM34.9 0L35.4 -1.3L35.9 0ZM65.1 0L65.6 -1.8L66.1 0ZM61.0 0L61.5 -1.4L62.0 0ZM69.0 0L69.5 -1.4L70.0 0ZM75.6 0L76.3 -0.4L76.7 -0.1L77.4 -0.6L77.9 -0.2L77.9 0ZM80.2 0L80.6 -0.7L81.1 -0.1L81.4 -1.0L82.0 -0.0L82.5 -1.3L82.9 -0.4L82.9 0ZM71.5 0L71.8 -0.7L72.4 -0.1L72.9 -0.6L73.3 -0.1L73.3 0ZM71.9 0L72.4 -0.5L72.9 -0.2L73.3 -0.9L73.8 -0.4L74.2 -0.8L74.8 -0.0L74.8 0ZM54.0 0L54.4 -1.0L55.1 -0.4L55.6 -1.4L56.3 -0.2L56.3 0ZM52.9 0L53.3 -0.9L53.8 -0.1L54.4 -0.9L54.8 -0.3L55.1 -0.9L55.7 -0.3L55.7 0ZM48.5 0L49.1 -1.0L49.4 -0.4L50.0 -1.2L50.4 -0.1L50.9 -0.8L51.4 -0.1L51.4 0ZM25.8 0L26.2 -0.8L26.7 -0.1L27.0 -0.9L27.6 -0.0L27.9 -1.1L28.5 -0.2L29.1 -0.6L29.4 -0.3L29.4 0ZM22.2 0L22.7 -1.0L23.4 -0.1L24.0 -0.6L24.5 -0.2L24.5 0ZM18.5 0L19.0 -0.7L19.6 -0.3L20.2 -1.0L20.6 -0.4L20.6 0ZM25.2 0L25.9 -1.0L26.6 -0.1L26.6 0ZM77.8 0L78.0 -1.0L78.4 -0.3L78.4 0ZM7.9 0L8.3 -0.6L8.5 -0.1L8.5 0ZM2.0 0L2.7 -0.8L3.5 -0.3L3.5 0ZM86.3 0L87.1 -0.4L87.6 -0.0L87.6 0ZM30.8 0L31.5 -0.9L31.9 -0.2L31.9 0ZM65.1 0L65.6 -2.8L66.1 0ZM14.3 0L14.8 -1.9L15.3 0ZM77.5 0L78.0 -1.0L78.5 0ZM5.1 0L5.6 -1.1L6.1 0ZM66.7 0L67.2 -2.3L67.7 0ZM6.1 0L6.6 -1.1L7.1 0Z"/>
<path id="ttan25" d="M76.3 0V-1.4M77.4 0V-1.5M80.6 0V-2.8M81.4 0V-2.3M82.5 0V-3.4M71.8 0V-1.8M72.9 0V-1.3M72.4 0V-1.2M73.3 0V-2.4M74.2 0V-1.9M54.4 0V-2.9M55.6 0V-3.2M53.3 0V-1.9M54.4 0V-2.3M55.1 0V-3.2M49.1 0V-2.5M50.0 0V-3.0M50.9 0V-2.7M26.2 0V-2.1M27.0 0V-2.3M27.9 0V-3.4M29.1 0V-2.4M22.7 0V-2.7M24.0 0V-1.9M19.0 0V-1.7M20.2 0V-2.0M25.9 0V-3.3M78.0 0V-2.4M8.3 0V-1.7M2.7 0V-2.1M87.1 0V-1.2M31.5 0V-2.0"/>
<path id="tta26" d="M81.8 0L82.3 -0.8L82.8 0ZM83.5 0L84.0 -0.9L84.5 0ZM26.7 0L27.2 -1.3L27.7 0ZM34.5 0L35.0 -1.6L35.5 0ZM55.9 0L56.4 -1.7L56.9 0ZM31.3 0L31.8 -1.1L32.3 0ZM45.6 0L46.1 -1.5L46.6 0ZM4.7 0L5.2 -1.6L5.7 0ZM84.5 0L85.0 -0.9L85.5 0ZM31.2 0L31.7 -1.0L32.2 0ZM33.3 0L33.8 -1.0L34.3 0ZM87.0 0L87.5 -1.8L88.0 0ZM84.9 0L85.4 -1.5L85.9 0ZM34.0 0L34.5 -1.3L35.0 0ZM55.9 0L56.4 -1.1L56.9 0ZM33.6 0L34.1 -1.5L34.6 0ZM60.7 0L61.2 -1.1L61.7 0ZM86.8 0L87.3 -0.8L87.8 0ZM9.1 0L9.6 -1.1L10.1 0ZM30.3 0L30.8 -1.5L31.3 0ZM77.4 0L78.0 -0.7L78.3 -0.1L78.7 -0.4L79.1 -0.0L79.5 -0.4L79.9 -0.2L79.9 0ZM79.9 0L80.5 -0.7L81.0 -0.2L81.6 -0.7L82.2 -0.0L82.2 0ZM76.5 0L76.9 -1.8L77.3 -0.7L77.7 -0.8L78.1 -0.2L78.1 0ZM55.7 0L56.2 -1.1L56.5 -0.5L56.9 -1.0L57.3 -0.5L57.7 -0.7L58.1 -0.1L58.4 -1.0L58.9 -0.3L58.9 0ZM16.4 0L17.1 -0.6L17.5 -0.0L17.9 -1.1L18.5 -0.0L18.5 0ZM14.2 0L14.9 -0.9L15.3 -0.4L16.0 -1.1L16.5 -0.2L16.5 0ZM15.9 0L16.5 -0.4L17.0 -0.1L17.5 -0.8L18.2 -0.1L18.2 0ZM12.9 0L13.4 -1.0L13.7 -0.2L14.0 -0.9L14.6 -0.2L15.0 -0.5L15.4 -0.1L15.8 -0.8L16.2 -0.3L16.2 0ZM14.0 0L14.3 -0.5L14.8 -0.1L15.1 -1.2L15.6 -0.2L15.6 0ZM18.2 0L18.5 -0.7L19.1 -0.1L19.5 -0.8L20.0 -0.3L20.5 -0.8L20.9 -0.3L21.3 -0.7L21.8 -0.3L21.8 0ZM20.7 0L21.3 -0.8L21.8 -0.2L22.4 -0.7L22.8 -0.1L23.5 -0.8L23.9 -0.3L23.9 0ZM13.0 0L13.4 -1.3L14.0 -0.6L14.5 -1.4L14.9 -0.7L15.4 -0.8L15.9 -0.0L15.9 0ZM19.3 0L20.0 -1.5L20.8 -0.2L20.8 0ZM3.1 0L3.8 -0.6L4.4 -0.1L4.4 0ZM38.8 0L39.3 -0.8L40.1 -0.0L40.1 0ZM37.3 0L38.0 -1.1L38.6 -0.4L38.6 0ZM40.9 0L41.6 -1.8L42.5 -0.9L42.5 0ZM63.6 0L64.2 -1.1L64.6 -0.2L64.6 0ZM39.2 0L39.7 -1.4L40.2 0ZM34.4 0L34.9 -2.2L35.4 0ZM17.1 0L17.6 -1.2L18.1 0ZM17.7 0L18.2 -1.2L18.7 0ZM78.5 0L79.0 -1.8L79.5 0ZM64.5 0L65.0 -1.5L65.5 0ZM80.1 0L80.6 -2.8L81.1 0ZM32.5 0L33.0 -2.4L33.5 0ZM38.2 0L38.7 -1.1L39.2 0ZM25.0 0L25.5 -2.2L26.0 0Z"/>
<path id="ttan26" d="M78.0 0V-1.6M78.7 0V-1.5M79.5 0V-1.1M80.5 0V-2.5M81.6 0V-2.3M76.9 0V-3.9M77.7 0V-2.1M56.2 0V-2.3M56.9 0V-3.2M57.7 0V-2.1M58.4 0V-2.8M17.1 0V-1.6M17.9 0V-2.4M14.9 0V-3.1M16.0 0V-3.4M16.5 0V-1.3M17.5 0V-2.6M13.4 0V-2.1M14.0 0V-2.3M15.0 0V-1.5M15.8 0V-2.0M14.3 0V-1.5M15.1 0V-3.0M18.5 0V-2.8M19.5 0V-2.5M20.5 0V-2.0M21.3 0V-3.0M21.3 0V-2.6M22.4 0V-2.6M23.5 0V-2.6M13.4 0V-3.4M14.5 0V-4.3M15.4 0V-2.2M20.0 0V-4.2M3.8 0V-1.8M39.3 0V-1.9M38.0 0V-2.2M41.6 0V-3.8M64.2 0V-3.7"/>
<path id="tta27" d="M8.1 0L8.6 -1.5L9.1 0ZM15.2 0L15.7 -1.2L16.2 0ZM75.5 0L76.0 -1.2L76.5 0ZM2.8 0L3.3 -1.4L3.8 0ZM78.9 0L79.4 -1.1L79.9 0ZM29.4 0L29.9 -1.4L30.4 0ZM42.2 0L42.7 -1.0L43.2 0ZM13.0 0L13.5 -1.6L14.0 0ZM37.4 0L37.9 -1.4L38.4 0ZM32.2 0L32.7 -1.0L33.2 0ZM6.4 0L6.9 -0.9L7.4 0ZM78.4 0L78.9 -1.6L79.4 0ZM38.7 0L39.2 -1.6L39.7 0ZM68.6 0L69.4 -1.3L70.1 -0.2L70.1 0ZM66.3 0L66.8 -0.8L67.1 -0.1L67.6 -0.7L68.0 -0.0L68.5 -0.5L68.9 -0.1L68.9 0ZM66.6 0L67.1 -0.6L67.4 -0.2L67.7 -1.1L68.2 -0.3L68.5 -0.8L69.0 -0.2L69.0 0ZM25.1 0L25.5 -1.5L26.1 -0.4L26.6 -1.3L27.1 -0.4L27.1 0ZM27.0 0L27.5 -0.7L27.8 -0.2L28.1 -2.1L28.7 -0.8L29.2 -1.4L29.5 -0.6L29.5 0ZM18.0 0L18.6 -1.3L19.1 -0.2L19.7 -1.2L20.1 -0.3L20.1 0ZM24.4 0L24.9 -1.1L25.3 -0.3L25.9 -1.6L26.2 -0.4L26.2 0ZM78.5 0L79.2 -1.1L79.8 -0.1L79.8 0ZM13.8 0L14.2 -0.7L14.5 -0.3L14.5 0ZM73.0 0L73.3 -0.7L73.9 -0.3L74.4 -0.7L74.8 -0.1L74.8 0ZM60.7 0L61.4 -0.5L62.2 -0.1L62.2 0ZM67.9 0L68.3 -0.8L68.4 -0.4L68.4 0ZM16.5 0L16.9 -0.6L17.0 -0.1L17.0 0ZM8.0 0L8.3 -0.7L8.6 -0.3L8.6 0ZM84.0 0L84.4 -0.9L84.6 -0.0L84.6 0ZM0.1 0L0.7 -1.4L1.0 -0.2L1.3 -1.3L1.9 -0.7L1.9 0ZM5.8 0L6.3 -3.0L6.8 0ZM26.1 0L26.6 -1.1L27.1 0ZM7.0 0L7.5 -2.2L8.0 0ZM70.6 0L71.1 -2.1L71.6 0ZM24.9 0L25.4 -1.1L25.9 0ZM11.5 0L12.0 -1.6L12.5 0ZM53.8 0L54.3 -1.0L54.8 0ZM18.6 0L19.1 -1.5L19.6 0Z"/>
<path id="ttan27" d="M69.4 0V-3.0M66.8 0V-2.4M67.6 0V-1.8M68.5 0V-1.8M67.1 0V-1.4M67.7 0V-2.9M68.5 0V-2.1M25.5 0V-3.7M26.6 0V-3.7M27.5 0V-2.3M28.1 0V-4.2M29.2 0V-3.0M18.6 0V-3.3M19.7 0V-2.6M24.9 0V-2.2M25.9 0V-3.4M79.2 0V-3.1M14.2 0V-1.4M73.3 0V-2.7M74.4 0V-2.0M61.4 0V-1.7M68.3 0V-2.7M16.9 0V-1.5M8.3 0V-1.8M84.4 0V-3.0M0.7 0V-4.2M1.3 0V-2.8"/>
<path id="tta28" d="M40.8 0L41.3 -1.1L41.8 0ZM79.9 0L80.4 -0.9L80.9 0ZM29.0 0L29.5 -1.2L30.0 0ZM72.6 0L73.1 -1.6L73.6 0ZM25.0 0L25.5 -1.0L26.0 0ZM19.3 0L19.8 -1.8L20.3 0ZM46.1 0L46.6 -1.7L47.1 0ZM13.4 0L13.9 -0.9L14.4 0ZM1.8 0L2.3 -1.7L2.8 0ZM66.7 0L67.2 -1.4L67.7 0ZM58.0 0L58.5 -1.4L59.0 0ZM55.6 0L56.1 -1.1L56.6 0ZM44.7 0L45.2 -1.7L45.7 0ZM8.7 0L9.2 -1.5L9.7 0ZM54.4 0L54.9 -1.4L55.4 0ZM0.4 0L0.9 -1.1L1.4 0ZM49.8 0L50.3 -1.0L50.8 0ZM3.2 0L3.7 -1.3L4.2 0ZM23.4 0L23.9 -1.2L24.4 0ZM4.6 0L5.1 -1.3L5.6 0ZM40.2 0L40.7 -0.8L41.2 0ZM76.2 0L76.7 -1.0L77.1 -0.2L77.5 -0.8L78.0 -0.2L78.4 -0.6L78.8 -0.0L78.8 0ZM76.7 0L77.5 -0.9L78.0 -0.3L78.0 0ZM21.6 0L22.2 -0.6L22.6 -0.3L23.1 -1.0L23.6 -0.5L24.2 -0.7L24.6 -0.1L24.6 0ZM10.8 0L11.5 -1.0L11.9 -0.3L12.4 -1.3L13.0 -0.1L13.0 0ZM21.4 0L21.8 -0.7L22.2 -0.3L22.8 -1.3L23.1 -0.6L23.6 -0.5L23.9 -0.1L24.3 -1.1L24.7 -0.0L24.7 0ZM71.1 0L71.8 -0.7L72.6 -0.0L72.6 0ZM81.7 0L81.9 -0.9L82.3 -0.0L82.3 0ZM37.5 0L38.4 -1.7L39.1 -0.1L39.1 0ZM20.1 0L20.6 -0.4L21.0 -0.0L21.4 -0.9L21.8 -0.1L21.8 0ZM62.7 0L62.9 -1.0L63.3 -0.4L63.3 0ZM19.7 0L20.1 -1.5L20.5 -0.4L21.0 -0.8L21.4 -0.2L21.4 0ZM21.0 0L21.5 -1.1L22.0 0ZM67.9 0L68.4 -1.1L68.9 0ZM48.6 0L49.1 -1.5L49.6 0ZM18.5 0L19.0 -2.0L19.5 0ZM10.6 0L11.1 -2.8L11.6 0ZM21.9 0L22.4 -1.6L22.9 0Z"/>
<path id="ttan28" d="M76.7 0V-2.1M77.5 0V-2.3M78.4 0V-1.7M77.5 0V-1.9M22.2 0V-2.5M23.1 0V-3.0M24.2 0V-1.6M11.5 0V-3.5M12.4 0V-3.4M21.8 0V-1.8M22.8 0V-3.0M23.6 0V-1.8M24.3 0V-2.7M71.8 0V-1.7M81.9 0V-2.7M38.4 0V-4.2M20.6 0V-1.1M21.4 0V-2.0M62.9 0V-2.7M20.1 0V-3.2M21.0 0V-1.9"/></defs>
<text x="-1.2" y="18.8" font-size="26.5" font-weight="normal" text-anchor="start" fill="#000" >a</text>
<text x="386.5" y="19.0" font-size="26.5" font-weight="normal" text-anchor="start" fill="#000" >b</text>
<text x="-1.2" y="254.2" font-size="26.5" font-weight="normal" text-anchor="start" fill="#000" >c</text>
<text x="266.2" y="254.3" font-size="26.5" font-weight="normal" text-anchor="start" fill="#000" >d</text>
<text x="-1.2" y="490.8" font-size="26.5" font-weight="normal" text-anchor="start" fill="#000" >e</text>
<rect x="16.60" y="21.50" width="176.00" height="8.00" fill="#fff" />
<rect x="60.60" y="21.50" width="44.00" height="8.00" fill="#000" />
<rect x="148.60" y="21.50" width="44.00" height="8.00" fill="#000" />
<rect x="16.60" y="29.50" width="176.00" height="175.80" fill="#cbcbcb" />
<rect x="16.60" y="29.50" width="44.00" height="39.07" fill="#fff" />
<rect x="104.60" y="29.50" width="44.00" height="32.56" fill="#fff" />
<line x1="16.60" y1="35.81" x2="192.60" y2="35.81" stroke="#dcdcdc" stroke-width="0.6" />
<line x1="16.60" y1="42.32" x2="192.60" y2="42.32" stroke="#dcdcdc" stroke-width="0.6" />
<line x1="16.60" y1="48.83" x2="192.60" y2="48.83" stroke="#dcdcdc" stroke-width="0.6" />
<line x1="16.60" y1="55.34" x2="192.60" y2="55.34" stroke="#dcdcdc" stroke-width="0.6" />
<line x1="16.60" y1="61.86" x2="192.60" y2="61.86" stroke="#dcdcdc" stroke-width="0.6" />
<line x1="16.60" y1="68.37" x2="192.60" y2="68.37" stroke="#dcdcdc" stroke-width="0.6" />
<line x1="16.60" y1="74.88" x2="192.60" y2="74.88" stroke="#dcdcdc" stroke-width="0.6" />
<line x1="16.60" y1="81.39" x2="192.60" y2="81.39" stroke="#dcdcdc" stroke-width="0.6" />
<line x1="16.60" y1="87.90" x2="192.60" y2="87.90" stroke="#dcdcdc" stroke-width="0.6" />
<line x1="16.60" y1="94.41" x2="192.60" y2="94.41" stroke="#dcdcdc" stroke-width="0.6" />
<line x1="16.60" y1="100.92" x2="192.60" y2="100.92" stroke="#dcdcdc" stroke-width="0.6" />
<line x1="16.60" y1="107.43" x2="192.60" y2="107.43" stroke="#dcdcdc" stroke-width="0.6" />
<line x1="16.60" y1="113.94" x2="192.60" y2="113.94" stroke="#dcdcdc" stroke-width="0.6" />
<line x1="16.60" y1="120.46" x2="192.60" y2="120.46" stroke="#dcdcdc" stroke-width="0.6" />
<line x1="16.60" y1="126.97" x2="192.60" y2="126.97" stroke="#dcdcdc" stroke-width="0.6" />
<line x1="16.60" y1="133.48" x2="192.60" y2="133.48" stroke="#dcdcdc" stroke-width="0.6" />
<line x1="16.60" y1="139.99" x2="192.60" y2="139.99" stroke="#dcdcdc" stroke-width="0.6" />
<line x1="16.60" y1="146.50" x2="192.60" y2="146.50" stroke="#dcdcdc" stroke-width="0.6" />
<line x1="16.60" y1="153.01" x2="192.60" y2="153.01" stroke="#dcdcdc" stroke-width="0.6" />
<line x1="16.60" y1="159.52" x2="192.60" y2="159.52" stroke="#dcdcdc" stroke-width="0.6" />
<line x1="16.60" y1="166.03" x2="192.60" y2="166.03" stroke="#dcdcdc" stroke-width="0.6" />
<line x1="16.60" y1="172.54" x2="192.60" y2="172.54" stroke="#dcdcdc" stroke-width="0.6" />
<line x1="16.60" y1="179.06" x2="192.60" y2="179.06" stroke="#dcdcdc" stroke-width="0.6" />
<line x1="16.60" y1="185.57" x2="192.60" y2="185.57" stroke="#dcdcdc" stroke-width="0.6" />
<line x1="16.60" y1="192.08" x2="192.60" y2="192.08" stroke="#dcdcdc" stroke-width="0.6" />
<line x1="16.60" y1="198.59" x2="192.60" y2="198.59" stroke="#dcdcdc" stroke-width="0.6" />
<g filter="url(#bl)">
<use href="#wt1" x="16.60" y="35.31"/>
<use href="#wt2" x="104.60" y="35.31"/>
<use class="n" href="#wtn1" x="16.60" y="35.31"/>
<use class="n" href="#wtn2" x="104.60" y="35.31"/>
<use href="#wt2" x="16.60" y="41.82"/>
<use href="#wt3" x="104.60" y="41.82"/>
<use class="n" href="#wtn2" x="16.60" y="41.82"/>
<use class="n" href="#wtn3" x="104.60" y="41.82"/>
<use href="#wt3" x="16.60" y="48.33"/>
<use href="#wt4" x="104.60" y="48.33"/>
<use class="n" href="#wtn3" x="16.60" y="48.33"/>
<use class="n" href="#wtn4" x="104.60" y="48.33"/>
<use href="#wt4" x="16.60" y="54.84"/>
<use href="#wt5" x="104.60" y="54.84"/>
<use class="n" href="#wtn4" x="16.60" y="54.84"/>
<use class="n" href="#wtn5" x="104.60" y="54.84"/>
<use href="#wt5" x="16.60" y="61.36"/>
<use href="#wt6" x="104.60" y="61.36"/>
<use class="n" href="#wtn5" x="16.60" y="61.36"/>
<use class="n" href="#wtn6" x="104.60" y="61.36"/>
<use href="#wt6" x="16.60" y="67.87"/>
<use href="#wt7" x="104.60" y="67.87"/>
<use class="n" href="#wtn6" x="16.60" y="67.87"/>
<use class="n" href="#wtn7" x="104.60" y="67.87"/>
<use href="#wt7" x="16.60" y="74.38"/>
<use href="#wt8" x="104.60" y="74.38"/>
<use class="n" href="#wtn7" x="16.60" y="74.38"/>
<use class="n" href="#wtn8" x="104.60" y="74.38"/>
<use href="#wt8" x="16.60" y="80.89"/>
<use href="#wt9" x="104.60" y="80.89"/>
<use class="n" href="#wtn8" x="16.60" y="80.89"/>
<use class="n" href="#wtn9" x="104.60" y="80.89"/>
<use href="#wt9" x="16.60" y="87.40"/>
<use href="#wt10" x="104.60" y="87.40"/>
<use class="n" href="#wtn9" x="16.60" y="87.40"/>
<use class="n" href="#wtn10" x="104.60" y="87.40"/>
<use href="#wt10" x="16.60" y="93.91"/>
<use href="#wt11" x="104.60" y="93.91"/>
<use class="n" href="#wtn10" x="16.60" y="93.91"/>
<use class="n" href="#wtn11" x="104.60" y="93.91"/>
<use href="#wt11" x="16.60" y="100.42"/>
<use href="#wt12" x="104.60" y="100.42"/>
<use class="n" href="#wtn11" x="16.60" y="100.42"/>
<use class="n" href="#wtn12" x="104.60" y="100.42"/>
<use href="#wt12" x="16.60" y="106.93"/>
<use href="#wt13" x="104.60" y="106.93"/>
<use class="n" href="#wtn12" x="16.60" y="106.93"/>
<use class="n" href="#wtn13" x="104.60" y="106.93"/>
<use href="#wt13" x="16.60" y="113.44"/>
<use href="#wt14" x="104.60" y="113.44"/>
<use class="n" href="#wtn13" x="16.60" y="113.44"/>
<use class="n" href="#wtn14" x="104.60" y="113.44"/>
<use href="#wt14" x="16.60" y="119.96"/>
<use href="#wt15" x="104.60" y="119.96"/>
<use class="n" href="#wtn14" x="16.60" y="119.96"/>
<use class="n" href="#wtn15" x="104.60" y="119.96"/>
<use href="#wt15" x="16.60" y="126.47"/>
<use href="#wt16" x="104.60" y="126.47"/>
<use class="n" href="#wtn15" x="16.60" y="126.47"/>
<use class="n" href="#wtn16" x="104.60" y="126.47"/>
<use href="#wt16" x="16.60" y="132.98"/>
<use href="#wt17" x="104.60" y="132.98"/>
<use class="n" href="#wtn16" x="16.60" y="132.98"/>
<use class="n" href="#wtn17" x="104.60" y="132.98"/>
<use href="#wt17" x="16.60" y="139.49"/>
<use href="#wt18" x="104.60" y="139.49"/>
<use class="n" href="#wtn17" x="16.60" y="139.49"/>
<use class="n" href="#wtn18" x="104.60" y="139.49"/>
<use href="#wt18" x="16.60" y="146.00"/>
<use href="#wt19" x="104.60" y="146.00"/>
<use class="n" href="#wtn18" x="16.60" y="146.00"/>
<use class="n" href="#wtn19" x="104.60" y="146.00"/>
<use href="#wt19" x="16.60" y="152.51"/>
<use href="#wt20" x="104.60" y="152.51"/>
<use class="n" href="#wtn19" x="16.60" y="152.51"/>
<use class="n" href="#wtn20" x="104.60" y="152.51"/>
<use href="#wt20" x="16.60" y="159.02"/>
<use href="#wt21" x="104.60" y="159.02"/>
<use class="n" href="#wtn20" x="16.60" y="159.02"/>
<use class="n" href="#wtn21" x="104.60" y="159.02"/>
<use href="#wt21" x="16.60" y="165.53"/>
<use href="#wt22" x="104.60" y="165.53"/>
<use class="n" href="#wtn21" x="16.60" y="165.53"/>
<use class="n" href="#wtn22" x="104.60" y="165.53"/>
<use href="#wt22" x="16.60" y="172.04"/>
<use href="#wt23" x="104.60" y="172.04"/>
<use class="n" href="#wtn22" x="16.60" y="172.04"/>
<use class="n" href="#wtn23" x="104.60" y="172.04"/>
<use href="#wt23" x="16.60" y="178.56"/>
<use href="#wt24" x="104.60" y="178.56"/>
<use class="n" href="#wtn23" x="16.60" y="178.56"/>
<use class="n" href="#wtn24" x="104.60" y="178.56"/>
<use href="#wt24" x="16.60" y="185.07"/>
<use href="#wt25" x="104.60" y="185.07"/>
<use class="n" href="#wtn24" x="16.60" y="185.07"/>
<use class="n" href="#wtn25" x="104.60" y="185.07"/>
<use href="#wt25" x="16.60" y="191.58"/>
<use href="#wt26" x="104.60" y="191.58"/>
<use class="n" href="#wtn25" x="16.60" y="191.58"/>
<use class="n" href="#wtn26" x="104.60" y="191.58"/>
<use href="#wt26" x="16.60" y="198.09"/>
<use href="#wt27" x="104.60" y="198.09"/>
<use class="n" href="#wtn26" x="16.60" y="198.09"/>
<use class="n" href="#wtn27" x="104.60" y="198.09"/>
<use href="#wt27" x="16.60" y="204.60"/>
<use href="#wt28" x="104.60" y="204.60"/>
<use class="n" href="#wtn27" x="16.60" y="204.60"/>
<use class="n" href="#wtn28" x="104.60" y="204.60"/>
</g>
<rect x="16.60" y="21.50" width="176.00" height="183.80" fill="none" stroke="#777" stroke-width="0.9"/>
<line x1="16.60" y1="29.50" x2="192.60" y2="29.50" stroke="#666" stroke-width="0.9" />
<text x="16.6" y="215.7" font-size="10.3" font-weight="bold" text-anchor="middle" fill="#000" >0</text>
<text x="59.1" y="215.7" font-size="10.3" font-weight="bold" text-anchor="middle" fill="#000" >12</text>
<text x="106.2" y="215.7" font-size="10.3" font-weight="bold" text-anchor="middle" fill="#000" >0</text>
<text x="151.6" y="215.7" font-size="10.3" font-weight="bold" text-anchor="middle" fill="#000" >12</text>
<text x="190.0" y="215.7" font-size="10.3" font-weight="bold" text-anchor="middle" fill="#000" >0</text>
<text x="104.6" y="227.5" font-size="10.5" font-weight="bold" text-anchor="middle" fill="#000" >Time (h)</text>
<rect x="200.30" y="21.50" width="176.00" height="8.00" fill="#fff" />
<rect x="244.30" y="21.50" width="44.00" height="8.00" fill="#000" />
<rect x="332.30" y="21.50" width="44.00" height="8.00" fill="#000" />
<rect x="200.30" y="29.50" width="176.00" height="175.80" fill="#cbcbcb" />
<rect x="200.30" y="29.50" width="44.00" height="39.07" fill="#fff" />
<rect x="288.30" y="29.50" width="44.00" height="32.56" fill="#fff" />
<line x1="200.30" y1="35.81" x2="376.30" y2="35.81" stroke="#dcdcdc" stroke-width="0.6" />
<line x1="200.30" y1="42.32" x2="376.30" y2="42.32" stroke="#dcdcdc" stroke-width="0.6" />
<line x1="200.30" y1="48.83" x2="376.30" y2="48.83" stroke="#dcdcdc" stroke-width="0.6" />
<line x1="200.30" y1="55.34" x2="376.30" y2="55.34" stroke="#dcdcdc" stroke-width="0.6" />
<line x1="200.30" y1="61.86" x2="376.30" y2="61.86" stroke="#dcdcdc" stroke-width="0.6" />
<line x1="200.30" y1="68.37" x2="376.30" y2="68.37" stroke="#dcdcdc" stroke-width="0.6" />
<line x1="200.30" y1="74.88" x2="376.30" y2="74.88" stroke="#dcdcdc" stroke-width="0.6" />
<line x1="200.30" y1="81.39" x2="376.30" y2="81.39" stroke="#dcdcdc" stroke-width="0.6" />
<line x1="200.30" y1="87.90" x2="376.30" y2="87.90" stroke="#dcdcdc" stroke-width="0.6" />
<line x1="200.30" y1="94.41" x2="376.30" y2="94.41" stroke="#dcdcdc" stroke-width="0.6" />
<line x1="200.30" y1="100.92" x2="376.30" y2="100.92" stroke="#dcdcdc" stroke-width="0.6" />
<line x1="200.30" y1="107.43" x2="376.30" y2="107.43" stroke="#dcdcdc" stroke-width="0.6" />
<line x1="200.30" y1="113.94" x2="376.30" y2="113.94" stroke="#dcdcdc" stroke-width="0.6" />
<line x1="200.30" y1="120.46" x2="376.30" y2="120.46" stroke="#dcdcdc" stroke-width="0.6" />
<line x1="200.30" y1="126.97" x2="376.30" y2="126.97" stroke="#dcdcdc" stroke-width="0.6" />
<line x1="200.30" y1="133.48" x2="376.30" y2="133.48" stroke="#dcdcdc" stroke-width="0.6" />
<line x1="200.30" y1="139.99" x2="376.30" y2="139.99" stroke="#dcdcdc" stroke-width="0.6" />
<line x1="200.30" y1="146.50" x2="376.30" y2="146.50" stroke="#dcdcdc" stroke-width="0.6" />
<line x1="200.30" y1="153.01" x2="376.30" y2="153.01" stroke="#dcdcdc" stroke-width="0.6" />
<line x1="200.30" y1="159.52" x2="376.30" y2="159.52" stroke="#dcdcdc" stroke-width="0.6" />
<line x1="200.30" y1="166.03" x2="376.30" y2="166.03" stroke="#dcdcdc" stroke-width="0.6" />
<line x1="200.30" y1="172.54" x2="376.30" y2="172.54" stroke="#dcdcdc" stroke-width="0.6" />
<line x1="200.30" y1="179.06" x2="376.30" y2="179.06" stroke="#dcdcdc" stroke-width="0.6" />
<line x1="200.30" y1="185.57" x2="376.30" y2="185.57" stroke="#dcdcdc" stroke-width="0.6" />
<line x1="200.30" y1="192.08" x2="376.30" y2="192.08" stroke="#dcdcdc" stroke-width="0.6" />
<line x1="200.30" y1="198.59" x2="376.30" y2="198.59" stroke="#dcdcdc" stroke-width="0.6" />
<g filter="url(#bl)">
<use href="#tta1" x="200.30" y="35.31"/>
<use href="#tta2" x="288.30" y="35.31"/>
<use class="n" href="#ttan1" x="200.30" y="35.31"/>
<use class="n" href="#ttan2" x="288.30" y="35.31"/>
<use href="#tta2" x="200.30" y="41.82"/>
<use href="#tta3" x="288.30" y="41.82"/>
<use class="n" href="#ttan2" x="200.30" y="41.82"/>
<use class="n" href="#ttan3" x="288.30" y="41.82"/>
<use href="#tta3" x="200.30" y="48.33"/>
<use href="#tta4" x="288.30" y="48.33"/>
<use class="n" href="#ttan3" x="200.30" y="48.33"/>
<use class="n" href="#ttan4" x="288.30" y="48.33"/>
<use href="#tta4" x="200.30" y="54.84"/>
<use href="#tta5" x="288.30" y="54.84"/>
<use class="n" href="#ttan4" x="200.30" y="54.84"/>
<use class="n" href="#ttan5" x="288.30" y="54.84"/>
<use href="#tta5" x="200.30" y="61.36"/>
<use href="#tta6" x="288.30" y="61.36"/>
<use class="n" href="#ttan5" x="200.30" y="61.36"/>
<use class="n" href="#ttan6" x="288.30" y="61.36"/>
<use href="#tta6" x="200.30" y="67.87"/>
<use href="#tta7" x="288.30" y="67.87"/>
<use class="n" href="#ttan6" x="200.30" y="67.87"/>
<use class="n" href="#ttan7" x="288.30" y="67.87"/>
<use href="#tta7" x="200.30" y="74.38"/>
<use href="#tta8" x="288.30" y="74.38"/>
<use class="n" href="#ttan7" x="200.30" y="74.38"/>
<use class="n" href="#ttan8" x="288.30" y="74.38"/>
<use href="#tta8" x="200.30" y="80.89"/>
<use href="#tta9" x="288.30" y="80.89"/>
<use class="n" href="#ttan8" x="200.30" y="80.89"/>
<use class="n" href="#ttan9" x="288.30" y="80.89"/>
<use href="#tta9" x="200.30" y="87.40"/>
<use href="#tta10" x="288.30" y="87.40"/>
<use class="n" href="#ttan9" x="200.30" y="87.40"/>
<use class="n" href="#ttan10" x="288.30" y="87.40"/>
<use href="#tta10" x="200.30" y="93.91"/>
<use href="#tta11" x="288.30" y="93.91"/>
<use class="n" href="#ttan10" x="200.30" y="93.91"/>
<use class="n" href="#ttan11" x="288.30" y="93.91"/>
<use href="#tta11" x="200.30" y="100.42"/>
<use href="#tta12" x="288.30" y="100.42"/>
<use class="n" href="#ttan11" x="200.30" y="100.42"/>
<use class="n" href="#ttan12" x="288.30" y="100.42"/>
<use href="#tta12" x="200.30" y="106.93"/>
<use href="#tta13" x="288.30" y="106.93"/>
<use class="n" href="#ttan12" x="200.30" y="106.93"/>
<use class="n" href="#ttan13" x="288.30" y="106.93"/>
<use href="#tta13" x="200.30" y="113.44"/>
<use href="#tta14" x="288.30" y="113.44"/>
<use class="n" href="#ttan13" x="200.30" y="113.44"/>
<use class="n" href="#ttan14" x="288.30" y="113.44"/>
<use href="#tta14" x="200.30" y="119.96"/>
<use href="#tta15" x="288.30" y="119.96"/>
<use class="n" href="#ttan14" x="200.30" y="119.96"/>
<use class="n" href="#ttan15" x="288.30" y="119.96"/>
<use href="#tta15" x="200.30" y="126.47"/>
<use href="#tta16" x="288.30" y="126.47"/>
<use class="n" href="#ttan15" x="200.30" y="126.47"/>
<use class="n" href="#ttan16" x="288.30" y="126.47"/>
<use href="#tta16" x="200.30" y="132.98"/>
<use href="#tta17" x="288.30" y="132.98"/>
<use class="n" href="#ttan16" x="200.30" y="132.98"/>
<use class="n" href="#ttan17" x="288.30" y="132.98"/>
<use href="#tta17" x="200.30" y="139.49"/>
<use href="#tta18" x="288.30" y="139.49"/>
<use class="n" href="#ttan17" x="200.30" y="139.49"/>
<use class="n" href="#ttan18" x="288.30" y="139.49"/>
<use href="#tta18" x="200.30" y="146.00"/>
<use href="#tta19" x="288.30" y="146.00"/>
<use class="n" href="#ttan18" x="200.30" y="146.00"/>
<use class="n" href="#ttan19" x="288.30" y="146.00"/>
<use href="#tta19" x="200.30" y="152.51"/>
<use href="#tta20" x="288.30" y="152.51"/>
<use class="n" href="#ttan19" x="200.30" y="152.51"/>
<use class="n" href="#ttan20" x="288.30" y="152.51"/>
<use href="#tta20" x="200.30" y="159.02"/>
<use href="#tta21" x="288.30" y="159.02"/>
<use class="n" href="#ttan20" x="200.30" y="159.02"/>
<use class="n" href="#ttan21" x="288.30" y="159.02"/>
<use href="#tta21" x="200.30" y="165.53"/>
<use href="#tta22" x="288.30" y="165.53"/>
<use class="n" href="#ttan21" x="200.30" y="165.53"/>
<use class="n" href="#ttan22" x="288.30" y="165.53"/>
<use href="#tta22" x="200.30" y="172.04"/>
<use href="#tta23" x="288.30" y="172.04"/>
<use class="n" href="#ttan22" x="200.30" y="172.04"/>
<use class="n" href="#ttan23" x="288.30" y="172.04"/>
<use href="#tta23" x="200.30" y="178.56"/>
<use href="#tta24" x="288.30" y="178.56"/>
<use class="n" href="#ttan23" x="200.30" y="178.56"/>
<use class="n" href="#ttan24" x="288.30" y="178.56"/>
<use href="#tta24" x="200.30" y="185.07"/>
<use href="#tta25" x="288.30" y="185.07"/>
<use class="n" href="#ttan24" x="200.30" y="185.07"/>
<use class="n" href="#ttan25" x="288.30" y="185.07"/>
<use href="#tta25" x="200.30" y="191.58"/>
<use href="#tta26" x="288.30" y="191.58"/>
<use class="n" href="#ttan25" x="200.30" y="191.58"/>
<use class="n" href="#ttan26" x="288.30" y="191.58"/>
<use href="#tta26" x="200.30" y="198.09"/>
<use href="#tta27" x="288.30" y="198.09"/>
<use class="n" href="#ttan26" x="200.30" y="198.09"/>
<use class="n" href="#ttan27" x="288.30" y="198.09"/>
<use href="#tta27" x="200.30" y="204.60"/>
<use href="#tta28" x="288.30" y="204.60"/>
<use class="n" href="#ttan27" x="200.30" y="204.60"/>
<use class="n" href="#ttan28" x="288.30" y="204.60"/>
</g>
<rect x="200.30" y="21.50" width="176.00" height="183.80" fill="none" stroke="#777" stroke-width="0.9"/>
<line x1="200.30" y1="29.50" x2="376.30" y2="29.50" stroke="#666" stroke-width="0.9" />
<text x="200.3" y="215.7" font-size="10.3" font-weight="bold" text-anchor="middle" fill="#000" >0</text>
<text x="242.8" y="215.7" font-size="10.3" font-weight="bold" text-anchor="middle" fill="#000" >12</text>
<text x="289.9" y="215.7" font-size="10.3" font-weight="bold" text-anchor="middle" fill="#000" >0</text>
<text x="335.3" y="215.7" font-size="10.3" font-weight="bold" text-anchor="middle" fill="#000" >12</text>
<text x="373.7" y="215.7" font-size="10.3" font-weight="bold" text-anchor="middle" fill="#000" >0</text>
<text x="286.9" y="227.5" font-size="10.5" font-weight="bold" text-anchor="middle" fill="#000" >Time (h)</text>
<text x="13.3" y="35.9" font-size="10.3" font-weight="bold" text-anchor="end" fill="#000" >1</text>
<line x1="13.50" y1="32.76" x2="16.60" y2="32.76" stroke="#000" stroke-width="1.4" />
<text x="13.3" y="61.9" font-size="10.3" font-weight="bold" text-anchor="end" fill="#000" >5</text>
<line x1="13.50" y1="58.80" x2="16.60" y2="58.80" stroke="#000" stroke-width="1.4" />
<text x="13.3" y="94.5" font-size="10.3" font-weight="bold" text-anchor="end" fill="#000" >10</text>
<line x1="13.50" y1="91.36" x2="16.60" y2="91.36" stroke="#000" stroke-width="1.4" />
<text x="13.3" y="127.0" font-size="10.3" font-weight="bold" text-anchor="end" fill="#000" >15</text>
<line x1="13.50" y1="123.91" x2="16.60" y2="123.91" stroke="#000" stroke-width="1.4" />
<text x="13.3" y="159.6" font-size="10.3" font-weight="bold" text-anchor="end" fill="#000" >20</text>
<line x1="13.50" y1="156.47" x2="16.60" y2="156.47" stroke="#000" stroke-width="1.4" />
<text x="13.3" y="192.1" font-size="10.3" font-weight="bold" text-anchor="end" fill="#000" >25</text>
<line x1="13.50" y1="189.02" x2="16.60" y2="189.02" stroke="#000" stroke-width="1.4" />
<text transform="translate(26.3,15.8) scale(1.025,0.93)" font-size="15.6" font-weight="bold" font-style="italic" fill="#000" text-anchor="start"><tspan>Avp-CK1δ</tspan><tspan dy="-5.5" font-size="10.6">−/−</tspan><tspan dy="5.5">; Vip</tspan><tspan dy="-5.5" font-size="10.2">wt/tTA</tspan></text>
<text transform="translate(206.9,15.8) scale(1.025,0.93)" font-size="15.6" font-weight="bold" font-style="italic" fill="#000" text-anchor="start"><tspan>Avp-CK1δ</tspan><tspan dy="-5.5" font-size="10.6">−/−</tspan><tspan dy="5.5">; Vip</tspan><tspan dy="-5.5" font-size="10.2">tTA/tTA</tspan></text>
<rect x="436.80" y="35.20" width="4.90" height="165.00" fill="#d3d3d3" />
<rect x="446.45" y="35.20" width="4.90" height="165.00" fill="#d3d3d3" />
<rect x="456.10" y="35.20" width="4.90" height="165.00" fill="#d3d3d3" />
<rect x="465.75" y="35.20" width="4.90" height="165.00" fill="#d3d3d3" />
<rect x="475.40" y="35.20" width="4.90" height="165.00" fill="#d3d3d3" />
<rect x="485.00" y="35.20" width="187.90" height="165.00" fill="#d3d3d3" />
<line x1="432.30" y1="34.30" x2="432.30" y2="200.80" stroke="#000" stroke-width="1.8" />
<line x1="428.30" y1="200.00" x2="673.50" y2="200.00" stroke="#000" stroke-width="1.8" />
<line x1="428.00" y1="200.20" x2="432.30" y2="200.20" stroke="#000" stroke-width="1.5" />
<text x="426.8" y="205.2" font-size="14" font-weight="bold" text-anchor="end" fill="#000" >21</text>
<line x1="428.00" y1="167.20" x2="432.30" y2="167.20" stroke="#000" stroke-width="1.5" />
<text x="426.8" y="172.2" font-size="14" font-weight="bold" text-anchor="end" fill="#000" >22</text>
<line x1="428.00" y1="134.20" x2="432.30" y2="134.20" stroke="#000" stroke-width="1.5" />
<text x="426.8" y="139.2" font-size="14" font-weight="bold" text-anchor="end" fill="#000" >23</text>
<line x1="428.00" y1="101.20" x2="432.30" y2="101.20" stroke="#000" stroke-width="1.5" />
<text x="426.8" y="106.2" font-size="14" font-weight="bold" text-anchor="end" fill="#000" >24</text>
<line x1="428.00" y1="68.20" x2="432.30" y2="68.20" stroke="#000" stroke-width="1.5" />
<text x="426.8" y="73.2" font-size="14" font-weight="bold" text-anchor="end" fill="#000" >25</text>
<line x1="428.00" y1="35.20" x2="432.30" y2="35.20" stroke="#000" stroke-width="1.5" />
<text x="426.8" y="40.2" font-size="14" font-weight="bold" text-anchor="end" fill="#000" >26</text>
<line x1="432.30" y1="200.00" x2="432.30" y2="203.50" stroke="#000" stroke-width="1.3" />
<line x1="441.95" y1="200.00" x2="441.95" y2="203.50" stroke="#000" stroke-width="1.3" />
<line x1="451.60" y1="200.00" x2="451.60" y2="203.50" stroke="#000" stroke-width="1.3" />
<line x1="461.25" y1="200.00" x2="461.25" y2="203.50" stroke="#000" stroke-width="1.3" />
<line x1="470.90" y1="200.00" x2="470.90" y2="203.50" stroke="#000" stroke-width="1.3" />
<line x1="480.55" y1="200.00" x2="480.55" y2="203.50" stroke="#000" stroke-width="1.3" />
<line x1="490.20" y1="200.00" x2="490.20" y2="203.50" stroke="#000" stroke-width="1.3" />
<line x1="499.85" y1="200.00" x2="499.85" y2="203.50" stroke="#000" stroke-width="1.3" />
<line x1="509.50" y1="200.00" x2="509.50" y2="203.50" stroke="#000" stroke-width="1.3" />
<line x1="519.15" y1="200.00" x2="519.15" y2="203.50" stroke="#000" stroke-width="1.3" />
<line x1="528.80" y1="200.00" x2="528.80" y2="203.50" stroke="#000" stroke-width="1.3" />
<line x1="538.45" y1="200.00" x2="538.45" y2="203.50" stroke="#000" stroke-width="1.3" />
<line x1="548.10" y1="200.00" x2="548.10" y2="203.50" stroke="#000" stroke-width="1.3" />
<line x1="557.75" y1="200.00" x2="557.75" y2="203.50" stroke="#000" stroke-width="1.3" />
<line x1="567.40" y1="200.00" x2="567.40" y2="203.50" stroke="#000" stroke-width="1.3" />
<line x1="577.05" y1="200.00" x2="577.05" y2="203.50" stroke="#000" stroke-width="1.3" />
<line x1="586.70" y1="200.00" x2="586.70" y2="203.50" stroke="#000" stroke-width="1.3" />
<line x1="596.35" y1="200.00" x2="596.35" y2="203.50" stroke="#000" stroke-width="1.3" />
<line x1="606.00" y1="200.00" x2="606.00" y2="203.50" stroke="#000" stroke-width="1.3" />
<line x1="615.65" y1="200.00" x2="615.65" y2="203.50" stroke="#000" stroke-width="1.3" />
<line x1="625.30" y1="200.00" x2="625.30" y2="203.50" stroke="#000" stroke-width="1.3" />
<line x1="634.95" y1="200.00" x2="634.95" y2="203.50" stroke="#000" stroke-width="1.3" />
<line x1="644.60" y1="200.00" x2="644.60" y2="203.50" stroke="#000" stroke-width="1.3" />
<line x1="654.25" y1="200.00" x2="654.25" y2="203.50" stroke="#000" stroke-width="1.3" />
<line x1="663.90" y1="200.00" x2="663.90" y2="203.50" stroke="#000" stroke-width="1.3" />
<line x1="673.55" y1="200.00" x2="673.55" y2="203.50" stroke="#000" stroke-width="1.3" />
<text x="436.6" y="211.8" font-size="9" font-weight="bold" text-anchor="middle" fill="#000" >LD1-2</text>
<text x="465.6" y="211.8" font-size="9" font-weight="bold" text-anchor="middle" fill="#000" >LD4-5</text>
<text x="494.5" y="211.8" font-size="9" font-weight="bold" text-anchor="middle" fill="#000" >DD1-2</text>
<text x="523.5" y="211.8" font-size="9" font-weight="bold" text-anchor="middle" fill="#000" >DD4-5</text>
<text x="571.7" y="211.8" font-size="9" font-weight="bold" text-anchor="middle" fill="#000" >DD9-10</text>
<text x="620.0" y="211.8" font-size="9" font-weight="bold" text-anchor="middle" fill="#000" >DD14-15</text>
<text x="668.2" y="211.8" font-size="9" font-weight="bold" text-anchor="middle" fill="#000" >DD19-20</text>
<text x="0.0" y="0.0" font-size="18.5" font-weight="bold" text-anchor="middle" fill="#000" transform="translate(403.9,113.3) rotate(-90)">Period (h)</text>
<polyline points="436.6,96.6 446.2,99.2 455.9,101.9 465.6,102.9 475.2,95.9" fill="none" stroke="#ff0000" stroke-width="1.4"/>
<polyline points="494.5,69.5 504.2,117.0 513.8,97.9 523.5,107.5 533.1,85.7 542.8,89.0 552.4,122.6 562.1,70.8 571.7,86.0 581.4,107.5 591.0,93.9 600.7,80.1 610.3,101.5 620.0,121.7 629.6,91.6 639.2,63.9 648.9,132.2 658.6,91.0 668.2,103.2" fill="none" stroke="#ff0000" stroke-width="1.4"/>
<line x1="436.60" y1="94.93" x2="436.60" y2="98.23" stroke="#ff0000" stroke-width="1.3" />
<line x1="434.80" y1="94.93" x2="438.40" y2="94.93" stroke="#ff0000" stroke-width="1.3" />
<line x1="434.80" y1="98.23" x2="438.40" y2="98.23" stroke="#ff0000" stroke-width="1.3" />
<circle cx="436.6" cy="96.6" r="1.8" fill="#ff0000"/>
<line x1="446.25" y1="96.91" x2="446.25" y2="101.53" stroke="#ff0000" stroke-width="1.3" />
<line x1="444.45" y1="96.91" x2="448.05" y2="96.91" stroke="#ff0000" stroke-width="1.3" />
<line x1="444.45" y1="101.53" x2="448.05" y2="101.53" stroke="#ff0000" stroke-width="1.3" />
<circle cx="446.2" cy="99.2" r="1.8" fill="#ff0000"/>
<line x1="455.90" y1="99.22" x2="455.90" y2="104.50" stroke="#ff0000" stroke-width="1.3" />
<line x1="454.10" y1="99.22" x2="457.70" y2="99.22" stroke="#ff0000" stroke-width="1.3" />
<line x1="454.10" y1="104.50" x2="457.70" y2="104.50" stroke="#ff0000" stroke-width="1.3" />
<circle cx="455.9" cy="101.9" r="1.8" fill="#ff0000"/>
<line x1="465.55" y1="100.87" x2="465.55" y2="104.83" stroke="#ff0000" stroke-width="1.3" />
<line x1="463.75" y1="100.87" x2="467.35" y2="100.87" stroke="#ff0000" stroke-width="1.3" />
<line x1="463.75" y1="104.83" x2="467.35" y2="104.83" stroke="#ff0000" stroke-width="1.3" />
<circle cx="465.6" cy="102.9" r="1.8" fill="#ff0000"/>
<line x1="475.20" y1="88.00" x2="475.20" y2="103.84" stroke="#ff0000" stroke-width="1.3" />
<line x1="473.40" y1="88.00" x2="477.00" y2="88.00" stroke="#ff0000" stroke-width="1.3" />
<line x1="473.40" y1="103.84" x2="477.00" y2="103.84" stroke="#ff0000" stroke-width="1.3" />
<circle cx="475.2" cy="95.9" r="1.8" fill="#ff0000"/>
<line x1="494.50" y1="60.61" x2="494.50" y2="78.43" stroke="#ff0000" stroke-width="1.3" />
<line x1="492.70" y1="60.61" x2="496.30" y2="60.61" stroke="#ff0000" stroke-width="1.3" />
<line x1="492.70" y1="78.43" x2="496.30" y2="78.43" stroke="#ff0000" stroke-width="1.3" />
<circle cx="494.5" cy="69.5" r="1.8" fill="#ff0000"/>
<line x1="504.15" y1="108.13" x2="504.15" y2="125.95" stroke="#ff0000" stroke-width="1.3" />
<line x1="502.35" y1="108.13" x2="505.95" y2="108.13" stroke="#ff0000" stroke-width="1.3" />
<line x1="502.35" y1="125.95" x2="505.95" y2="125.95" stroke="#ff0000" stroke-width="1.3" />
<circle cx="504.2" cy="117.0" r="1.8" fill="#ff0000"/>
<line x1="513.80" y1="84.70" x2="513.80" y2="111.10" stroke="#ff0000" stroke-width="1.3" />
<line x1="512.00" y1="84.70" x2="515.60" y2="84.70" stroke="#ff0000" stroke-width="1.3" />
<line x1="512.00" y1="111.10" x2="515.60" y2="111.10" stroke="#ff0000" stroke-width="1.3" />
<circle cx="513.8" cy="97.9" r="1.8" fill="#ff0000"/>
<line x1="523.45" y1="97.57" x2="523.45" y2="117.37" stroke="#ff0000" stroke-width="1.3" />
<line x1="521.65" y1="97.57" x2="525.25" y2="97.57" stroke="#ff0000" stroke-width="1.3" />
<line x1="521.65" y1="117.37" x2="525.25" y2="117.37" stroke="#ff0000" stroke-width="1.3" />
<circle cx="523.5" cy="107.5" r="1.8" fill="#ff0000"/>
<line x1="533.10" y1="55.99" x2="533.10" y2="115.39" stroke="#ff0000" stroke-width="1.3" />
<line x1="531.30" y1="55.99" x2="534.90" y2="55.99" stroke="#ff0000" stroke-width="1.3" />
<line x1="531.30" y1="115.39" x2="534.90" y2="115.39" stroke="#ff0000" stroke-width="1.3" />
<circle cx="533.1" cy="85.7" r="1.8" fill="#ff0000"/>
<line x1="542.75" y1="71.83" x2="542.75" y2="106.15" stroke="#ff0000" stroke-width="1.3" />
<line x1="540.95" y1="71.83" x2="544.55" y2="71.83" stroke="#ff0000" stroke-width="1.3" />
<line x1="540.95" y1="106.15" x2="544.55" y2="106.15" stroke="#ff0000" stroke-width="1.3" />
<circle cx="542.8" cy="89.0" r="1.8" fill="#ff0000"/>
<line x1="552.40" y1="88.00" x2="552.40" y2="157.30" stroke="#ff0000" stroke-width="1.3" />
<line x1="550.60" y1="88.00" x2="554.20" y2="88.00" stroke="#ff0000" stroke-width="1.3" />
<line x1="550.60" y1="157.30" x2="554.20" y2="157.30" stroke="#ff0000" stroke-width="1.3" />
<circle cx="552.4" cy="122.6" r="1.8" fill="#ff0000"/>
<line x1="562.05" y1="54.34" x2="562.05" y2="87.34" stroke="#ff0000" stroke-width="1.3" />
<line x1="560.25" y1="54.34" x2="563.85" y2="54.34" stroke="#ff0000" stroke-width="1.3" />
<line x1="560.25" y1="87.34" x2="563.85" y2="87.34" stroke="#ff0000" stroke-width="1.3" />
<circle cx="562.1" cy="70.8" r="1.8" fill="#ff0000"/>
<line x1="571.70" y1="67.87" x2="571.70" y2="104.17" stroke="#ff0000" stroke-width="1.3" />
<line x1="569.90" y1="67.87" x2="573.50" y2="67.87" stroke="#ff0000" stroke-width="1.3" />
<line x1="569.90" y1="104.17" x2="573.50" y2="104.17" stroke="#ff0000" stroke-width="1.3" />
<circle cx="571.7" cy="86.0" r="1.8" fill="#ff0000"/>
<line x1="581.35" y1="102.85" x2="581.35" y2="112.09" stroke="#ff0000" stroke-width="1.3" />
<line x1="579.55" y1="102.85" x2="583.15" y2="102.85" stroke="#ff0000" stroke-width="1.3" />
<line x1="579.55" y1="112.09" x2="583.15" y2="112.09" stroke="#ff0000" stroke-width="1.3" />
<circle cx="581.4" cy="107.5" r="1.8" fill="#ff0000"/>
<line x1="591.00" y1="73.81" x2="591.00" y2="114.07" stroke="#ff0000" stroke-width="1.3" />
<line x1="589.20" y1="73.81" x2="592.80" y2="73.81" stroke="#ff0000" stroke-width="1.3" />
<line x1="589.20" y1="114.07" x2="592.80" y2="114.07" stroke="#ff0000" stroke-width="1.3" />
<circle cx="591.0" cy="93.9" r="1.8" fill="#ff0000"/>
<line x1="600.65" y1="69.19" x2="600.65" y2="90.97" stroke="#ff0000" stroke-width="1.3" />
<line x1="598.85" y1="69.19" x2="602.45" y2="69.19" stroke="#ff0000" stroke-width="1.3" />
<line x1="598.85" y1="90.97" x2="602.45" y2="90.97" stroke="#ff0000" stroke-width="1.3" />
<circle cx="600.7" cy="80.1" r="1.8" fill="#ff0000"/>
<line x1="610.30" y1="82.39" x2="610.30" y2="120.67" stroke="#ff0000" stroke-width="1.3" />
<line x1="608.50" y1="82.39" x2="612.10" y2="82.39" stroke="#ff0000" stroke-width="1.3" />
<line x1="608.50" y1="120.67" x2="612.10" y2="120.67" stroke="#ff0000" stroke-width="1.3" />
<circle cx="610.3" cy="101.5" r="1.8" fill="#ff0000"/>
<line x1="619.95" y1="103.51" x2="619.95" y2="139.81" stroke="#ff0000" stroke-width="1.3" />
<line x1="618.15" y1="103.51" x2="621.75" y2="103.51" stroke="#ff0000" stroke-width="1.3" />
<line x1="618.15" y1="139.81" x2="621.75" y2="139.81" stroke="#ff0000" stroke-width="1.3" />
<circle cx="620.0" cy="121.7" r="1.8" fill="#ff0000"/>
<line x1="629.60" y1="65.23" x2="629.60" y2="118.03" stroke="#ff0000" stroke-width="1.3" />
<line x1="627.80" y1="65.23" x2="631.40" y2="65.23" stroke="#ff0000" stroke-width="1.3" />
<line x1="627.80" y1="118.03" x2="631.40" y2="118.03" stroke="#ff0000" stroke-width="1.3" />
<circle cx="629.6" cy="91.6" r="1.8" fill="#ff0000"/>
<line x1="639.25" y1="39.16" x2="639.25" y2="88.66" stroke="#ff0000" stroke-width="1.3" />
<line x1="637.45" y1="39.16" x2="641.05" y2="39.16" stroke="#ff0000" stroke-width="1.3" />
<line x1="637.45" y1="88.66" x2="641.05" y2="88.66" stroke="#ff0000" stroke-width="1.3" />
<circle cx="639.2" cy="63.9" r="1.8" fill="#ff0000"/>
<line x1="648.90" y1="101.53" x2="648.90" y2="162.91" stroke="#ff0000" stroke-width="1.3" />
<line x1="647.10" y1="101.53" x2="650.70" y2="101.53" stroke="#ff0000" stroke-width="1.3" />
<line x1="647.10" y1="162.91" x2="650.70" y2="162.91" stroke="#ff0000" stroke-width="1.3" />
<circle cx="648.9" cy="132.2" r="1.8" fill="#ff0000"/>
<line x1="658.55" y1="69.19" x2="658.55" y2="112.75" stroke="#ff0000" stroke-width="1.3" />
<line x1="656.75" y1="69.19" x2="660.35" y2="69.19" stroke="#ff0000" stroke-width="1.3" />
<line x1="656.75" y1="112.75" x2="660.35" y2="112.75" stroke="#ff0000" stroke-width="1.3" />
<circle cx="658.6" cy="91.0" r="1.8" fill="#ff0000"/>
<line x1="668.20" y1="80.08" x2="668.20" y2="126.28" stroke="#ff0000" stroke-width="1.3" />
<line x1="666.40" y1="80.08" x2="670.00" y2="80.08" stroke="#ff0000" stroke-width="1.3" />
<line x1="666.40" y1="126.28" x2="670.00" y2="126.28" stroke="#ff0000" stroke-width="1.3" />
<circle cx="668.2" cy="103.2" r="1.8" fill="#ff0000"/>
<polyline points="436.6,98.6 446.2,102.5 455.9,100.5 465.6,95.6 475.2,93.9" fill="none" stroke="#0000ff" stroke-width="1.4"/>
<polyline points="494.5,95.6 504.2,86.0 513.8,83.4 523.5,81.1 533.1,81.7 542.8,79.8 552.4,84.0 562.1,79.1 571.7,77.8 581.4,79.8 591.0,82.7 600.7,73.8 610.3,80.7 620.0,78.8 629.6,74.1 639.2,77.1 648.9,77.4 658.6,77.4 668.2,81.1" fill="none" stroke="#0000ff" stroke-width="1.4"/>
<line x1="436.60" y1="97.90" x2="436.60" y2="99.22" stroke="#0000ff" stroke-width="1.3" />
<line x1="434.80" y1="97.90" x2="438.40" y2="97.90" stroke="#0000ff" stroke-width="1.3" />
<line x1="434.80" y1="99.22" x2="438.40" y2="99.22" stroke="#0000ff" stroke-width="1.3" />
<circle cx="436.6" cy="98.6" r="1.8" fill="#0000ff"/>
<line x1="446.25" y1="101.86" x2="446.25" y2="103.18" stroke="#0000ff" stroke-width="1.3" />
<line x1="444.45" y1="101.86" x2="448.05" y2="101.86" stroke="#0000ff" stroke-width="1.3" />
<line x1="444.45" y1="103.18" x2="448.05" y2="103.18" stroke="#0000ff" stroke-width="1.3" />
<circle cx="446.2" cy="102.5" r="1.8" fill="#0000ff"/>
<line x1="455.90" y1="99.55" x2="455.90" y2="101.53" stroke="#0000ff" stroke-width="1.3" />
<line x1="454.10" y1="99.55" x2="457.70" y2="99.55" stroke="#0000ff" stroke-width="1.3" />
<line x1="454.10" y1="101.53" x2="457.70" y2="101.53" stroke="#0000ff" stroke-width="1.3" />
<circle cx="455.9" cy="100.5" r="1.8" fill="#0000ff"/>
<line x1="465.55" y1="93.28" x2="465.55" y2="97.90" stroke="#0000ff" stroke-width="1.3" />
<line x1="463.75" y1="93.28" x2="467.35" y2="93.28" stroke="#0000ff" stroke-width="1.3" />
<line x1="463.75" y1="97.90" x2="467.35" y2="97.90" stroke="#0000ff" stroke-width="1.3" />
<circle cx="465.6" cy="95.6" r="1.8" fill="#0000ff"/>
<line x1="475.20" y1="91.63" x2="475.20" y2="96.25" stroke="#0000ff" stroke-width="1.3" />
<line x1="473.40" y1="91.63" x2="477.00" y2="91.63" stroke="#0000ff" stroke-width="1.3" />
<line x1="473.40" y1="96.25" x2="477.00" y2="96.25" stroke="#0000ff" stroke-width="1.3" />
<circle cx="475.2" cy="93.9" r="1.8" fill="#0000ff"/>
<line x1="494.50" y1="93.94" x2="494.50" y2="97.24" stroke="#0000ff" stroke-width="1.3" />
<line x1="492.70" y1="93.94" x2="496.30" y2="93.94" stroke="#0000ff" stroke-width="1.3" />
<line x1="492.70" y1="97.24" x2="496.30" y2="97.24" stroke="#0000ff" stroke-width="1.3" />
<circle cx="494.5" cy="95.6" r="1.8" fill="#0000ff"/>
<line x1="504.15" y1="82.72" x2="504.15" y2="89.32" stroke="#0000ff" stroke-width="1.3" />
<line x1="502.35" y1="82.72" x2="505.95" y2="82.72" stroke="#0000ff" stroke-width="1.3" />
<line x1="502.35" y1="89.32" x2="505.95" y2="89.32" stroke="#0000ff" stroke-width="1.3" />
<circle cx="504.2" cy="86.0" r="1.8" fill="#0000ff"/>
<line x1="513.80" y1="81.07" x2="513.80" y2="85.69" stroke="#0000ff" stroke-width="1.3" />
<line x1="512.00" y1="81.07" x2="515.60" y2="81.07" stroke="#0000ff" stroke-width="1.3" />
<line x1="512.00" y1="85.69" x2="515.60" y2="85.69" stroke="#0000ff" stroke-width="1.3" />
<circle cx="513.8" cy="83.4" r="1.8" fill="#0000ff"/>
<line x1="523.45" y1="79.75" x2="523.45" y2="82.39" stroke="#0000ff" stroke-width="1.3" />
<line x1="521.65" y1="79.75" x2="525.25" y2="79.75" stroke="#0000ff" stroke-width="1.3" />
<line x1="521.65" y1="82.39" x2="525.25" y2="82.39" stroke="#0000ff" stroke-width="1.3" />
<circle cx="523.5" cy="81.1" r="1.8" fill="#0000ff"/>
<line x1="533.10" y1="79.42" x2="533.10" y2="84.04" stroke="#0000ff" stroke-width="1.3" />
<line x1="531.30" y1="79.42" x2="534.90" y2="79.42" stroke="#0000ff" stroke-width="1.3" />
<line x1="531.30" y1="84.04" x2="534.90" y2="84.04" stroke="#0000ff" stroke-width="1.3" />
<circle cx="533.1" cy="81.7" r="1.8" fill="#0000ff"/>
<line x1="542.75" y1="77.77" x2="542.75" y2="81.73" stroke="#0000ff" stroke-width="1.3" />
<line x1="540.95" y1="77.77" x2="544.55" y2="77.77" stroke="#0000ff" stroke-width="1.3" />
<line x1="540.95" y1="81.73" x2="544.55" y2="81.73" stroke="#0000ff" stroke-width="1.3" />
<circle cx="542.8" cy="79.8" r="1.8" fill="#0000ff"/>
<line x1="552.40" y1="82.39" x2="552.40" y2="85.69" stroke="#0000ff" stroke-width="1.3" />
<line x1="550.60" y1="82.39" x2="554.20" y2="82.39" stroke="#0000ff" stroke-width="1.3" />
<line x1="550.60" y1="85.69" x2="554.20" y2="85.69" stroke="#0000ff" stroke-width="1.3" />
<circle cx="552.4" cy="84.0" r="1.8" fill="#0000ff"/>
<line x1="562.05" y1="76.45" x2="562.05" y2="81.73" stroke="#0000ff" stroke-width="1.3" />
<line x1="560.25" y1="76.45" x2="563.85" y2="76.45" stroke="#0000ff" stroke-width="1.3" />
<line x1="560.25" y1="81.73" x2="563.85" y2="81.73" stroke="#0000ff" stroke-width="1.3" />
<circle cx="562.1" cy="79.1" r="1.8" fill="#0000ff"/>
<line x1="571.70" y1="75.79" x2="571.70" y2="79.75" stroke="#0000ff" stroke-width="1.3" />
<line x1="569.90" y1="75.79" x2="573.50" y2="75.79" stroke="#0000ff" stroke-width="1.3" />
<line x1="569.90" y1="79.75" x2="573.50" y2="79.75" stroke="#0000ff" stroke-width="1.3" />
<circle cx="571.7" cy="77.8" r="1.8" fill="#0000ff"/>
<line x1="581.35" y1="78.10" x2="581.35" y2="81.40" stroke="#0000ff" stroke-width="1.3" />
<line x1="579.55" y1="78.10" x2="583.15" y2="78.10" stroke="#0000ff" stroke-width="1.3" />
<line x1="579.55" y1="81.40" x2="583.15" y2="81.40" stroke="#0000ff" stroke-width="1.3" />
<circle cx="581.4" cy="79.8" r="1.8" fill="#0000ff"/>
<line x1="591.00" y1="80.08" x2="591.00" y2="85.36" stroke="#0000ff" stroke-width="1.3" />
<line x1="589.20" y1="80.08" x2="592.80" y2="80.08" stroke="#0000ff" stroke-width="1.3" />
<line x1="589.20" y1="85.36" x2="592.80" y2="85.36" stroke="#0000ff" stroke-width="1.3" />
<circle cx="591.0" cy="82.7" r="1.8" fill="#0000ff"/>
<line x1="600.65" y1="71.17" x2="600.65" y2="76.45" stroke="#0000ff" stroke-width="1.3" />
<line x1="598.85" y1="71.17" x2="602.45" y2="71.17" stroke="#0000ff" stroke-width="1.3" />
<line x1="598.85" y1="76.45" x2="602.45" y2="76.45" stroke="#0000ff" stroke-width="1.3" />
<circle cx="600.7" cy="73.8" r="1.8" fill="#0000ff"/>
<line x1="610.30" y1="78.76" x2="610.30" y2="82.72" stroke="#0000ff" stroke-width="1.3" />
<line x1="608.50" y1="78.76" x2="612.10" y2="78.76" stroke="#0000ff" stroke-width="1.3" />
<line x1="608.50" y1="82.72" x2="612.10" y2="82.72" stroke="#0000ff" stroke-width="1.3" />
<circle cx="610.3" cy="80.7" r="1.8" fill="#0000ff"/>
<line x1="619.95" y1="77.11" x2="619.95" y2="80.41" stroke="#0000ff" stroke-width="1.3" />
<line x1="618.15" y1="77.11" x2="621.75" y2="77.11" stroke="#0000ff" stroke-width="1.3" />
<line x1="618.15" y1="80.41" x2="621.75" y2="80.41" stroke="#0000ff" stroke-width="1.3" />
<circle cx="620.0" cy="78.8" r="1.8" fill="#0000ff"/>
<line x1="629.60" y1="71.50" x2="629.60" y2="76.78" stroke="#0000ff" stroke-width="1.3" />
<line x1="627.80" y1="71.50" x2="631.40" y2="71.50" stroke="#0000ff" stroke-width="1.3" />
<line x1="627.80" y1="76.78" x2="631.40" y2="76.78" stroke="#0000ff" stroke-width="1.3" />
<circle cx="629.6" cy="74.1" r="1.8" fill="#0000ff"/>
<line x1="639.25" y1="75.79" x2="639.25" y2="78.43" stroke="#0000ff" stroke-width="1.3" />
<line x1="637.45" y1="75.79" x2="641.05" y2="75.79" stroke="#0000ff" stroke-width="1.3" />
<line x1="637.45" y1="78.43" x2="641.05" y2="78.43" stroke="#0000ff" stroke-width="1.3" />
<circle cx="639.2" cy="77.1" r="1.8" fill="#0000ff"/>
<line x1="648.90" y1="74.14" x2="648.90" y2="80.74" stroke="#0000ff" stroke-width="1.3" />
<line x1="647.10" y1="74.14" x2="650.70" y2="74.14" stroke="#0000ff" stroke-width="1.3" />
<line x1="647.10" y1="80.74" x2="650.70" y2="80.74" stroke="#0000ff" stroke-width="1.3" />
<circle cx="648.9" cy="77.4" r="1.8" fill="#0000ff"/>
<line x1="658.55" y1="74.80" x2="658.55" y2="80.08" stroke="#0000ff" stroke-width="1.3" />
<line x1="656.75" y1="74.80" x2="660.35" y2="74.80" stroke="#0000ff" stroke-width="1.3" />
<line x1="656.75" y1="80.08" x2="660.35" y2="80.08" stroke="#0000ff" stroke-width="1.3" />
<circle cx="658.6" cy="77.4" r="1.8" fill="#0000ff"/>
<line x1="668.20" y1="78.76" x2="668.20" y2="83.38" stroke="#0000ff" stroke-width="1.3" />
<line x1="666.40" y1="78.76" x2="670.00" y2="78.76" stroke="#0000ff" stroke-width="1.3" />
<line x1="666.40" y1="83.38" x2="670.00" y2="83.38" stroke="#0000ff" stroke-width="1.3" />
<circle cx="668.2" cy="81.1" r="1.8" fill="#0000ff"/>
<line x1="477.80" y1="89.90" x2="477.80" y2="102.50" stroke="#000" stroke-width="1.6" />
<text x="481.3" y="98.8" font-size="10.5" font-weight="bold" text-anchor="start" fill="#000" >ns</text>
<line x1="675.10" y1="74.50" x2="675.10" y2="109.50" stroke="#000" stroke-width="1.6" />
<text x="677.0" y="101.0" font-size="15" font-weight="bold" text-anchor="start" fill="#000" >*</text>
<line x1="164.60" y1="258.00" x2="164.60" y2="439.00" stroke="#777" stroke-width="0.7" stroke-dasharray="1.5,1.5"/>
<line x1="73.30" y1="410.70" x2="255.90" y2="383.90" stroke="#888" stroke-width="0.7" />
<polygon points="73.3,405.4 73.8,403.1 74.2,403.1 74.7,402.7 75.1,400.6 75.6,404.9 76.0,404.4 76.5,406.1 76.9,404.6 77.4,403.2 77.9,405.5 78.3,405.1 78.8,409.7 79.2,406.7 79.7,408.8 80.1,404.7 80.6,406.6 81.1,406.9 81.5,408.9 82.0,408.2 82.4,408.5 82.9,410.6 83.3,411.2 83.8,410.8 84.2,411.7 84.7,411.8 85.2,411.3 85.6,412.1 86.1,409.7 86.5,413.7 87.0,409.7 87.4,412.2 87.9,412.2 88.3,413.6 88.8,411.6 89.3,411.9 89.7,411.2 90.2,412.5 90.6,411.4 91.1,408.4 91.5,410.7 92.0,412.3 92.5,409.7 92.9,411.4 93.4,410.1 93.8,410.0 94.3,411.6 94.7,414.1 95.2,411.3 95.6,409.8 96.1,411.2 96.6,409.7 97.0,408.7 97.5,411.1 97.9,408.0 98.4,407.2 98.8,408.0 99.3,407.8 99.7,407.8 100.2,405.7 100.7,409.0 101.1,409.2 101.6,408.1 102.0,410.6 102.5,411.7 102.9,410.7 103.4,408.6 103.9,408.5 104.3,412.0 104.8,412.6 105.2,410.0 105.7,409.9 106.1,409.7 106.6,408.6 107.0,407.7 107.5,409.4 108.0,408.8 108.4,411.6 108.9,411.7 109.3,409.3 109.8,408.6 110.2,408.5 110.7,408.7 111.1,408.3 111.6,408.3 112.1,412.6 112.5,410.8 113.0,408.8 113.4,408.5 113.9,412.1 114.3,407.5 114.8,410.2 115.3,409.9 115.7,409.0 116.2,408.2 116.6,411.8 117.1,407.7 117.5,409.2 118.0,410.6 118.4,409.8 118.9,413.0 119.4,410.4 119.8,408.9 120.3,410.4 120.7,409.7 121.2,409.4 121.6,409.1 122.1,407.4 122.5,409.1 123.0,409.5 123.5,408.1 123.9,405.5 124.4,409.5 124.8,408.1 125.3,411.6 125.7,406.6 126.2,407.8 126.7,406.6 127.1,408.9 127.6,410.5 128.0,407.3 128.5,407.5 128.9,410.2 129.4,411.1 129.8,407.9 130.3,408.9 130.8,404.2 131.2,409.6 131.7,409.4 132.1,408.7 132.6,411.3 133.0,409.9 133.5,405.7 133.9,408.6 134.4,409.4 134.9,410.5 135.3,407.3 135.8,407.2 136.2,407.8 136.7,408.8 137.1,407.6 137.6,407.4 138.1,409.1 138.5,406.8 139.0,411.3 139.4,409.9 139.9,408.1 140.3,407.7 140.8,409.4 141.2,406.8 141.7,405.5 142.2,406.5 142.6,406.8 143.1,405.7 143.5,406.3 144.0,408.8 144.4,407.2 144.9,404.6 145.3,408.5 145.8,406.3 146.3,406.9 146.7,407.5 147.2,407.5 147.6,405.4 148.1,404.8 148.5,404.6 149.0,407.4 149.5,405.2 149.9,403.9 150.4,402.7 150.8,403.0 151.3,402.5 151.7,401.9 152.2,402.2 152.6,404.7 153.1,403.0 153.6,404.0 154.0,406.5 154.5,404.9 154.9,398.1 155.4,402.8 155.8,404.0 156.3,400.4 156.7,395.8 157.2,397.2 157.7,395.0 158.1,394.5 158.6,392.3 159.0,387.8 159.5,386.1 159.9,384.8 160.4,380.1 160.9,376.5 161.3,375.1 161.8,370.5 162.2,366.5 162.7,364.0 163.1,356.8 163.6,354.9 164.0,351.8 164.5,349.9 165.0,346.0 165.4,338.4 165.9,340.6 166.3,336.3 166.8,336.6 167.2,334.8 167.7,335.1 168.1,338.8 168.6,340.3 169.1,342.7 169.5,346.5 170.0,351.0 170.4,356.1 170.9,359.3 171.3,362.9 171.8,368.9 172.3,375.5 172.7,377.7 173.2,381.9 173.6,384.6 174.1,385.1 174.5,391.0 175.0,392.7 175.4,395.8 175.9,396.1 176.4,397.7 176.8,394.8 177.3,397.6 177.7,399.5 178.2,395.6 178.6,402.5 179.1,399.6 179.5,400.0 180.0,401.5 180.5,403.6 180.9,404.1 181.4,404.2 181.8,401.8 182.3,406.4 182.7,402.8 183.2,401.1 183.7,401.7 184.1,403.2 184.6,400.0 185.0,400.2 185.5,397.6 185.9,396.5 186.4,398.7 186.8,402.0 187.3,399.1 187.8,400.3 188.2,397.5 188.7,395.8 189.1,398.0 189.6,395.1 190.0,395.9 190.5,397.3 190.9,399.8 191.4,398.0 191.9,400.6 192.3,396.3 192.8,397.8 193.2,395.7 193.7,397.4 194.1,401.1 194.6,396.7 195.1,396.2 195.5,394.9 196.0,399.3 196.4,399.2 196.9,397.5 197.3,399.3 197.8,399.8 198.2,399.3 198.7,393.1 199.2,398.5 199.6,399.1 200.1,398.1 200.5,397.3 201.0,395.1 201.4,395.7 201.9,395.9 202.3,397.1 202.8,396.9 203.3,398.2 203.7,399.6 204.2,393.6 204.6,397.7 205.1,395.2 205.5,397.4 206.0,397.0 206.5,397.1 206.9,399.1 207.4,396.9 207.8,396.0 208.3,395.2 208.7,395.8 209.2,394.8 209.6,396.0 210.1,396.5 210.6,399.7 211.0,397.3 211.5,393.7 211.9,396.1 212.4,394.9 212.8,396.6 213.3,397.3 213.7,392.7 214.2,395.5 214.7,393.6 215.1,395.1 215.6,396.5 216.0,399.7 216.5,395.8 216.9,398.5 217.4,399.6 217.9,393.7 218.3,394.5 218.8,394.6 219.2,395.6 219.7,395.7 220.1,394.9 220.6,395.3 221.0,395.4 221.5,394.2 222.0,399.6 222.4,393.9 222.9,396.4 223.3,393.9 223.8,393.3 224.2,396.6 224.7,393.9 225.1,393.8 225.6,396.3 226.1,396.0 226.5,394.9 227.0,398.8 227.4,395.8 227.9,394.7 228.3,395.7 228.8,397.6 229.3,395.5 229.7,392.3 230.2,392.6 230.6,395.0 231.1,396.1 231.5,394.7 232.0,394.6 232.4,395.7 232.9,395.1 233.4,393.5 233.8,392.9 234.3,398.5 234.7,392.7 235.2,394.1 235.6,392.4 236.1,394.3 236.5,393.5 237.0,391.4 237.5,399.1 237.9,391.4 238.4,393.7 238.8,397.1 239.3,398.5 239.7,393.4 240.2,395.6 240.7,392.2 241.1,393.5 241.6,394.0 242.0,392.1 242.5,393.4 242.9,392.4 243.4,392.2 243.8,393.0 244.3,392.2 244.8,392.2 245.2,395.7 245.7,393.9 246.1,393.6 246.6,394.0 247.0,395.9 247.5,394.2 247.9,392.6 248.4,392.8 248.9,390.6 249.3,394.1 249.8,393.8 250.2,394.0 250.7,393.5 251.1,393.9 251.6,396.0 252.1,392.2 252.5,391.1 253.0,390.9 253.4,394.5 253.9,393.0 254.3,389.5 254.8,392.8 255.2,391.9 255.7,392.7 255.7,396.4 255.2,395.6 254.8,396.5 254.3,393.2 253.9,396.7 253.4,398.2 253.0,394.6 252.5,394.8 252.1,395.9 251.6,399.7 251.1,397.6 250.7,397.2 250.2,397.6 249.8,397.5 249.3,397.8 248.9,394.2 248.4,396.5 247.9,396.3 247.5,397.9 247.0,399.6 246.6,397.7 246.1,397.3 245.7,397.6 245.2,399.4 244.8,395.9 244.3,395.9 243.8,396.7 243.4,395.9 242.9,396.1 242.5,397.1 242.0,395.8 241.6,397.7 241.1,397.1 240.7,395.9 240.2,399.3 239.7,397.1 239.3,402.2 238.8,400.8 238.4,397.4 237.9,395.1 237.5,402.8 237.0,395.1 236.5,397.2 236.1,398.0 235.6,396.1 235.2,397.8 234.7,396.4 234.3,402.2 233.8,396.6 233.4,397.2 232.9,398.8 232.4,399.4 232.0,398.3 231.5,398.4 231.1,399.8 230.6,398.7 230.2,396.3 229.7,396.0 229.3,399.2 228.8,401.3 228.3,399.4 227.9,398.4 227.4,399.5 227.0,402.5 226.5,398.6 226.1,399.7 225.6,400.0 225.1,397.5 224.7,397.6 224.2,400.3 223.8,397.0 223.3,397.6 222.9,400.1 222.4,397.6 222.0,403.3 221.5,397.9 221.0,399.1 220.6,399.0 220.1,398.6 219.7,399.4 219.2,399.3 218.8,398.3 218.3,398.2 217.9,397.4 217.4,403.3 216.9,402.2 216.5,399.5 216.0,403.4 215.6,400.2 215.1,398.8 214.7,397.3 214.2,399.2 213.7,396.4 213.3,401.0 212.8,400.3 212.4,398.6 211.9,399.8 211.5,397.4 211.0,401.0 210.6,403.4 210.1,400.2 209.6,399.7 209.2,398.5 208.7,399.5 208.3,398.9 207.8,399.7 207.4,400.5 206.9,402.8 206.5,400.8 206.0,400.7 205.5,401.1 205.1,398.9 204.6,401.4 204.2,397.3 203.7,403.3 203.3,401.9 202.8,400.6 202.3,400.8 201.9,399.6 201.4,399.4 201.0,398.8 200.5,401.0 200.1,401.8 199.6,402.8 199.2,402.2 198.7,396.8 198.2,403.0 197.8,403.5 197.3,403.0 196.9,401.2 196.4,402.9 196.0,403.0 195.5,398.6 195.1,399.9 194.6,400.4 194.1,404.8 193.7,401.1 193.2,399.4 192.8,401.5 192.3,400.0 191.9,404.3 191.4,401.7 190.9,403.5 190.5,401.0 190.0,399.6 189.6,398.8 189.1,401.7 188.7,399.5 188.2,401.2 187.8,404.0 187.3,402.8 186.8,405.7 186.4,402.4 185.9,400.2 185.5,401.3 185.0,403.9 184.6,403.7 184.1,406.9 183.7,405.4 183.2,404.8 182.7,406.5 182.3,410.1 181.8,405.5 181.4,407.9 180.9,407.8 180.5,407.4 180.0,405.2 179.5,403.8 179.1,403.3 178.6,406.2 178.2,399.3 177.7,403.3 177.3,401.4 176.8,398.7 176.4,401.7 175.9,400.3 175.4,400.1 175.0,397.2 174.5,395.9 174.1,390.4 173.6,390.3 173.2,388.3 172.7,384.7 172.3,383.4 171.8,377.7 171.3,372.8 170.9,370.3 170.4,368.3 170.0,364.5 169.5,361.2 169.1,358.6 168.6,357.1 168.1,356.5 167.7,353.4 167.2,353.5 166.8,355.4 166.3,355.0 165.9,358.9 165.4,356.1 165.0,362.8 164.5,365.8 164.0,366.5 163.6,368.4 163.1,369.1 162.7,375.0 162.2,376.4 161.8,379.3 161.3,383.0 160.9,383.6 160.4,386.5 159.9,390.6 159.5,391.4 159.0,392.7 158.6,396.8 158.1,398.8 157.7,399.1 157.2,401.2 156.7,399.7 156.3,404.2 155.8,407.8 155.4,406.6 154.9,401.8 154.5,408.6 154.0,410.2 153.6,407.7 153.1,406.7 152.6,408.4 152.2,405.9 151.7,405.6 151.3,406.2 150.8,406.7 150.4,406.4 149.9,407.6 149.5,408.9 149.0,411.1 148.5,408.3 148.1,408.5 147.6,409.1 147.2,411.2 146.7,411.2 146.3,410.6 145.8,410.0 145.3,412.2 144.9,408.3 144.4,410.9 144.0,412.5 143.5,410.0 143.1,409.4 142.6,410.5 142.2,410.2 141.7,409.2 141.2,410.5 140.8,413.1 140.3,411.4 139.9,411.8 139.4,413.6 139.0,415.0 138.5,410.5 138.1,412.8 137.6,411.1 137.1,411.3 136.7,412.5 136.2,411.5 135.8,410.9 135.3,411.0 134.9,414.2 134.4,413.1 133.9,412.3 133.5,409.4 133.0,413.6 132.6,415.0 132.1,412.4 131.7,413.1 131.2,413.3 130.8,407.9 130.3,412.6 129.8,411.6 129.4,414.8 128.9,413.9 128.5,411.2 128.0,411.0 127.6,414.2 127.1,412.6 126.7,410.3 126.2,411.5 125.7,410.3 125.3,415.3 124.8,411.8 124.4,413.2 123.9,409.2 123.5,411.8 123.0,413.2 122.5,412.8 122.1,411.1 121.6,412.8 121.2,413.1 120.7,413.4 120.3,414.1 119.8,412.6 119.4,414.1 118.9,416.7 118.4,413.5 118.0,414.3 117.5,412.9 117.1,411.4 116.6,415.5 116.2,411.9 115.7,412.7 115.3,413.6 114.8,413.9 114.3,411.2 113.9,415.8 113.4,412.2 113.0,412.5 112.5,414.5 112.1,416.3 111.6,412.0 111.1,412.0 110.7,412.4 110.2,412.2 109.8,412.3 109.3,413.0 108.9,415.4 108.4,415.3 108.0,412.5 107.5,413.1 107.0,411.4 106.6,412.3 106.1,413.4 105.7,413.6 105.2,413.7 104.8,416.3 104.3,415.7 103.9,412.2 103.4,412.3 102.9,414.4 102.5,415.4 102.0,414.3 101.6,411.8 101.1,412.9 100.7,412.7 100.2,409.4 99.7,411.5 99.3,411.5 98.8,411.7 98.4,410.9 97.9,411.7 97.5,414.8 97.0,412.4 96.6,413.4 96.1,414.9 95.6,413.4 95.2,415.0 94.7,417.8 94.3,415.3 93.8,413.7 93.4,413.8 92.9,415.1 92.5,413.4 92.0,416.0 91.5,414.4 91.1,412.1 90.6,415.1 90.2,416.2 89.7,414.9 89.3,415.6 88.8,415.3 88.3,417.3 87.9,415.9 87.4,415.9 87.0,413.4 86.5,417.4 86.1,413.4 85.6,415.8 85.2,415.0 84.7,415.5 84.2,415.4 83.8,414.5 83.3,414.9 82.9,414.3 82.4,412.2 82.0,411.9 81.5,412.6 81.1,410.6 80.6,410.3 80.1,408.4 79.7,412.5 79.2,410.4 78.8,413.4 78.3,408.8 77.9,409.2 77.4,406.9 76.9,408.3 76.5,409.8 76.0,408.1 75.6,408.6 75.1,404.3 74.7,406.4 74.2,406.8 73.8,406.8 73.3,409.1" fill="#ff7070" opacity="0.55"/>
<polyline points="73.3,408.3 73.8,406.0 74.2,406.0 74.7,405.5 75.1,403.5 75.6,407.7 76.0,407.3 76.5,408.9 76.9,407.4 77.4,406.1 77.9,408.3 78.3,408.0 78.8,412.5 79.2,409.5 79.7,411.7 80.1,407.5 80.6,409.4 81.1,409.7 81.5,411.8 82.0,411.1 82.4,411.4 82.9,413.4 83.3,414.1 83.8,413.7 84.2,414.6 84.7,414.6 85.2,414.2 85.6,415.0 86.1,412.5 86.5,416.6 87.0,412.6 87.4,415.1 87.9,415.0 88.3,416.4 88.8,414.5 89.3,414.7 89.7,414.0 90.2,415.3 90.6,414.3 91.1,411.3 91.5,413.6 92.0,415.1 92.5,412.5 92.9,414.2 93.4,412.9 93.8,412.8 94.3,414.4 94.7,416.9 95.2,414.2 95.6,412.6 96.1,414.1 96.6,412.6 97.0,411.5 97.5,414.0 97.9,410.9 98.4,410.1 98.8,410.9 99.3,410.6 99.7,410.6 100.2,408.5 100.7,411.9 101.1,412.1 101.6,410.9 102.0,413.4 102.5,414.6 102.9,413.5 103.4,411.5 103.9,411.4 104.3,414.8 104.8,415.5 105.2,412.9 105.7,412.7 106.1,412.6 106.6,411.4 107.0,410.5 107.5,412.3 108.0,411.6 108.4,414.5 108.9,414.6 109.3,412.2 109.8,411.4 110.2,411.3 110.7,411.5 111.1,411.2 111.6,411.1 112.1,415.4 112.5,413.7 113.0,411.7 113.4,411.4 113.9,414.9 114.3,410.4 114.8,413.1 115.3,412.7 115.7,411.8 116.2,411.0 116.6,414.7 117.1,410.6 117.5,412.1 118.0,413.5 118.4,412.6 118.9,415.8 119.4,413.2 119.8,411.8 120.3,413.3 120.7,412.6 121.2,412.3 121.6,411.9 122.1,410.2 122.5,412.0 123.0,412.3 123.5,411.0 123.9,408.4 124.4,412.4 124.8,410.9 125.3,414.4 125.7,409.5 126.2,410.6 126.7,409.4 127.1,411.7 127.6,413.4 128.0,410.1 128.5,410.3 128.9,413.0 129.4,414.0 129.8,410.7 130.3,411.7 130.8,407.0 131.2,412.4 131.7,412.3 132.1,411.5 132.6,414.1 133.0,412.8 133.5,408.5 133.9,411.5 134.4,412.2 134.9,413.3 135.3,410.2 135.8,410.0 136.2,410.6 136.7,411.7 137.1,410.4 137.6,410.2 138.1,411.9 138.5,409.6 139.0,414.2 139.4,412.7 139.9,411.0 140.3,410.6 140.8,412.3 141.2,409.7 141.7,408.4 142.2,409.3 142.6,409.6 143.1,408.5 143.5,409.2 144.0,411.7 144.4,410.0 144.9,407.4 145.3,411.4 145.8,409.1 146.3,409.7 146.7,410.3 147.2,410.3 147.6,408.2 148.1,407.7 148.5,407.5 149.0,410.2 149.5,408.1 149.9,406.8 150.4,405.6 150.8,405.8 151.3,405.3 151.7,404.7 152.2,405.0 152.6,407.6 153.1,405.9 153.6,406.9 154.0,409.3 154.5,407.8 154.9,400.9 155.4,405.7 155.8,406.9 156.3,403.3 156.7,398.8 157.2,400.3 157.7,398.2 158.1,397.8 158.6,395.8 159.0,391.5 159.5,390.2 159.9,389.3 160.4,385.0 160.9,381.9 161.3,381.2 161.8,377.3 162.2,374.1 162.7,372.5 163.1,366.2 163.6,365.3 164.0,363.1 164.5,362.1 165.0,358.9 165.4,352.0 165.9,354.7 166.3,350.7 166.8,351.1 167.2,349.2 167.7,349.2 168.1,352.4 168.6,353.2 169.1,354.9 169.5,357.8 170.0,361.3 170.4,365.5 170.9,367.8 171.3,370.5 171.8,375.7 172.3,381.5 172.7,383.1 173.2,386.8 173.6,389.0 174.1,389.2 174.5,394.7 175.0,396.2 175.4,399.1 175.9,399.3 176.4,400.7 176.8,397.8 177.3,400.5 177.7,402.4 178.2,398.5 178.6,405.3 179.1,402.4 179.5,402.9 180.0,404.4 180.5,406.5 180.9,407.0 181.4,407.1 181.8,404.6 182.3,409.3 182.7,405.6 183.2,403.9 183.7,404.6 184.1,406.0 184.6,402.8 185.0,403.1 185.5,400.4 185.9,399.4 186.4,401.6 186.8,404.9 187.3,401.9 187.8,403.1 188.2,400.4 188.7,398.6 189.1,400.9 189.6,398.0 190.0,398.8 190.5,400.1 190.9,402.7 191.4,400.8 191.9,403.4 192.3,399.2 192.8,400.7 193.2,398.5 193.7,400.3 194.1,404.0 194.6,399.6 195.1,399.0 195.5,397.8 196.0,402.2 196.4,402.0 196.9,400.3 197.3,402.2 197.8,402.7 198.2,402.2 198.7,395.9 199.2,401.3 199.6,401.9 200.1,400.9 200.5,400.2 201.0,398.0 201.4,398.5 201.9,398.7 202.3,399.9 202.8,399.7 203.3,401.0 203.7,402.4 204.2,396.4 204.6,400.6 205.1,398.1 205.5,400.3 206.0,399.8 206.5,399.9 206.9,401.9 207.4,399.7 207.8,398.9 208.3,398.1 208.7,398.6 209.2,397.7 209.6,398.9 210.1,399.3 210.6,402.6 211.0,400.1 211.5,396.6 211.9,399.0 212.4,397.8 212.8,399.4 213.3,400.2 213.7,395.6 214.2,398.4 214.7,396.4 215.1,398.0 215.6,399.3 216.0,402.6 216.5,398.6 216.9,401.3 217.4,402.4 217.9,396.5 218.3,397.4 218.8,397.5 219.2,398.4 219.7,398.5 220.1,397.7 220.6,398.1 221.0,398.2 221.5,397.1 222.0,402.4 222.4,396.7 222.9,399.3 223.3,396.7 223.8,396.1 224.2,399.5 224.7,396.7 225.1,396.7 225.6,399.2 226.1,398.9 226.5,397.7 227.0,401.6 227.4,398.6 227.9,397.5 228.3,398.5 228.8,400.4 229.3,398.4 229.7,395.1 230.2,395.4 230.6,397.8 231.1,398.9 231.5,397.5 232.0,397.5 232.4,398.6 232.9,398.0 233.4,396.3 233.8,395.7 234.3,401.4 234.7,395.6 235.2,397.0 235.6,395.2 236.1,397.1 236.5,396.3 237.0,394.3 237.5,402.0 237.9,394.3 238.4,396.6 238.8,399.9 239.3,401.3 239.7,396.3 240.2,398.5 240.7,395.0 241.1,396.3 241.6,396.8 242.0,394.9 242.5,396.2 242.9,395.2 243.4,395.1 243.8,395.9 244.3,395.0 244.8,395.0 245.2,398.6 245.7,396.7 246.1,396.4 246.6,396.8 247.0,398.8 247.5,397.0 247.9,395.5 248.4,395.7 248.9,393.4 249.3,396.9 249.8,396.6 250.2,396.8 250.7,396.3 251.1,396.8 251.6,398.9 252.1,395.1 252.5,394.0 253.0,393.7 253.4,397.4 253.9,395.8 254.3,392.4 254.8,395.6 255.2,394.8 255.7,395.6" fill="none" stroke="#ff0000" stroke-width="1.5" stroke-linejoin="round"/>
<polygon points="73.3,414.2 73.8,411.9 74.2,411.6 74.7,413.7 75.1,412.8 75.6,412.4 76.0,409.4 76.5,408.1 76.9,403.4 77.4,402.4 77.9,393.1 78.3,393.0 78.8,392.6 79.2,397.4 79.7,402.4 80.1,405.3 80.6,408.4 81.1,412.1 81.5,413.5 82.0,413.4 82.4,416.5 82.9,418.2 83.3,415.7 83.8,417.1 84.2,418.8 84.7,417.1 85.2,416.5 85.6,417.5 86.1,417.8 86.5,415.5 87.0,414.2 87.4,415.7 87.9,416.3 88.3,414.5 88.8,413.9 89.3,415.2 89.7,413.8 90.2,412.9 90.6,414.6 91.1,415.3 91.5,413.5 92.0,413.4 92.5,412.1 92.9,415.3 93.4,414.3 93.8,414.4 94.3,415.5 94.7,412.7 95.2,412.0 95.6,413.6 96.1,410.4 96.6,411.1 97.0,411.3 97.5,411.5 97.9,410.6 98.4,413.8 98.8,410.9 99.3,410.8 99.7,414.0 100.2,410.8 100.7,411.2 101.1,408.7 101.6,408.3 102.0,404.2 102.5,399.0 102.9,396.2 103.4,391.6 103.9,393.5 104.3,396.3 104.8,402.5 105.2,404.4 105.7,407.9 106.1,410.4 106.6,409.9 107.0,409.2 107.5,408.5 108.0,413.3 108.4,409.9 108.9,410.5 109.3,411.2 109.8,412.5 110.2,409.3 110.7,412.9 111.1,410.3 111.6,409.3 112.1,413.4 112.5,411.5 113.0,413.0 113.4,410.8 113.9,409.0 114.3,408.2 114.8,413.6 115.3,411.9 115.7,410.1 116.2,408.9 116.6,410.5 117.1,412.2 117.5,410.7 118.0,411.1 118.4,411.4 118.9,412.2 119.4,410.5 119.8,410.6 120.3,411.1 120.7,411.3 121.2,412.8 121.6,411.6 122.1,409.1 122.5,411.1 123.0,412.8 123.5,408.9 123.9,410.0 124.4,407.7 124.8,410.6 125.3,411.3 125.7,412.6 126.2,408.7 126.7,406.8 127.1,411.6 127.6,411.3 128.0,409.5 128.5,411.5 128.9,410.7 129.4,410.8 129.8,410.0 130.3,408.7 130.8,410.1 131.2,408.8 131.7,410.7 132.1,409.6 132.6,413.1 133.0,412.1 133.5,408.8 133.9,410.8 134.4,409.1 134.9,409.1 135.3,407.9 135.8,408.6 136.2,408.3 136.7,409.9 137.1,410.7 137.6,410.7 138.1,410.3 138.5,411.2 139.0,410.3 139.4,409.6 139.9,409.1 140.3,409.9 140.8,412.1 141.2,409.4 141.7,409.0 142.2,407.7 142.6,408.4 143.1,410.1 143.5,410.1 144.0,406.2 144.4,407.9 144.9,406.3 145.3,405.9 145.8,410.0 146.3,408.2 146.7,408.1 147.2,407.9 147.6,407.9 148.1,408.3 148.5,408.3 149.0,410.6 149.5,408.7 149.9,409.4 150.4,408.1 150.8,408.9 151.3,407.3 151.7,407.0 152.2,407.7 152.6,407.6 153.1,407.9 153.6,408.6 154.0,408.1 154.5,408.5 154.9,407.2 155.4,407.6 155.8,406.8 156.3,409.4 156.7,406.2 157.2,408.5 157.7,408.3 158.1,407.5 158.6,407.9 159.0,406.6 159.5,407.7 159.9,408.3 160.4,407.7 160.9,404.3 161.3,405.7 161.8,406.9 162.2,404.6 162.7,406.1 163.1,400.3 163.6,403.8 164.0,399.4 164.5,397.3 165.0,397.9 165.4,392.7 165.9,388.3 166.3,385.0 166.8,380.5 167.2,374.1 167.7,368.9 168.1,361.7 168.6,354.6 169.1,345.2 169.5,338.5 170.0,326.9 170.4,319.4 170.9,311.2 171.3,300.7 171.8,291.5 172.3,286.7 172.7,284.9 173.2,281.4 173.6,284.2 174.1,288.9 174.5,297.5 175.0,312.4 175.4,322.1 175.9,337.6 176.4,350.6 176.8,364.0 177.3,374.7 177.7,382.7 178.2,387.2 178.6,391.3 179.1,397.6 179.5,398.8 180.0,402.5 180.5,406.1 180.9,403.9 181.4,403.9 181.8,405.5 182.3,404.6 182.7,404.3 183.2,406.3 183.7,407.2 184.1,405.5 184.6,405.5 185.0,405.7 185.5,403.7 185.9,402.6 186.4,405.6 186.8,403.9 187.3,403.5 187.8,403.8 188.2,403.3 188.7,405.2 189.1,403.6 189.6,401.7 190.0,403.4 190.5,405.3 190.9,403.5 191.4,402.5 191.9,403.7 192.3,405.0 192.8,401.9 193.2,405.9 193.7,403.3 194.1,404.0 194.6,405.6 195.1,402.1 195.5,403.3 196.0,405.4 196.4,402.8 196.9,404.2 197.3,406.2 197.8,404.5 198.2,403.0 198.7,402.5 199.2,403.1 199.6,403.2 200.1,402.5 200.5,403.4 201.0,401.4 201.4,402.8 201.9,402.6 202.3,402.2 202.8,404.4 203.3,403.8 203.7,400.6 204.2,402.3 204.6,403.1 205.1,402.1 205.5,403.3 206.0,402.1 206.5,403.4 206.9,402.0 207.4,404.6 207.8,400.4 208.3,403.0 208.7,404.5 209.2,402.5 209.6,402.6 210.1,401.8 210.6,403.6 211.0,401.4 211.5,396.8 211.9,403.7 212.4,401.3 212.8,402.2 213.3,401.4 213.7,404.2 214.2,403.2 214.7,400.9 215.1,401.5 215.6,399.1 216.0,402.4 216.5,401.1 216.9,397.1 217.4,402.3 217.9,402.5 218.3,401.2 218.8,401.1 219.2,399.8 219.7,400.8 220.1,402.0 220.6,400.6 221.0,397.1 221.5,399.0 222.0,404.7 222.4,400.9 222.9,401.8 223.3,399.7 223.8,400.7 224.2,397.7 224.7,399.1 225.1,399.1 225.6,400.0 226.1,400.3 226.5,399.7 227.0,398.3 227.4,399.3 227.9,400.5 228.3,398.1 228.8,399.6 229.3,399.9 229.7,400.9 230.2,400.5 230.6,400.6 231.1,403.6 231.5,398.1 232.0,398.7 232.4,399.7 232.9,397.9 233.4,398.7 233.8,398.8 234.3,402.7 234.7,399.5 235.2,398.4 235.6,396.8 236.1,396.4 236.5,396.9 237.0,400.5 237.5,402.0 237.9,398.0 238.4,398.7 238.8,397.3 239.3,398.8 239.7,398.1 240.2,400.4 240.7,397.2 241.1,397.8 241.6,395.6 242.0,393.7 242.5,392.2 242.9,388.7 243.4,386.0 243.8,381.9 244.3,380.0 244.8,380.3 245.2,380.7 245.7,379.1 246.1,384.3 246.6,385.9 247.0,389.7 247.5,393.6 247.9,395.8 248.4,395.9 248.9,396.5 249.3,396.4 249.8,399.3 250.2,398.4 250.7,397.6 251.1,395.2 251.6,400.7 252.1,396.7 252.5,398.0 253.0,396.5 253.4,397.7 253.9,396.4 254.3,394.7 254.8,396.3 255.2,396.1 255.7,396.1 255.7,399.1 255.2,399.1 254.8,399.3 254.3,397.7 253.9,399.5 253.4,400.8 253.0,399.5 252.5,401.0 252.1,399.7 251.6,403.8 251.1,398.2 250.7,400.7 250.2,401.5 249.8,402.4 249.3,399.7 248.9,399.9 248.4,399.7 247.9,400.2 247.5,398.7 247.0,395.7 246.6,393.0 246.1,392.5 245.7,388.1 245.2,390.3 244.8,390.1 244.3,389.3 243.8,390.5 243.4,393.6 242.9,395.3 242.5,397.8 242.0,398.4 241.6,399.6 241.1,401.4 240.7,400.6 240.2,403.6 239.7,401.2 239.3,401.8 238.8,400.3 238.4,401.7 237.9,401.0 237.5,405.0 237.0,403.6 236.5,399.9 236.1,399.4 235.6,399.8 235.2,401.4 234.7,402.5 234.3,405.8 233.8,401.8 233.4,401.7 232.9,400.9 232.4,402.8 232.0,401.7 231.5,401.1 231.1,406.6 230.6,403.6 230.2,403.6 229.7,403.9 229.3,403.0 228.8,402.6 228.3,401.2 227.9,403.5 227.4,402.3 227.0,401.3 226.5,402.7 226.1,403.3 225.6,403.0 225.1,402.1 224.7,402.1 224.2,400.7 223.8,403.8 223.3,402.7 222.9,404.9 222.4,403.9 222.0,407.7 221.5,402.0 221.0,400.1 220.6,403.6 220.1,405.0 219.7,403.8 219.2,402.9 218.8,404.2 218.3,404.2 217.9,405.5 217.4,405.3 216.9,400.2 216.5,404.1 216.0,405.4 215.6,402.1 215.1,404.6 214.7,403.9 214.2,406.3 213.7,407.3 213.3,404.5 212.8,405.2 212.4,404.3 211.9,406.7 211.5,399.8 211.0,404.4 210.6,406.7 210.1,404.9 209.6,405.7 209.2,405.5 208.7,407.5 208.3,406.0 207.8,403.5 207.4,407.6 206.9,405.1 206.5,406.4 206.0,405.2 205.5,406.3 205.1,405.2 204.6,406.1 204.2,405.3 203.7,403.6 203.3,406.9 202.8,407.4 202.3,405.2 201.9,405.6 201.4,405.9 201.0,404.4 200.5,406.5 200.1,405.6 199.6,406.2 199.2,406.1 198.7,405.5 198.2,406.1 197.8,407.5 197.3,409.3 196.9,407.2 196.4,405.8 196.0,408.4 195.5,406.3 195.1,405.1 194.6,408.6 194.1,407.0 193.7,406.3 193.2,408.9 192.8,405.0 192.3,408.0 191.9,406.8 191.4,405.6 190.9,406.5 190.5,408.3 190.0,406.4 189.6,404.7 189.1,406.6 188.7,408.3 188.2,406.3 187.8,406.8 187.3,406.6 186.8,407.0 186.4,408.6 185.9,405.6 185.5,406.7 185.0,408.7 184.6,408.5 184.1,408.5 183.7,410.3 183.2,409.4 182.7,407.3 182.3,407.6 181.8,408.5 181.4,407.0 180.9,406.9 180.5,409.1 180.0,405.6 179.5,402.0 179.1,401.0 178.6,395.0 178.2,391.4 177.7,387.7 177.3,380.8 176.8,371.6 176.4,360.2 175.9,349.6 175.4,336.7 175.0,329.7 174.5,317.2 174.1,310.7 173.6,307.1 173.2,304.6 172.7,307.3 172.3,307.5 171.8,310.1 171.3,316.7 170.9,324.5 170.4,330.1 170.0,335.4 169.5,345.3 169.1,350.6 168.6,359.1 168.1,365.6 167.7,372.4 167.2,377.4 166.8,383.7 166.3,388.1 165.9,391.4 165.4,395.7 165.0,401.0 164.5,400.4 164.0,402.4 163.6,406.8 163.1,403.4 162.7,409.1 162.2,407.7 161.8,409.9 161.3,408.7 160.9,407.3 160.4,410.7 159.9,411.3 159.5,410.8 159.0,409.6 158.6,411.0 158.1,410.5 157.7,411.4 157.2,411.5 156.7,409.2 156.3,412.4 155.8,409.8 155.4,410.7 154.9,410.2 154.5,411.5 154.0,411.1 153.6,411.6 153.1,410.9 152.6,410.6 152.2,410.7 151.7,410.0 151.3,410.4 150.8,412.0 150.4,411.2 149.9,412.5 149.5,411.7 149.0,413.6 148.5,411.3 148.1,411.3 147.6,410.9 147.2,410.9 146.7,411.1 146.3,411.3 145.8,413.0 145.3,408.9 144.9,409.4 144.4,410.9 144.0,409.2 143.5,413.2 143.1,413.1 142.6,411.4 142.2,410.7 141.7,412.0 141.2,412.5 140.8,415.1 140.3,412.9 139.9,412.1 139.4,412.6 139.0,413.3 138.5,414.2 138.1,413.3 137.6,413.7 137.1,413.7 136.7,412.9 136.2,411.3 135.8,411.6 135.3,411.0 134.9,412.1 134.4,412.1 133.9,413.8 133.5,411.8 133.0,415.1 132.6,416.1 132.1,412.6 131.7,413.7 131.2,411.9 130.8,413.2 130.3,411.7 129.8,413.0 129.4,413.8 128.9,413.7 128.5,414.6 128.0,412.6 127.6,414.4 127.1,414.7 126.7,409.9 126.2,411.7 125.7,415.7 125.3,414.3 124.8,413.6 124.4,410.7 123.9,413.0 123.5,411.9 123.0,415.9 122.5,414.1 122.1,412.2 121.6,414.6 121.2,415.8 120.7,414.3 120.3,414.2 119.8,413.6 119.4,413.6 118.9,415.2 118.4,414.4 118.0,414.2 117.5,413.7 117.1,415.2 116.6,413.5 116.2,411.9 115.7,413.1 115.3,415.0 114.8,416.7 114.3,411.3 113.9,412.0 113.4,413.8 113.0,416.0 112.5,414.6 112.1,416.4 111.6,412.3 111.1,413.3 110.7,415.9 110.2,412.4 109.8,415.6 109.3,414.3 108.9,413.5 108.4,412.9 108.0,416.4 107.5,411.6 107.0,412.3 106.6,413.2 106.1,414.1 105.7,412.3 105.2,410.2 104.8,410.1 104.3,405.9 103.9,404.5 103.4,403.0 102.9,406.6 102.5,407.6 102.0,410.8 101.6,413.4 101.1,412.7 100.7,414.6 100.2,414.0 99.7,417.1 99.3,413.8 98.8,413.9 98.4,416.8 97.9,413.7 97.5,414.5 97.0,414.3 96.6,414.2 96.1,413.5 95.6,416.6 95.2,415.0 94.7,415.7 94.3,418.5 93.8,417.4 93.4,417.3 92.9,418.3 92.5,415.1 92.0,416.5 91.5,416.5 91.1,418.3 90.6,417.6 90.2,416.0 89.7,416.8 89.3,418.2 88.8,416.9 88.3,417.5 87.9,419.3 87.4,418.7 87.0,417.3 86.5,418.6 86.1,420.8 85.6,420.5 85.2,419.6 84.7,420.1 84.2,421.8 83.8,420.1 83.3,418.7 82.9,421.3 82.4,419.5 82.0,416.5 81.5,416.8 81.1,415.8 80.6,412.8 80.1,411.1 79.7,410.0 79.2,407.0 78.8,403.7 78.3,404.4 77.9,403.5 77.4,411.0 76.9,410.0 76.5,413.1 76.0,413.4 75.6,415.8 75.1,416.0 74.7,416.7 74.2,414.7 73.8,414.9 73.3,417.2" fill="#7070ff" opacity="0.55"/>
<polyline points="73.3,416.5 73.8,414.2 74.2,414.0 74.7,416.0 75.1,415.2 75.6,415.0 76.0,412.5 76.5,412.0 76.9,408.5 77.4,409.1 77.9,401.1 78.3,401.7 78.8,401.2 79.2,404.8 79.7,408.3 80.1,409.8 80.6,411.8 81.1,414.9 81.5,416.0 82.0,415.7 82.4,418.8 82.9,420.6 83.3,418.0 83.8,419.4 84.2,421.1 84.7,419.4 85.2,418.9 85.6,419.8 86.1,420.1 86.5,417.9 87.0,416.6 87.4,418.0 87.9,418.6 88.3,416.8 88.8,416.2 89.3,417.5 89.7,416.1 90.2,415.3 90.6,416.9 91.1,417.6 91.5,415.8 92.0,415.8 92.5,414.4 92.9,417.6 93.4,416.6 93.8,416.7 94.3,417.8 94.7,415.0 95.2,414.3 95.6,415.9 96.1,412.8 96.6,413.5 97.0,413.6 97.5,413.9 97.9,413.0 98.4,416.1 98.8,413.2 99.3,413.1 99.7,416.4 100.2,413.2 100.7,413.8 101.1,411.8 101.6,412.2 102.0,409.3 102.5,405.6 102.9,404.2 103.4,400.4 103.9,402.0 104.3,403.7 104.8,408.4 105.2,408.9 105.7,411.3 106.1,413.2 106.6,412.4 107.0,411.6 107.5,410.9 108.0,415.7 108.4,412.2 108.9,412.8 109.3,413.6 109.8,414.9 110.2,411.7 110.7,415.2 111.1,412.6 111.6,411.6 112.1,415.7 112.5,413.9 113.0,415.3 113.4,413.1 113.9,411.3 114.3,410.6 114.8,416.0 115.3,414.3 115.7,412.4 116.2,411.2 116.6,412.8 117.1,414.5 117.5,413.0 118.0,413.5 118.4,413.7 118.9,414.5 119.4,412.9 119.8,412.9 120.3,413.5 120.7,413.6 121.2,415.1 121.6,413.9 122.1,411.5 122.5,413.4 123.0,415.2 123.5,411.2 123.9,412.3 124.4,410.0 124.8,412.9 125.3,413.6 125.7,415.0 126.2,411.0 126.7,409.2 127.1,414.0 127.6,413.7 128.0,411.9 128.5,413.9 128.9,413.0 129.4,413.1 129.8,412.3 130.3,411.0 130.8,412.5 131.2,411.2 131.7,413.0 132.1,411.9 132.6,415.4 133.0,414.4 133.5,411.1 133.9,413.1 134.4,411.4 134.9,411.4 135.3,410.3 135.8,410.9 136.2,410.6 136.7,412.2 137.1,413.0 137.6,413.0 138.1,412.6 138.5,413.5 139.0,412.6 139.4,411.9 139.9,411.4 140.3,412.2 140.8,414.4 141.2,411.8 141.7,411.3 142.2,410.0 142.6,410.7 143.1,412.4 143.5,412.5 144.0,408.5 144.4,410.2 144.9,408.7 145.3,408.2 145.8,412.3 146.3,410.6 146.7,410.4 147.2,410.2 147.6,410.2 148.1,410.6 148.5,410.6 149.0,412.9 149.5,411.0 149.9,411.8 150.4,410.5 150.8,411.3 151.3,409.7 151.7,409.3 152.2,410.0 152.6,409.9 153.1,410.2 153.6,410.9 154.0,410.4 154.5,410.8 154.9,409.5 155.4,410.0 155.8,409.1 156.3,411.7 156.7,408.5 157.2,410.8 157.7,410.7 158.1,409.8 158.6,410.3 159.0,408.9 159.5,410.1 159.9,410.6 160.4,410.0 160.9,406.6 161.3,408.0 161.8,409.2 162.2,407.0 162.7,408.4 163.1,402.7 163.6,406.1 164.0,401.7 164.5,399.7 165.0,400.3 165.4,395.0 165.9,390.6 166.3,387.4 166.8,383.0 167.2,376.6 167.7,371.6 168.1,364.7 168.6,358.1 169.1,349.4 169.5,343.7 170.0,333.4 170.4,327.7 170.9,321.4 171.3,313.0 171.8,305.8 172.3,302.7 172.7,302.1 173.2,299.2 173.6,301.8 174.1,305.6 174.5,312.7 175.0,325.7 175.4,333.3 175.9,346.8 176.4,357.9 176.8,369.8 177.3,379.4 177.7,386.5 178.2,390.4 178.6,394.2 179.1,400.2 179.5,401.2 180.0,404.9 180.5,408.4 180.9,406.2 181.4,406.3 181.8,407.8 182.3,406.9 182.7,406.6 183.2,408.7 183.7,409.6 184.1,407.8 184.6,407.8 185.0,408.0 185.5,406.0 185.9,404.9 186.4,407.9 186.8,406.3 187.3,405.9 187.8,406.1 188.2,405.6 188.7,407.6 189.1,405.9 189.6,404.0 190.0,405.7 190.5,407.6 190.9,405.8 191.4,404.9 191.9,406.1 192.3,407.3 192.8,404.3 193.2,408.2 193.7,405.6 194.1,406.3 194.6,407.9 195.1,404.4 195.5,405.6 196.0,407.7 196.4,405.1 196.9,406.5 197.3,408.6 197.8,406.8 198.2,405.4 198.7,404.8 199.2,405.4 199.6,405.5 200.1,404.9 200.5,405.8 201.0,403.7 201.4,405.2 201.9,404.9 202.3,404.5 202.8,406.7 203.3,406.2 203.7,402.9 204.2,404.6 204.6,405.4 205.1,404.5 205.5,405.6 206.0,404.5 206.5,405.7 206.9,404.4 207.4,406.9 207.8,402.8 208.3,405.3 208.7,406.8 209.2,404.8 209.6,405.0 210.1,404.2 210.6,406.0 211.0,403.7 211.5,399.1 211.9,406.0 212.4,403.7 212.8,404.5 213.3,403.8 213.7,406.6 214.2,405.6 214.7,403.2 215.1,403.9 215.6,401.4 216.0,404.7 216.5,403.4 216.9,399.5 217.4,404.7 217.9,404.8 218.3,403.5 218.8,403.5 219.2,402.2 219.7,403.1 220.1,404.3 220.6,402.9 221.0,399.4 221.5,401.3 222.0,407.0 222.4,403.2 222.9,404.2 223.3,402.0 223.8,403.1 224.2,400.0 224.7,401.4 225.1,401.4 225.6,402.3 226.1,402.6 226.5,402.0 227.0,400.6 227.4,401.6 227.9,402.8 228.3,400.5 228.8,401.9 229.3,402.3 229.7,403.2 230.2,402.9 230.6,402.9 231.1,405.9 231.5,400.4 232.0,401.0 232.4,402.1 232.9,400.2 233.4,401.0 233.8,401.1 234.3,405.1 234.7,401.8 235.2,400.7 235.6,399.1 236.1,398.7 236.5,399.2 237.0,402.9 237.5,404.3 237.9,400.3 238.4,401.0 238.8,399.6 239.3,401.1 239.7,400.5 240.2,402.8 240.7,399.8 241.1,400.6 241.6,398.7 242.0,397.3 242.5,396.5 242.9,393.7 243.4,391.9 243.8,388.5 244.3,387.2 244.8,387.8 245.2,388.1 245.7,386.0 246.1,390.6 246.6,391.3 247.0,394.3 247.5,397.5 247.9,399.2 248.4,398.8 248.9,399.1 249.3,398.9 249.8,401.7 250.2,400.7 250.7,400.0 251.1,397.5 251.6,403.1 252.1,399.0 252.5,400.3 253.0,398.8 253.4,400.1 253.9,398.8 254.3,397.0 254.8,398.6 255.2,398.4 255.7,398.4" fill="none" stroke="#0000ff" stroke-width="1.5" stroke-linejoin="round"/>
<line x1="73.10" y1="257.00" x2="73.10" y2="440.20" stroke="#000" stroke-width="2.0" />
<line x1="72.10" y1="439.30" x2="256.50" y2="439.30" stroke="#000" stroke-width="2.0" />
<line x1="67.50" y1="439.30" x2="73.10" y2="439.30" stroke="#000" stroke-width="1.8" />
<text x="66.4" y="443.8" font-size="12.7" font-weight="bold" text-anchor="end" fill="#000" >0</text>
<line x1="67.50" y1="413.44" x2="73.10" y2="413.44" stroke="#000" stroke-width="1.8" />
<text x="66.4" y="417.9" font-size="12.7" font-weight="bold" text-anchor="end" fill="#000" >1000</text>
<line x1="67.50" y1="387.58" x2="73.10" y2="387.58" stroke="#000" stroke-width="1.8" />
<text x="66.4" y="392.1" font-size="12.7" font-weight="bold" text-anchor="end" fill="#000" >2000</text>
<line x1="67.50" y1="361.72" x2="73.10" y2="361.72" stroke="#000" stroke-width="1.8" />
<text x="66.4" y="366.2" font-size="12.7" font-weight="bold" text-anchor="end" fill="#000" >3000</text>
<line x1="67.50" y1="335.86" x2="73.10" y2="335.86" stroke="#000" stroke-width="1.8" />
<text x="66.4" y="340.4" font-size="12.7" font-weight="bold" text-anchor="end" fill="#000" >4000</text>
<line x1="67.50" y1="310.00" x2="73.10" y2="310.00" stroke="#000" stroke-width="1.8" />
<text x="66.4" y="314.5" font-size="12.7" font-weight="bold" text-anchor="end" fill="#000" >5000</text>
<line x1="67.50" y1="284.14" x2="73.10" y2="284.14" stroke="#000" stroke-width="1.8" />
<text x="66.4" y="288.6" font-size="12.7" font-weight="bold" text-anchor="end" fill="#000" >6000</text>
<line x1="67.50" y1="258.28" x2="73.10" y2="258.28" stroke="#000" stroke-width="1.8" />
<text x="66.4" y="262.8" font-size="12.7" font-weight="bold" text-anchor="end" fill="#000" >7000</text>
<line x1="73.30" y1="439.30" x2="73.30" y2="443.80" stroke="#000" stroke-width="1.8" />
<text x="73.3" y="456.3" font-size="13" font-weight="bold" text-anchor="middle" fill="#000" >16</text>
<line x1="96.10" y1="439.30" x2="96.10" y2="443.80" stroke="#000" stroke-width="1.8" />
<text x="96.1" y="456.3" font-size="13" font-weight="bold" text-anchor="middle" fill="#000" >18</text>
<line x1="118.90" y1="439.30" x2="118.90" y2="443.80" stroke="#000" stroke-width="1.8" />
<text x="118.9" y="456.3" font-size="13" font-weight="bold" text-anchor="middle" fill="#000" >20</text>
<line x1="141.70" y1="439.30" x2="141.70" y2="443.80" stroke="#000" stroke-width="1.8" />
<text x="141.7" y="456.3" font-size="13" font-weight="bold" text-anchor="middle" fill="#000" >22</text>
<line x1="164.50" y1="439.30" x2="164.50" y2="443.80" stroke="#000" stroke-width="1.8" />
<text x="164.5" y="456.3" font-size="13" font-weight="bold" text-anchor="middle" fill="#000" >24</text>
<line x1="187.30" y1="439.30" x2="187.30" y2="443.80" stroke="#000" stroke-width="1.8" />
<text x="187.3" y="456.3" font-size="13" font-weight="bold" text-anchor="middle" fill="#000" >26</text>
<line x1="210.10" y1="439.30" x2="210.10" y2="443.80" stroke="#000" stroke-width="1.8" />
<text x="210.1" y="456.3" font-size="13" font-weight="bold" text-anchor="middle" fill="#000" >28</text>
<line x1="232.90" y1="439.30" x2="232.90" y2="443.80" stroke="#000" stroke-width="1.8" />
<text x="232.9" y="456.3" font-size="13" font-weight="bold" text-anchor="middle" fill="#000" >30</text>
<line x1="255.70" y1="439.30" x2="255.70" y2="443.80" stroke="#000" stroke-width="1.8" />
<text x="255.7" y="456.3" font-size="13" font-weight="bold" text-anchor="middle" fill="#000" >32</text>
<text x="169.0" y="470.3" font-size="12.8" font-weight="bold" text-anchor="middle" fill="#000" >Period (h)</text>
<text x="0.0" y="0.0" font-size="18.5" font-weight="bold" text-anchor="middle" fill="#000" transform="translate(25.7,341.3) rotate(-90)">Amplitude (Qp)</text>
<text x="77.8" y="301.8" font-size="13.1" font-weight="bold" text-anchor="start" fill="#0000ff" >Period=24.65h</text>
<text x="77.0" y="349.5" font-size="13" font-weight="bold" text-anchor="start" fill="#ff0000" >Period=24.15h</text>
<rect x="356.10" y="333.20" width="38.50" height="105.20" fill="#0000ff" />
<rect x="413.20" y="373.87" width="38.50" height="64.53" fill="#ff0000" />
<line x1="375.35" y1="328.17" x2="375.35" y2="338.24" stroke="#000" stroke-width="1.5" />
<line x1="365.65" y1="328.17" x2="385.05" y2="328.17" stroke="#000" stroke-width="1.5" />
<line x1="365.65" y1="338.24" x2="385.05" y2="338.24" stroke="#000" stroke-width="1.5" />
<line x1="432.45" y1="364.14" x2="432.45" y2="383.59" stroke="#000" stroke-width="1.5" />
<line x1="422.75" y1="364.14" x2="442.15" y2="364.14" stroke="#000" stroke-width="1.5" />
<line x1="422.75" y1="383.59" x2="442.15" y2="383.59" stroke="#000" stroke-width="1.5" />
<circle cx="375.4" cy="314.0" r="2.3" fill="#000"/>
<circle cx="375.4" cy="321.5" r="2.3" fill="#000"/>
<circle cx="371.5" cy="335.7" r="2.3" fill="#000"/>
<circle cx="378.5" cy="335.7" r="2.3" fill="#000"/>
<circle cx="372.2" cy="343.5" r="2.3" fill="#000"/>
<circle cx="378.8" cy="343.5" r="2.3" fill="#000"/>
<circle cx="432.5" cy="343.3" r="2.3" fill="#000"/>
<circle cx="430.0" cy="370.0" r="2.3" fill="#000"/>
<circle cx="433.8" cy="372.0" r="2.3" fill="#000"/>
<circle cx="432.5" cy="379.0" r="2.3" fill="#000"/>
<circle cx="432.5" cy="404.0" r="2.3" fill="#000"/>
<line x1="337.10" y1="260.50" x2="337.10" y2="439.40" stroke="#000" stroke-width="1.8" />
<line x1="336.10" y1="438.40" x2="471.70" y2="438.40" stroke="#000" stroke-width="1.8" />
<line x1="332.10" y1="438.40" x2="337.10" y2="438.40" stroke="#000" stroke-width="1.5" />
<text x="329.8" y="442.8" font-size="12.3" font-weight="bold" text-anchor="end" fill="#000" >23.5</text>
<line x1="332.10" y1="394.20" x2="337.10" y2="394.20" stroke="#000" stroke-width="1.5" />
<text x="329.8" y="398.6" font-size="12.3" font-weight="bold" text-anchor="end" fill="#000" >24.0</text>
<line x1="332.10" y1="350.00" x2="337.10" y2="350.00" stroke="#000" stroke-width="1.5" />
<text x="329.8" y="354.4" font-size="12.3" font-weight="bold" text-anchor="end" fill="#000" >24.5</text>
<line x1="332.10" y1="305.80" x2="337.10" y2="305.80" stroke="#000" stroke-width="1.5" />
<text x="329.8" y="310.2" font-size="12.3" font-weight="bold" text-anchor="end" fill="#000" >25.0</text>
<line x1="332.10" y1="261.60" x2="337.10" y2="261.60" stroke="#000" stroke-width="1.5" />
<text x="329.8" y="266.0" font-size="12.3" font-weight="bold" text-anchor="end" fill="#000" >25.5</text>
<polyline points="374.7,305.8 374.7,297.8 432.5,297.8 432.5,308.0" fill="none" stroke="#000" stroke-width="1.5"/>
<text x="403.8" y="301.8" font-size="16" font-weight="bold" text-anchor="middle" fill="#000" >**</text>
<text x="0.0" y="0.0" font-size="18.5" font-weight="bold" text-anchor="middle" fill="#000" transform="translate(299.3,338.2) rotate(-90)">Period (h)</text>
<rect x="565.30" y="323.04" width="38.50" height="115.56" fill="#0000ff" />
<rect x="622.40" y="372.77" width="38.50" height="65.83" fill="#ff0000" />
<line x1="584.55" y1="311.00" x2="584.55" y2="335.09" stroke="#000" stroke-width="1.5" />
<line x1="574.85" y1="311.00" x2="594.25" y2="311.00" stroke="#000" stroke-width="1.5" />
<line x1="574.85" y1="335.09" x2="594.25" y2="335.09" stroke="#000" stroke-width="1.5" />
<line x1="641.65" y1="364.80" x2="641.65" y2="380.74" stroke="#000" stroke-width="1.5" />
<line x1="631.95" y1="364.80" x2="651.35" y2="364.80" stroke="#000" stroke-width="1.5" />
<line x1="631.95" y1="380.74" x2="651.35" y2="380.74" stroke="#000" stroke-width="1.5" />
<circle cx="584.5" cy="287.5" r="2.3" fill="#000"/>
<circle cx="584.5" cy="299.4" r="2.3" fill="#000"/>
<circle cx="584.5" cy="309.0" r="2.3" fill="#000"/>
<circle cx="584.5" cy="333.1" r="2.3" fill="#000"/>
<circle cx="584.5" cy="348.2" r="2.3" fill="#000"/>
<circle cx="584.5" cy="362.0" r="2.3" fill="#000"/>
<circle cx="641.7" cy="343.4" r="2.3" fill="#000"/>
<circle cx="641.7" cy="372.3" r="2.3" fill="#000"/>
<circle cx="628.8" cy="380.3" r="2.3" fill="#000"/>
<circle cx="641.7" cy="384.5" r="2.3" fill="#000"/>
<circle cx="654.2" cy="385.4" r="2.3" fill="#000"/>
<line x1="547.20" y1="260.80" x2="547.20" y2="439.60" stroke="#000" stroke-width="1.8" />
<line x1="546.20" y1="438.60" x2="680.20" y2="438.60" stroke="#000" stroke-width="1.8" />
<line x1="542.20" y1="438.60" x2="547.20" y2="438.60" stroke="#000" stroke-width="1.5" />
<text x="539.9" y="443.0" font-size="12.3" font-weight="bold" text-anchor="end" fill="#000" >0</text>
<line x1="542.20" y1="403.18" x2="547.20" y2="403.18" stroke="#000" stroke-width="1.5" />
<text x="539.9" y="407.6" font-size="12.3" font-weight="bold" text-anchor="end" fill="#000" >2000</text>
<line x1="542.20" y1="367.76" x2="547.20" y2="367.76" stroke="#000" stroke-width="1.5" />
<text x="539.9" y="372.2" font-size="12.3" font-weight="bold" text-anchor="end" fill="#000" >4000</text>
<line x1="542.20" y1="332.34" x2="547.20" y2="332.34" stroke="#000" stroke-width="1.5" />
<text x="539.9" y="336.7" font-size="12.3" font-weight="bold" text-anchor="end" fill="#000" >6000</text>
<line x1="542.20" y1="296.92" x2="547.20" y2="296.92" stroke="#000" stroke-width="1.5" />
<text x="539.9" y="301.3" font-size="12.3" font-weight="bold" text-anchor="end" fill="#000" >8000</text>
<line x1="542.20" y1="261.50" x2="547.20" y2="261.50" stroke="#000" stroke-width="1.5" />
<text x="539.9" y="265.9" font-size="12.3" font-weight="bold" text-anchor="end" fill="#000" >10000</text>
<polyline points="584.5,277.9 584.5,268.9 641.7,268.9 641.7,303.2" fill="none" stroke="#000" stroke-width="1.5"/>
<text x="613.3" y="272.9" font-size="16" font-weight="bold" text-anchor="middle" fill="#000" >**</text>
<text x="0.0" y="0.0" font-size="18.5" font-weight="bold" text-anchor="middle" fill="#000" transform="translate(501.8,347.6) rotate(-90)">Amplitude (Qp)</text>
<line x1="77.60" y1="603.10" x2="219.60" y2="603.10" stroke="#5a5a5a" stroke-width="1.0" />
<polyline points="81.9,571.6 126.6,575.0 171.4,568.1 216.1,584.8" fill="none" stroke="#ff0000" stroke-width="1.1"/>
<line x1="81.90" y1="566.39" x2="81.90" y2="576.72" stroke="#ff0000" stroke-width="1.0" />
<line x1="80.30" y1="566.39" x2="83.50" y2="566.39" stroke="#ff0000" stroke-width="1.0" />
<line x1="80.30" y1="576.72" x2="83.50" y2="576.72" stroke="#ff0000" stroke-width="1.0" />
<circle cx="81.9" cy="571.6" r="1.6" fill="#ff0000"/>
<line x1="126.60" y1="566.39" x2="126.60" y2="583.61" stroke="#ff0000" stroke-width="1.0" />
<line x1="125.00" y1="566.39" x2="128.20" y2="566.39" stroke="#ff0000" stroke-width="1.0" />
<line x1="125.00" y1="583.61" x2="128.20" y2="583.61" stroke="#ff0000" stroke-width="1.0" />
<circle cx="126.6" cy="575.0" r="1.6" fill="#ff0000"/>
<line x1="171.40" y1="557.21" x2="171.40" y2="579.02" stroke="#ff0000" stroke-width="1.0" />
<line x1="169.80" y1="557.21" x2="173.00" y2="557.21" stroke="#ff0000" stroke-width="1.0" />
<line x1="169.80" y1="579.02" x2="173.00" y2="579.02" stroke="#ff0000" stroke-width="1.0" />
<circle cx="171.4" cy="568.1" r="1.6" fill="#ff0000"/>
<line x1="216.10" y1="575.00" x2="216.10" y2="594.52" stroke="#ff0000" stroke-width="1.0" />
<line x1="214.50" y1="575.00" x2="217.70" y2="575.00" stroke="#ff0000" stroke-width="1.0" />
<line x1="214.50" y1="594.52" x2="217.70" y2="594.52" stroke="#ff0000" stroke-width="1.0" />
<circle cx="216.1" cy="584.8" r="1.6" fill="#ff0000"/>
<polyline points="81.9,550.3 126.6,546.9 171.4,537.7 216.1,552.6" fill="none" stroke="#0000ff" stroke-width="1.1"/>
<line x1="81.90" y1="538.55" x2="81.90" y2="562.09" stroke="#0000ff" stroke-width="1.0" />
<line x1="80.30" y1="538.55" x2="83.50" y2="538.55" stroke="#0000ff" stroke-width="1.0" />
<line x1="80.30" y1="562.09" x2="83.50" y2="562.09" stroke="#0000ff" stroke-width="1.0" />
<circle cx="81.9" cy="550.3" r="1.6" fill="#0000ff"/>
<line x1="126.60" y1="534.54" x2="126.60" y2="559.22" stroke="#0000ff" stroke-width="1.0" />
<line x1="125.00" y1="534.54" x2="128.20" y2="534.54" stroke="#0000ff" stroke-width="1.0" />
<line x1="125.00" y1="559.22" x2="128.20" y2="559.22" stroke="#0000ff" stroke-width="1.0" />
<circle cx="126.6" cy="546.9" r="1.6" fill="#0000ff"/>
<line x1="171.40" y1="530.23" x2="171.40" y2="545.15" stroke="#0000ff" stroke-width="1.0" />
<line x1="169.80" y1="530.23" x2="173.00" y2="530.23" stroke="#0000ff" stroke-width="1.0" />
<line x1="169.80" y1="545.15" x2="173.00" y2="545.15" stroke="#0000ff" stroke-width="1.0" />
<circle cx="171.4" cy="537.7" r="1.6" fill="#0000ff"/>
<line x1="216.10" y1="544.58" x2="216.10" y2="560.65" stroke="#0000ff" stroke-width="1.0" />
<line x1="214.50" y1="544.58" x2="217.70" y2="544.58" stroke="#0000ff" stroke-width="1.0" />
<line x1="214.50" y1="560.65" x2="217.70" y2="560.65" stroke="#0000ff" stroke-width="1.0" />
<circle cx="216.1" cy="552.6" r="1.6" fill="#0000ff"/>
<line x1="77.60" y1="503.40" x2="77.60" y2="620.20" stroke="#000" stroke-width="1.6" />
<line x1="76.60" y1="619.20" x2="220.70" y2="619.20" stroke="#000" stroke-width="1.6" />
<line x1="71.90" y1="619.20" x2="77.60" y2="619.20" stroke="#000" stroke-width="1.4" />
<text x="70.4" y="623.3" font-size="11.4" font-weight="bold" text-anchor="end" fill="#000" >1500</text>
<line x1="71.90" y1="590.50" x2="77.60" y2="590.50" stroke="#000" stroke-width="1.4" />
<text x="70.4" y="594.6" font-size="11.4" font-weight="bold" text-anchor="end" fill="#000" >2000</text>
<line x1="71.90" y1="561.80" x2="77.60" y2="561.80" stroke="#000" stroke-width="1.4" />
<text x="70.4" y="565.9" font-size="11.4" font-weight="bold" text-anchor="end" fill="#000" >2500</text>
<line x1="71.90" y1="533.10" x2="77.60" y2="533.10" stroke="#000" stroke-width="1.4" />
<text x="70.4" y="537.2" font-size="11.4" font-weight="bold" text-anchor="end" fill="#000" >3000</text>
<line x1="71.90" y1="504.40" x2="77.60" y2="504.40" stroke="#000" stroke-width="1.4" />
<text x="70.4" y="508.5" font-size="11.4" font-weight="bold" text-anchor="end" fill="#000" >3500</text>
<line x1="81.90" y1="619.20" x2="81.90" y2="625.00" stroke="#000" stroke-width="1.4" />
<text x="81.9" y="636.1" font-size="11.2" font-weight="bold" text-anchor="middle" fill="#000" >1-5</text>
<line x1="126.60" y1="619.20" x2="126.60" y2="625.00" stroke="#000" stroke-width="1.4" />
<text x="126.6" y="636.1" font-size="11.2" font-weight="bold" text-anchor="middle" fill="#000" >6-10</text>
<line x1="171.40" y1="619.20" x2="171.40" y2="625.00" stroke="#000" stroke-width="1.4" />
<text x="171.4" y="636.1" font-size="11.2" font-weight="bold" text-anchor="middle" fill="#000" >11-15</text>
<line x1="216.10" y1="619.20" x2="216.10" y2="625.00" stroke="#000" stroke-width="1.4" />
<text x="216.1" y="636.1" font-size="11.2" font-weight="bold" text-anchor="middle" fill="#000" >16-20</text>
<text x="152.6" y="650.2" font-size="13.3" font-weight="bold" text-anchor="middle" fill="#000" >Day in DD</text>
<polyline points="221.6,551.9 227.2,551.9 227.2,585.1 221.6,585.1" fill="none" stroke="#111" stroke-width="1.5"/>
<text x="230.0" y="575.7" font-size="15" font-weight="bold" text-anchor="start" fill="#000" >*</text>
<text x="0.0" y="0.0" font-size="14.5" font-weight="bold" text-anchor="middle" fill="#000" transform="translate(31.8,559.7) rotate(-90)">Amplitude (Qp)</text>
<polyline points="325.2,564.7 369.6,583.4 414.0,574.9 458.4,576.6" fill="none" stroke="#ff0000" stroke-width="1.1"/>
<line x1="325.20" y1="542.55" x2="325.20" y2="586.86" stroke="#ff0000" stroke-width="1.0" />
<line x1="323.60" y1="542.55" x2="326.80" y2="542.55" stroke="#ff0000" stroke-width="1.0" />
<line x1="323.60" y1="586.86" x2="326.80" y2="586.86" stroke="#ff0000" stroke-width="1.0" />
<circle cx="325.2" cy="564.7" r="1.6" fill="#ff0000"/>
<line x1="369.60" y1="563.00" x2="369.60" y2="603.90" stroke="#ff0000" stroke-width="1.0" />
<line x1="368.00" y1="563.00" x2="371.20" y2="563.00" stroke="#ff0000" stroke-width="1.0" />
<line x1="368.00" y1="603.90" x2="371.20" y2="603.90" stroke="#ff0000" stroke-width="1.0" />
<circle cx="369.6" cy="583.4" r="1.6" fill="#ff0000"/>
<line x1="414.00" y1="569.25" x2="414.00" y2="580.61" stroke="#ff0000" stroke-width="1.0" />
<line x1="412.40" y1="569.25" x2="415.60" y2="569.25" stroke="#ff0000" stroke-width="1.0" />
<line x1="412.40" y1="580.61" x2="415.60" y2="580.61" stroke="#ff0000" stroke-width="1.0" />
<circle cx="414.0" cy="574.9" r="1.6" fill="#ff0000"/>
<line x1="458.40" y1="559.59" x2="458.40" y2="593.67" stroke="#ff0000" stroke-width="1.0" />
<line x1="456.80" y1="559.59" x2="460.00" y2="559.59" stroke="#ff0000" stroke-width="1.0" />
<line x1="456.80" y1="593.67" x2="460.00" y2="593.67" stroke="#ff0000" stroke-width="1.0" />
<circle cx="458.4" cy="576.6" r="1.6" fill="#ff0000"/>
<polyline points="325.2,564.7 369.6,557.9 414.0,553.9 458.4,551.1" fill="none" stroke="#0000ff" stroke-width="1.1"/>
<line x1="325.20" y1="557.89" x2="325.20" y2="571.52" stroke="#0000ff" stroke-width="1.0" />
<line x1="323.60" y1="557.89" x2="326.80" y2="557.89" stroke="#0000ff" stroke-width="1.0" />
<line x1="323.60" y1="571.52" x2="326.80" y2="571.52" stroke="#0000ff" stroke-width="1.0" />
<circle cx="325.2" cy="564.7" r="1.6" fill="#0000ff"/>
<line x1="369.60" y1="551.07" x2="369.60" y2="564.70" stroke="#0000ff" stroke-width="1.0" />
<line x1="368.00" y1="551.07" x2="371.20" y2="551.07" stroke="#0000ff" stroke-width="1.0" />
<line x1="368.00" y1="564.70" x2="371.20" y2="564.70" stroke="#0000ff" stroke-width="1.0" />
<circle cx="369.6" cy="557.9" r="1.6" fill="#0000ff"/>
<line x1="414.00" y1="547.10" x2="414.00" y2="560.73" stroke="#0000ff" stroke-width="1.0" />
<line x1="412.40" y1="547.10" x2="415.60" y2="547.10" stroke="#0000ff" stroke-width="1.0" />
<line x1="412.40" y1="560.73" x2="415.60" y2="560.73" stroke="#0000ff" stroke-width="1.0" />
<circle cx="414.0" cy="553.9" r="1.6" fill="#0000ff"/>
<line x1="458.40" y1="545.96" x2="458.40" y2="556.18" stroke="#0000ff" stroke-width="1.0" />
<line x1="456.80" y1="545.96" x2="460.00" y2="545.96" stroke="#0000ff" stroke-width="1.0" />
<line x1="456.80" y1="556.18" x2="460.00" y2="556.18" stroke="#0000ff" stroke-width="1.0" />
<circle cx="458.4" cy="551.1" r="1.6" fill="#0000ff"/>
<line x1="320.60" y1="505.20" x2="320.60" y2="620.80" stroke="#000" stroke-width="1.6" />
<line x1="319.60" y1="619.80" x2="463.50" y2="619.80" stroke="#000" stroke-width="1.6" />
<line x1="314.90" y1="619.80" x2="320.60" y2="619.80" stroke="#000" stroke-width="1.4" />
<text x="313.4" y="623.9" font-size="11.4" font-weight="bold" text-anchor="end" fill="#000" >23.5</text>
<line x1="314.90" y1="591.40" x2="320.60" y2="591.40" stroke="#000" stroke-width="1.4" />
<text x="313.4" y="595.5" font-size="11.4" font-weight="bold" text-anchor="end" fill="#000" >24.0</text>
<line x1="314.90" y1="563.00" x2="320.60" y2="563.00" stroke="#000" stroke-width="1.4" />
<text x="313.4" y="567.1" font-size="11.4" font-weight="bold" text-anchor="end" fill="#000" >24.5</text>
<line x1="314.90" y1="534.60" x2="320.60" y2="534.60" stroke="#000" stroke-width="1.4" />
<text x="313.4" y="538.7" font-size="11.4" font-weight="bold" text-anchor="end" fill="#000" >25.0</text>
<line x1="314.90" y1="506.20" x2="320.60" y2="506.20" stroke="#000" stroke-width="1.4" />
<text x="313.4" y="510.3" font-size="11.4" font-weight="bold" text-anchor="end" fill="#000" >25.5</text>
<line x1="325.20" y1="619.80" x2="325.20" y2="625.60" stroke="#000" stroke-width="1.4" />
<text x="325.2" y="636.7" font-size="11.2" font-weight="bold" text-anchor="middle" fill="#000" >1-5</text>
<line x1="369.60" y1="619.80" x2="369.60" y2="625.60" stroke="#000" stroke-width="1.4" />
<text x="369.6" y="636.7" font-size="11.2" font-weight="bold" text-anchor="middle" fill="#000" >6-10</text>
<line x1="414.00" y1="619.80" x2="414.00" y2="625.60" stroke="#000" stroke-width="1.4" />
<text x="414.0" y="636.7" font-size="11.2" font-weight="bold" text-anchor="middle" fill="#000" >11-15</text>
<line x1="458.40" y1="619.80" x2="458.40" y2="625.60" stroke="#000" stroke-width="1.4" />
<text x="458.4" y="636.7" font-size="11.2" font-weight="bold" text-anchor="middle" fill="#000" >16-20</text>
<text x="392.9" y="650.8" font-size="13.3" font-weight="bold" text-anchor="middle" fill="#000" >Day in DD</text>
<polyline points="463.7,550.6 469.3,550.6 469.3,577.4 463.7,577.4" fill="none" stroke="#111" stroke-width="1.5"/>
<text x="473.3" y="566.7" font-size="11.7" font-weight="bold" text-anchor="start" fill="#000" >ns</text>
<text x="0.0" y="0.0" font-size="14.3" font-weight="bold" text-anchor="middle" fill="#000" transform="translate(284.6,559.9) rotate(-90)">Period (h)</text>
<text transform="translate(411.7,490.8) scale(1.025,0.93)" font-size="15.6" font-weight="bold" font-style="italic" fill="#0000ff" text-anchor="start"><tspan>Avp-CK1δ</tspan><tspan dy="-5.5" font-size="10.6">−/−</tspan><tspan dy="5.5">; Vip</tspan><tspan dy="-5.5" font-size="10.2">wt/tTA</tspan></text>
<text transform="translate(411.7,512.0) scale(1.025,0.93)" font-size="15.6" font-weight="bold" font-style="italic" fill="#ff0000" text-anchor="start"><tspan>Avp-CK1δ</tspan><tspan dy="-5.5" font-size="10.6">−/−</tspan><tspan dy="5.5">; Vip</tspan><tspan dy="-5.5" font-size="10.2">tTA/tTA</tspan></text>
</svg></body></html>
